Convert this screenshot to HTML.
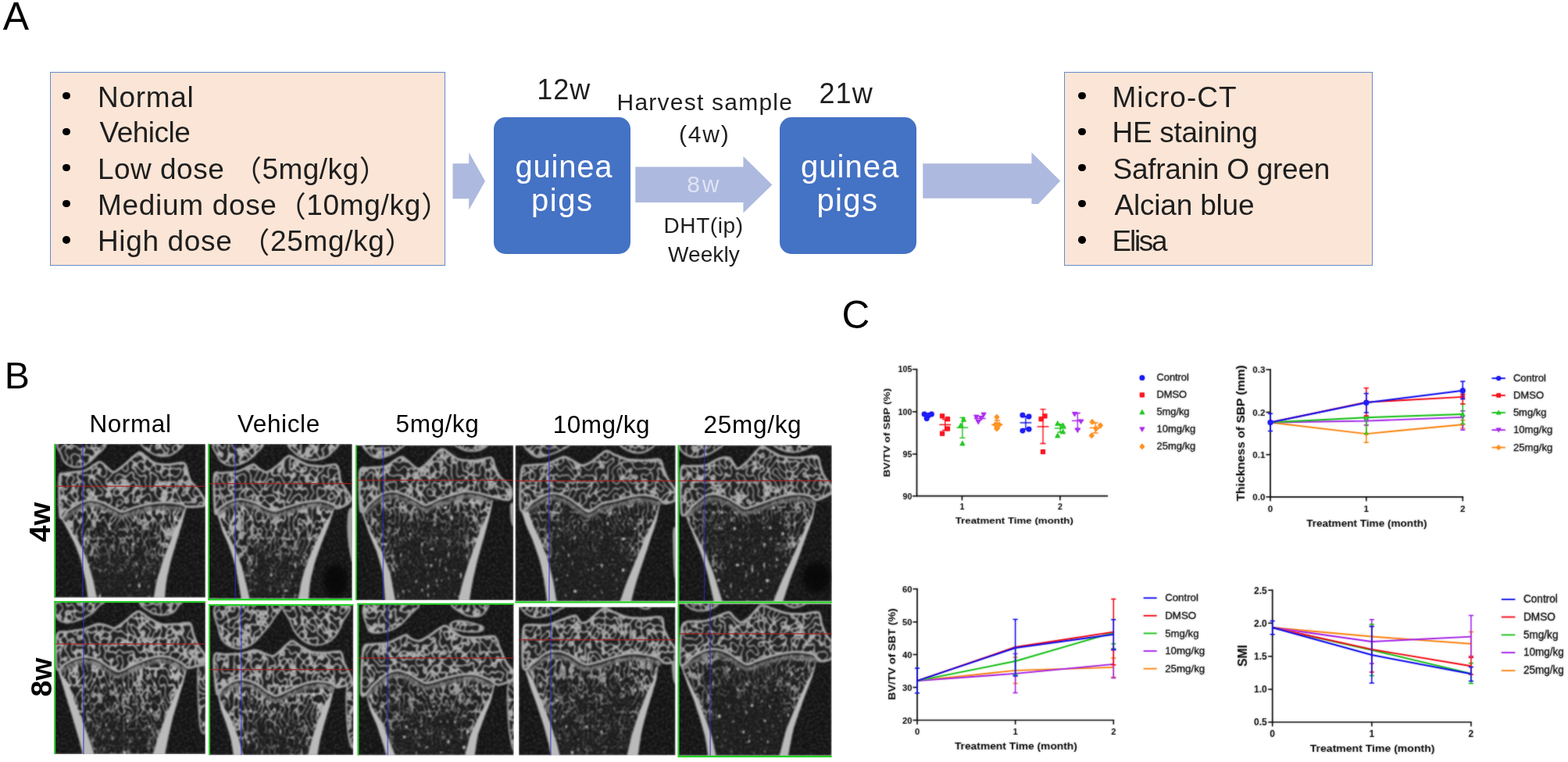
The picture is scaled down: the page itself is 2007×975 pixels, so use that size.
<!DOCTYPE html>
<html lang="en">
<head>
<meta charset="utf-8">
<title>Figure: DHT treatment in guinea pigs - study design, micro-CT and bone parameters</title>
<style>
html,body{margin:0;padding:0;background:#fff}
body{width:2007px;height:975px;position:relative;overflow:hidden;font-family:"Liberation Sans","Noto Sans CJK SC",sans-serif}
svg{display:block}

.pa{position:absolute;left:0;top:0;width:2007px;height:400px}
.tx{position:absolute;font-family:"Liberation Sans","Noto Sans CJK SC",sans-serif;white-space:nowrap;line-height:1.2;margin:0;padding:0}
.box{position:absolute;box-sizing:border-box;background:#fbe5d6;border:1.8px solid #668bce}
.tx .fp{position:relative;top:3.2px}
.ls{list-style:none;margin:0;padding:0}
.bul{position:absolute;width:9.6px;height:9.6px;border-radius:50%;background:#000}
.gp{position:absolute;background:#4472c4;border-radius:15px}
.arr{position:absolute;left:570px;top:185px;width:800px;height:100px}


.pb{position:absolute;left:0;top:440px;width:1100px;height:535px}
.pb text{font-family:"Liberation Sans","Noto Sans CJK SC",sans-serif;fill:#000}


.pc{position:absolute;left:1070px;top:370px;width:937px;height:605px}
.pc text{font-family:"Liberation Sans","Noto Sans CJK SC",sans-serif;fill:#1a1a1a}
.pc .chart{filter:url(#cblur)}

</style>
</head>
<body>

<section class="pa">
  <div class="tx" id="lblA" style="left:3.85px;top:-9.43px;font-size:50.00px;letter-spacing:-2.800px;color:#000">A</div>
  <div class="box" style="left:64px;top:92.4px;width:506.2px;height:248px"></div>
  <div class="box" style="left:1362.2px;top:92.4px;width:395.2px;height:248px"></div>
  <i class="bul" style="left:80.4px;top:117.8px"></i><i class="bul" style="left:80.4px;top:163.8px"></i><i class="bul" style="left:80.4px;top:209.8px"></i><i class="bul" style="left:80.4px;top:255.8px"></i><i class="bul" style="left:80.4px;top:302.1px"></i><i class="bul" style="left:1380.0px;top:117.8px"></i><i class="bul" style="left:1380.0px;top:163.8px"></i><i class="bul" style="left:1380.0px;top:209.8px"></i><i class="bul" style="left:1380.0px;top:255.8px"></i><i class="bul" style="left:1380.0px;top:302.1px"></i>
  <ul class="ls">
  <li class="tx" id="l1" style="left:125.00px;top:102.78px;font-size:37.00px;letter-spacing:0.720px;color:#1e1e1e">Normal</li>
  <li class="tx" id="l2" style="left:127.50px;top:148.38px;font-size:37.00px;letter-spacing:-0.500px;color:#1e1e1e">Vehicle</li>
  <li class="tx" id="l3" style="left:125.00px;top:194.68px;font-size:37.00px;letter-spacing:0.475px;color:#1e1e1e">Low dose <span class="fp">（</span>5mg/kg<span class="fp">）</span></li>
  <li class="tx" id="l4" style="left:125.00px;top:240.98px;font-size:37.00px;letter-spacing:0.684px;color:#1e1e1e">Medium dose<span class="fp">（</span>10mg/kg<span class="fp">）</span></li>
  <li class="tx" id="l5" style="left:125.00px;top:287.28px;font-size:37.00px;letter-spacing:0.644px;color:#1e1e1e">High dose <span class="fp">（</span>25mg/kg<span class="fp">）</span></li>
  </ul>
  <svg class="arr" viewBox="570 185 800 100" aria-hidden="true">
    <g fill="#adb9de">
      <path d="M579.5 209.3H600.2V195L621 231.7L600.2 268.6V254.3H579.5Z"/>
      <path d="M813.3 213.6H951.4V200L988.4 236.4L951.4 272.4V258.9H813.3Z"/>
      <path d="M1181.2 209.3H1320.4V195L1357.2 231.6L1329 261H1320.4V253.8H1181.2Z"/>
    </g>
  </svg>
  <div class="tx" id="t12" style="left:687.20px;top:93.33px;font-size:36.00px;letter-spacing:1.000px;color:#1e1e1e">12w</div>
  <div class="gp" style="left:632.3px;top:149.7px;width:174.6px;height:175px"></div>
  <div class="tx" id="g1a" style="left:659.50px;top:189.14px;font-size:40.00px;letter-spacing:0.800px;color:#fff">guinea</div>
  <div class="tx" id="g1b" style="left:680.00px;top:231.64px;font-size:40.00px;letter-spacing:1.533px;color:#fff">pigs</div>
  <div class="tx" id="tHarv" style="left:789.50px;top:112.80px;font-size:30.00px;letter-spacing:1.231px;color:#1e1e1e">Harvest sample</div>
  <div class="tx" id="t4w" style="left:869.00px;top:153.60px;font-size:30.00px;letter-spacing:1.800px;color:#1e1e1e">(4w)</div>
  <div class="tx" id="t8w" style="left:879.20px;top:217.60px;font-size:30.00px;letter-spacing:2.800px;color:#dfe4f3">8w</div>
  <div class="tx" id="tDHT" style="left:849.50px;top:272.30px;font-size:28.00px;letter-spacing:0.600px;color:#1e1e1e">DHT(ip)</div>
  <div class="tx" id="tWk" style="left:855.00px;top:308.50px;font-size:28.00px;letter-spacing:0.080px;color:#1e1e1e">Weekly</div>
  <div class="tx" id="t21" style="left:1048.60px;top:97.63px;font-size:36.00px;letter-spacing:1.000px;color:#1e1e1e">21w</div>
  <div class="gp" style="left:998.2px;top:149.7px;width:174.6px;height:175px"></div>
  <div class="tx" id="g2a" style="left:1025.00px;top:189.14px;font-size:40.00px;letter-spacing:1.040px;color:#fff">guinea</div>
  <div class="tx" id="g2b" style="left:1045.50px;top:231.64px;font-size:40.00px;letter-spacing:1.333px;color:#fff">pigs</div>
  <ul class="ls">
  <li class="tx" id="r1" style="left:1423.50px;top:102.78px;font-size:37.00px;letter-spacing:1.000px;color:#1e1e1e">Micro-CT</li>
  <li class="tx" id="r2" style="left:1423.50px;top:148.38px;font-size:37.00px;letter-spacing:-0.300px;color:#1e1e1e">HE staining</li>
  <li class="tx" id="r3" style="left:1424.50px;top:194.68px;font-size:37.00px;letter-spacing:-0.267px;color:#1e1e1e">Safranin O green</li>
  <li class="tx" id="r4" style="left:1426.50px;top:240.98px;font-size:37.00px;letter-spacing:-0.200px;color:#1e1e1e">Alcian blue</li>
  <li class="tx" id="r5" style="left:1423.50px;top:287.28px;font-size:37.00px;letter-spacing:-2.250px;color:#1e1e1e">Elisa</li>
  </ul>
</section>


<svg class="pb" viewBox="0 440 1100 535" role="img" aria-label="Micro-CT images">
<defs>
<filter id="grain" x="0" y="0" width="100%" height="100%" color-interpolation-filters="sRGB">
<feTurbulence type="fractalNoise" baseFrequency="0.42" numOctaves="2" seed="5"/>
<feColorMatrix type="matrix" values="0 0 0 0 1  0 0 0 0 1  0 0 0 0 1  0 0 0 .62 -0.29"/>
</filter>
<filter id="soft" x="-2%" y="-2%" width="104%" height="104%" color-interpolation-filters="sRGB"><feGaussianBlur stdDeviation="0.85"/></filter>
<filter id="b05" x="-10%" y="-30%" width="120%" height="160%" color-interpolation-filters="sRGB"><feGaussianBlur stdDeviation="0.5"/></filter>
<filter id="b1" x="-10%" y="-30%" width="120%" height="160%" color-interpolation-filters="sRGB"><feGaussianBlur stdDeviation="1.2"/></filter>
<radialGradient id="blob"><stop offset="0" stop-color="#060606" stop-opacity=".9"/><stop offset=".6" stop-color="#060606" stop-opacity=".8"/><stop offset="1" stop-color="#060606" stop-opacity="0"/></radialGradient>
</defs>
<text id="lblB" x="5.80" y="497.2" font-size="48.2" style="letter-spacing:6.000px">B</text>
<text id="hN" x="114.40" y="553.2" font-size="31.5" style="letter-spacing:0.600px">Normal</text>
<text id="hV" x="303.90" y="553.2" font-size="31.5" style="letter-spacing:0.633px">Vehicle</text>
<text id="h5" x="506.60" y="552.8" font-size="31.5" style="letter-spacing:0.560px">5mg/kg</text>
<text id="h10" x="707.70" y="554.3" font-size="31.5" style="letter-spacing:0.500px">10mg/kg</text>
<text id="h25" x="900.60" y="554.3" font-size="31.5" style="letter-spacing:0.700px">25mg/kg</text>
<text transform="translate(64.2 693.4) rotate(-90)" font-size="37" font-weight="bold" textLength="51" lengthAdjust="spacingAndGlyphs">4w</text>
<text transform="translate(65.6 891.6) rotate(-90)" font-size="37" font-weight="bold" textLength="50" lengthAdjust="spacingAndGlyphs">8w</text>
<clipPath id="cp-r1c1"><rect x="69.4" y="567.9" width="193.7" height="196.8"/></clipPath>
<filter id="ve-r1c1" x="67.4" y="565.9" width="197.7" height="200.8" filterUnits="userSpaceOnUse" color-interpolation-filters="sRGB">
<feTurbulence type="turbulence" baseFrequency="0.14 0.115" numOctaves="1" seed="3"/>
<feColorMatrix type="matrix" values="0 0 0 0 .7  0 0 0 0 .7  0 0 0 0 .7  0 0 0 -11 1.7"/>
<feComposite operator="in" in2="SourceGraphic"/>
</filter>
<filter id="vm-r1c1" x="67.4" y="565.9" width="197.7" height="200.8" filterUnits="userSpaceOnUse" color-interpolation-filters="sRGB">
<feTurbulence type="turbulence" baseFrequency="0.17 0.09" numOctaves="1" seed="103" result="t"/>
<feColorMatrix type="matrix" values="0 0 0 0 .78  0 0 0 0 .78  0 0 0 0 .78  0 0 0 -4.2 1" result="v"/>
<feTurbulence type="fractalNoise" baseFrequency="0.07 0.045" numOctaves="2" seed="203"/>
<feColorMatrix type="matrix" values="0 0 0 0 1  0 0 0 0 1  0 0 0 0 1  0 0 0 2.2 -0.22" result="n"/>
<feGaussianBlur in="SourceGraphic" stdDeviation="4" result="g0"/>
<feComposite in="g0" in2="n" operator="arithmetic" k1="0.55" k2="0.5" k3="0" k4="0" result="g"/>
<feComposite in="v" in2="g" operator="arithmetic" k1="1" k2="0" k3="0" k4="0" result="m"/>
<feComponentTransfer in="m"><feFuncA type="linear" slope="12" intercept="-4.7"/></feComponentTransfer>
<feComposite operator="in" in2="SourceAlpha"/>
</filter>
<filter id="sp-r1c1" x="67.4" y="565.9" width="197.7" height="200.8" filterUnits="userSpaceOnUse" color-interpolation-filters="sRGB">
<feTurbulence type="fractalNoise" baseFrequency="0.26 0.15" numOctaves="1" seed="303"/>
<feColorMatrix type="matrix" values="0 0 0 0 .78  0 0 0 0 .78  0 0 0 0 .78  0 0 0 14 -9.45"/>
<feComposite operator="in" in2="SourceGraphic"/>
</filter>
<linearGradient id="dg-r1c1" gradientUnits="userSpaceOnUse" x1="0" y1="639.7" x2="0" y2="764.7"><stop offset="0" stop-color="#fff" stop-opacity="0.95"/><stop offset=".3" stop-color="#fff" stop-opacity="0.72"/><stop offset=".62" stop-color="#fff" stop-opacity="0.5"/><stop offset="1" stop-color="#fff" stop-opacity="0.43"/></linearGradient>
<clipPath id="cm-r1c1"><path d="M77.2 661.7L88 652.6L103.1 642.9L116 639.7L131.1 642.9L146.2 650.5L156.9 654.8L172 649.4L189.2 645.1L210.8 642.9L232.3 645.1L238.8 648.3L260.3 647.2L238.8 648.3L232.3 672L225.8 693.5L219.4 715.1L212.9 743.1L210.8 766.8L112.8 766.8L109.5 743.1L103.1 715.1L96.6 697.8L88 680.6L78.3 663.4Z"/></clipPath>
<g clip-path="url(#cp-r1c1)"><g filter="url(#soft)"><rect x="69.4" y="567.9" width="193.7" height="196.8" fill="#101010"/><rect x="69.4" y="567.9" width="193.7" height="196.8" filter="url(#grain)"/><path d="M76.8 566.5C67.6 569 77.2 577.2 78.3 581.5C79.5 585.8 80.6 589.6 83.7 592.3C86.7 595 92.3 597.3 96.6 597.7C100.9 598.1 105.2 596.8 109.5 594.5C113.8 592.1 118.5 588.4 122.5 583.7C126.4 579 140.8 569.3 133.2 566.5C125.6 563.6 86 563.9 76.8 566.5Z" fill="#232323"/><path d="M76.8 566.5C67.6 569 77.2 577.2 78.3 581.5C79.5 585.8 80.6 589.6 83.7 592.3C86.7 595 92.3 597.3 96.6 597.7C100.9 598.1 105.2 596.8 109.5 594.5C113.8 592.1 118.5 588.4 122.5 583.7C126.4 579 140.8 569.3 133.2 566.5C125.6 563.6 86 563.9 76.8 566.5Z" fill="#fff" filter="url(#ve-r1c1)"/><path d="M76.8 566.5C67.6 569 77.2 577.2 78.3 581.5C79.5 585.8 80.6 589.6 83.7 592.3C86.7 595 92.3 597.3 96.6 597.7C100.9 598.1 105.2 596.8 109.5 594.5C113.8 592.1 118.5 588.4 122.5 583.7C126.4 579 140.8 569.3 133.2 566.5C125.6 563.6 86 563.9 76.8 566.5Z" fill="none" stroke="#a6a6a6" stroke-width="2.2"/><path d="M182.8 566.5C176.3 568.6 189.2 576.5 193.5 579.4C197.8 582.3 203.6 583.7 208.6 583.7C213.6 583.7 219.7 582.3 223.7 579.4C227.6 576.5 239.1 568.6 232.3 566.5C225.5 564.3 189.2 564.3 182.8 566.5Z" fill="#232323"/><path d="M182.8 566.5C176.3 568.6 189.2 576.5 193.5 579.4C197.8 582.3 203.6 583.7 208.6 583.7C213.6 583.7 219.7 582.3 223.7 579.4C227.6 576.5 239.1 568.6 232.3 566.5C225.5 564.3 189.2 564.3 182.8 566.5Z" fill="#fff" filter="url(#ve-r1c1)"/><path d="M182.8 566.5C176.3 568.6 189.2 576.5 193.5 579.4C197.8 582.3 203.6 583.7 208.6 583.7C213.6 583.7 219.7 582.3 223.7 579.4C227.6 576.5 239.1 568.6 232.3 566.5C225.5 564.3 189.2 564.3 182.8 566.5Z" fill="none" stroke="#a6a6a6" stroke-width="2.2"/><path d="M77.2 661.7L88 652.6L103.1 642.9L116 639.7L131.1 642.9L146.2 650.5L156.9 654.8L172 649.4L189.2 645.1L210.8 642.9L232.3 645.1L238.8 648.3L260.3 647.2L238.8 648.3L232.3 672L225.8 693.5L219.4 715.1L212.9 743.1L210.8 766.8L112.8 766.8L109.5 743.1L103.1 715.1L96.6 697.8L88 680.6L78.3 663.4Z" fill="#fff" fill-opacity=".035"/><g filter="url(#vm-r1c1)" clip-path="url(#cm-r1c1)"><rect x="59.4" y="557.9" width="213.7" height="216.8" fill="url(#dg-r1c1)"/><path d="M78.3 663.4L88 680.6L96.6 697.8L103.1 715.1L125.1 715.1L118.6 697.8L110 680.6L100.3 663.4Z" fill="#fff" fill-opacity="0.35"/><path d="M238.8 648.3L232.3 672L225.8 693.5L219.4 715.1L197.4 715.1L203.8 693.5L210.3 672L216.8 648.3Z" fill="#fff" fill-opacity="0.35"/></g><path d="M77.2 661.7L88 652.6L103.1 642.9L116 639.7L131.1 642.9L146.2 650.5L156.9 654.8L172 649.4L189.2 645.1L210.8 642.9L232.3 645.1L238.8 648.3L260.3 647.2L238.8 648.3L232.3 672L225.8 693.5L219.4 715.1L212.9 743.1L210.8 766.8L112.8 766.8L109.5 743.1L103.1 715.1L96.6 697.8L88 680.6L78.3 663.4Z" fill="#fff" filter="url(#sp-r1c1)"/><g clip-path="url(#cm-r1c1)"><path d="M77.2 668.1C79 666.6 83.7 662.2 88 659.1C92.3 656 98.4 651.5 103.1 649.4C107.7 647.2 111.3 646.2 116 646.2C120.7 646.2 126.1 647.6 131.1 649.4C136.1 651.2 141.8 654.9 146.2 656.9C150.5 658.9 152.6 661.4 156.9 661.2C161.2 661.1 166.6 657.5 172 655.8C177.4 654.2 182.8 652.6 189.2 651.5C195.7 650.5 203.6 649.4 210.8 649.4C217.9 649.4 227.6 650.6 232.3 651.5C237 652.4 234.1 654.4 238.8 654.8C243.4 655.1 256.7 653.9 260.3 653.7" fill="none" stroke="#707070" stroke-width="5" stroke-opacity=".8" filter="url(#b1)"/><path d="M77.2 663.6C79 662.1 83.7 657.7 88 654.6C92.3 651.4 98.4 647 103.1 644.9C107.7 642.7 111.3 641.6 116 641.6C120.7 641.6 126.1 643.1 131.1 644.9C136.1 646.7 141.8 650.4 146.2 652.4C150.5 654.4 152.6 656.9 156.9 656.7C161.2 656.5 166.6 652.9 172 651.3C177.4 649.7 182.8 648.1 189.2 647C195.7 645.9 203.6 644.9 210.8 644.9C217.9 644.9 227.6 646.1 232.3 647C237 647.9 234.1 649.9 238.8 650.2C243.4 650.6 256.7 649.3 260.3 649.2" fill="none" stroke="#1a1a1a" stroke-width="2.6" filter="url(#b05)"/></g><path d="M78.3 663.4L82.5 670.8L86.6 678.1L90.5 685.7L94.3 693.2L97.8 700.9L100.7 708.9L103.5 716.9L105.4 725.1L107.3 733.4L109.2 741.6L110.5 750L111.6 758.4L112.8 766.8L124.4 766.8L122.7 758.4L121 750L119.1 741.6L116.6 733.4L114.2 725.1L111.7 716.9L108.4 708.9L104.8 700.9L100.8 693.2L96 685.7L90.1 678.1L84.5 670.8L79.5 663.4Z" fill="#bababa"/><path d="M238.8 648.3L236.3 657.4L233.8 666.4L231.3 675.5L228.6 684.5L225.9 693.4L223.2 702.4L220.5 711.4L218.1 720.5L216 729.7L213.9 738.8L212.5 748.1L211.6 757.4L210.8 766.8L196.3 766.8L198 757.4L199.6 748.1L201.8 738.8L204.7 729.7L207.5 720.5L210.6 711.4L214.1 702.4L217.6 693.4L221 684.5L224.5 675.5L229.1 666.4L233.8 657.4L237.6 648.3Z" fill="#bababa"/><path d="M76.2 610.6C76.8 602.9 79 607.2 81.5 606.3C84.1 605.4 90.5 604.8 94.5 604.2C98.4 603.6 105 603.8 109.5 602C114.1 600.2 123.3 592.1 126.8 591.2C130.2 590.3 131.7 593.7 134.3 595.5C136.9 597.3 141.9 604 145.1 604.2C148.2 604.3 152.4 600.1 156.9 596.6C161.4 593.1 173.5 581.3 177.4 579.4C181.3 577.4 182.1 580.8 184.9 582.6C187.8 584.4 193.6 590.6 197.8 592.3C202.1 594 210.3 594.5 215.1 594.5C219.9 594.5 229.1 592.2 232.3 592.3C235.5 592.5 236.2 592.5 237.7 595.5C239.2 598.6 240.8 609.5 243.1 613.8C245.3 618.2 251.3 623.2 253.8 626.8C256.4 630.4 260.5 636.8 261.4 639.7C262.3 642.6 263.5 646 260.3 647.2C257.1 648.4 242.7 648.6 238.8 648.3C234.8 648 236.2 645.8 232.3 645.1C228.4 644.3 216.8 642.9 210.8 642.9C204.7 642.9 194.7 644.2 189.2 645.1C183.8 646 176.5 648 172 649.4C167.5 650.7 160.5 654.6 156.9 654.8C153.3 654.9 149.8 652.1 146.2 650.5C142.5 648.8 135.3 644.4 131.1 642.9C126.9 641.4 119.9 639.7 116 639.7C112.1 639.7 107 641.1 103.1 642.9C99.2 644.7 91.6 650 88 652.6C84.4 655.2 78.9 667.5 77.2 661.7C75.6 655.8 75.6 618.4 76.2 610.6Z" fill="#232323"/><path d="M76.2 610.6C76.8 602.9 79 607.2 81.5 606.3C84.1 605.4 90.5 604.8 94.5 604.2C98.4 603.6 105 603.8 109.5 602C114.1 600.2 123.3 592.1 126.8 591.2C130.2 590.3 131.7 593.7 134.3 595.5C136.9 597.3 141.9 604 145.1 604.2C148.2 604.3 152.4 600.1 156.9 596.6C161.4 593.1 173.5 581.3 177.4 579.4C181.3 577.4 182.1 580.8 184.9 582.6C187.8 584.4 193.6 590.6 197.8 592.3C202.1 594 210.3 594.5 215.1 594.5C219.9 594.5 229.1 592.2 232.3 592.3C235.5 592.5 236.2 592.5 237.7 595.5C239.2 598.6 240.8 609.5 243.1 613.8C245.3 618.2 251.3 623.2 253.8 626.8C256.4 630.4 260.5 636.8 261.4 639.7C262.3 642.6 263.5 646 260.3 647.2C257.1 648.4 242.7 648.6 238.8 648.3C234.8 648 236.2 645.8 232.3 645.1C228.4 644.3 216.8 642.9 210.8 642.9C204.7 642.9 194.7 644.2 189.2 645.1C183.8 646 176.5 648 172 649.4C167.5 650.7 160.5 654.6 156.9 654.8C153.3 654.9 149.8 652.1 146.2 650.5C142.5 648.8 135.3 644.4 131.1 642.9C126.9 641.4 119.9 639.7 116 639.7C112.1 639.7 107 641.1 103.1 642.9C99.2 644.7 91.6 650 88 652.6C84.4 655.2 78.9 667.5 77.2 661.7C75.6 655.8 75.6 618.4 76.2 610.6Z" fill="#fff" filter="url(#ve-r1c1)"/><path d="M76.2 610.6C76.8 602.9 79 607.2 81.5 606.3C84.1 605.4 90.5 604.8 94.5 604.2C98.4 603.6 105 603.8 109.5 602C114.1 600.2 123.3 592.1 126.8 591.2C130.2 590.3 131.7 593.7 134.3 595.5C136.9 597.3 141.9 604 145.1 604.2C148.2 604.3 152.4 600.1 156.9 596.6C161.4 593.1 173.5 581.3 177.4 579.4C181.3 577.4 182.1 580.8 184.9 582.6C187.8 584.4 193.6 590.6 197.8 592.3C202.1 594 210.3 594.5 215.1 594.5C219.9 594.5 229.1 592.2 232.3 592.3C235.5 592.5 236.2 592.5 237.7 595.5C239.2 598.6 240.8 609.5 243.1 613.8C245.3 618.2 251.3 623.2 253.8 626.8C256.4 630.4 260.5 636.8 261.4 639.7C262.3 642.6 263.5 646 260.3 647.2C257.1 648.4 242.7 648.6 238.8 648.3C234.8 648 236.2 645.8 232.3 645.1C228.4 644.3 216.8 642.9 210.8 642.9C204.7 642.9 194.7 644.2 189.2 645.1C183.8 646 176.5 648 172 649.4C167.5 650.7 160.5 654.6 156.9 654.8C153.3 654.9 149.8 652.1 146.2 650.5C142.5 648.8 135.3 644.4 131.1 642.9C126.9 641.4 119.9 639.7 116 639.7C112.1 639.7 107 641.1 103.1 642.9C99.2 644.7 91.6 650 88 652.6C84.4 655.2 78.9 667.5 77.2 661.7C75.6 655.8 75.6 618.4 76.2 610.6Z" fill="none" stroke="#ababab" stroke-width="2.9"/></g><rect x="69.4" y="621.5" width="193.7" height="1.5" fill="#b01c1c" fill-opacity=".72"/><rect x="105" y="567.9" width="1.8" height="196.8" fill="#2c2cd6" fill-opacity=".52"/></g>
<rect x="69.3" y="567.9" width="1.9" height="196.8" fill="#27d027"/>
<clipPath id="cp-r1c2"><rect x="266.3" y="567.9" width="184.6" height="198.2"/></clipPath>
<filter id="ve-r1c2" x="264.3" y="565.9" width="188.6" height="202.2" filterUnits="userSpaceOnUse" color-interpolation-filters="sRGB">
<feTurbulence type="turbulence" baseFrequency="0.14 0.115" numOctaves="1" seed="7"/>
<feColorMatrix type="matrix" values="0 0 0 0 .7  0 0 0 0 .7  0 0 0 0 .7  0 0 0 -11 1.75"/>
<feComposite operator="in" in2="SourceGraphic"/>
</filter>
<filter id="vm-r1c2" x="264.3" y="565.9" width="188.6" height="202.2" filterUnits="userSpaceOnUse" color-interpolation-filters="sRGB">
<feTurbulence type="turbulence" baseFrequency="0.17 0.09" numOctaves="1" seed="107" result="t"/>
<feColorMatrix type="matrix" values="0 0 0 0 .78  0 0 0 0 .78  0 0 0 0 .78  0 0 0 -4.2 1" result="v"/>
<feTurbulence type="fractalNoise" baseFrequency="0.07 0.045" numOctaves="2" seed="207"/>
<feColorMatrix type="matrix" values="0 0 0 0 1  0 0 0 0 1  0 0 0 0 1  0 0 0 2.2 -0.22" result="n"/>
<feGaussianBlur in="SourceGraphic" stdDeviation="4" result="g0"/>
<feComposite in="g0" in2="n" operator="arithmetic" k1="0.55" k2="0.5" k3="0" k4="0" result="g"/>
<feComposite in="v" in2="g" operator="arithmetic" k1="1" k2="0" k3="0" k4="0" result="m"/>
<feComponentTransfer in="m"><feFuncA type="linear" slope="12" intercept="-4.7"/></feComponentTransfer>
<feComposite operator="in" in2="SourceAlpha"/>
</filter>
<filter id="sp-r1c2" x="264.3" y="565.9" width="188.6" height="202.2" filterUnits="userSpaceOnUse" color-interpolation-filters="sRGB">
<feTurbulence type="fractalNoise" baseFrequency="0.26 0.15" numOctaves="1" seed="307"/>
<feColorMatrix type="matrix" values="0 0 0 0 .78  0 0 0 0 .78  0 0 0 0 .78  0 0 0 14 -9.45"/>
<feComposite operator="in" in2="SourceGraphic"/>
</filter>
<linearGradient id="dg-r1c2" gradientUnits="userSpaceOnUse" x1="0" y1="638.6" x2="0" y2="766.1"><stop offset="0" stop-color="#fff" stop-opacity="0.95"/><stop offset=".3" stop-color="#fff" stop-opacity="0.75"/><stop offset=".62" stop-color="#fff" stop-opacity="0.54"/><stop offset="1" stop-color="#fff" stop-opacity="0.45"/></linearGradient>
<clipPath id="cm-r1c2"><path d="M275.5 655.8L280.8 650.5L293.8 641.8L308.8 638.6L326.1 642.9L341.2 650.5L351.9 653.7L369.2 648.3L388.5 642.9L410.1 640.8L427.3 646.2L431.6 650.5L427.3 652.6L420.8 672L412.2 693.5L403.6 717.2L397.2 743.1L395 766.8L308.8 766.8L305.6 747.4L301.3 723.7L293.8 700L285.2 680.6L277.6 656.9Z"/></clipPath>
<g clip-path="url(#cp-r1c2)"><g filter="url(#soft)"><rect x="266.3" y="567.9" width="184.6" height="198.2" fill="#101010"/><rect x="266.3" y="567.9" width="184.6" height="198.2" filter="url(#grain)"/><ellipse cx="429.5" cy="743.1" rx="19.4" ry="26.5" fill="url(#blob)"/><path d="M276.5 566.5C267.4 569.3 276.9 579.2 278.7 583.7C280.5 588.2 283.7 591.4 287.3 593.4C290.9 595.4 295.6 596.1 300.2 595.5C304.9 595 310.6 592.8 315.3 590.2C320 587.5 325.2 583.3 328.2 579.4C331.3 575.4 342.2 568.6 333.6 566.5C325 564.3 285.7 563.6 276.5 566.5Z" fill="#232323"/><path d="M276.5 566.5C267.4 569.3 276.9 579.2 278.7 583.7C280.5 588.2 283.7 591.4 287.3 593.4C290.9 595.4 295.6 596.1 300.2 595.5C304.9 595 310.6 592.8 315.3 590.2C320 587.5 325.2 583.3 328.2 579.4C331.3 575.4 342.2 568.6 333.6 566.5C325 564.3 285.7 563.6 276.5 566.5Z" fill="#fff" filter="url(#ve-r1c2)"/><path d="M276.5 566.5C267.4 569.3 276.9 579.2 278.7 583.7C280.5 588.2 283.7 591.4 287.3 593.4C290.9 595.4 295.6 596.1 300.2 595.5C304.9 595 310.6 592.8 315.3 590.2C320 587.5 325.2 583.3 328.2 579.4C331.3 575.4 342.2 568.6 333.6 566.5C325 564.3 285.7 563.6 276.5 566.5Z" fill="none" stroke="#a6a6a6" stroke-width="2.2"/><path d="M371.3 566.5C363.1 569 376 577.9 379.9 581.5C383.9 585.1 389.6 587.1 395 588C400.4 588.9 407.2 588.5 412.2 586.9C417.3 585.3 422.3 581.7 425.2 578.3C428 574.9 438.4 568.4 429.5 566.5C420.5 564.5 379.6 563.9 371.3 566.5Z" fill="#232323"/><path d="M371.3 566.5C363.1 569 376 577.9 379.9 581.5C383.9 585.1 389.6 587.1 395 588C400.4 588.9 407.2 588.5 412.2 586.9C417.3 585.3 422.3 581.7 425.2 578.3C428 574.9 438.4 568.4 429.5 566.5C420.5 564.5 379.6 563.9 371.3 566.5Z" fill="#fff" filter="url(#ve-r1c2)"/><path d="M371.3 566.5C363.1 569 376 577.9 379.9 581.5C383.9 585.1 389.6 587.1 395 588C400.4 588.9 407.2 588.5 412.2 586.9C417.3 585.3 422.3 581.7 425.2 578.3C428 574.9 438.4 568.4 429.5 566.5C420.5 564.5 379.6 563.9 371.3 566.5Z" fill="none" stroke="#a6a6a6" stroke-width="2.2"/><path d="M275.5 655.8L280.8 650.5L293.8 641.8L308.8 638.6L326.1 642.9L341.2 650.5L351.9 653.7L369.2 648.3L388.5 642.9L410.1 640.8L427.3 646.2L431.6 650.5L427.3 652.6L420.8 672L412.2 693.5L403.6 717.2L397.2 743.1L395 766.8L308.8 766.8L305.6 747.4L301.3 723.7L293.8 700L285.2 680.6L277.6 656.9Z" fill="#fff" fill-opacity=".035"/><g filter="url(#vm-r1c2)" clip-path="url(#cm-r1c2)"><rect x="256.3" y="557.9" width="204.6" height="218.2" fill="url(#dg-r1c2)"/><path d="M277.6 656.9L285.2 680.6L293.8 700L301.3 723.7L323.3 723.7L315.8 700L307.2 680.6L299.6 656.9Z" fill="#fff" fill-opacity="0.35"/><path d="M427.3 652.6L420.8 672L412.2 693.5L403.6 717.2L381.6 717.2L390.2 693.5L398.8 672L405.3 652.6Z" fill="#fff" fill-opacity="0.35"/></g><path d="M275.5 655.8L280.8 650.5L293.8 641.8L308.8 638.6L326.1 642.9L341.2 650.5L351.9 653.7L369.2 648.3L388.5 642.9L410.1 640.8L427.3 646.2L431.6 650.5L427.3 652.6L420.8 672L412.2 693.5L403.6 717.2L397.2 743.1L395 766.8L308.8 766.8L305.6 747.4L301.3 723.7L293.8 700L285.2 680.6L277.6 656.9Z" fill="#fff" filter="url(#sp-r1c2)"/><g clip-path="url(#cm-r1c2)"><path d="M275.5 662.3C276.4 661.4 277.8 659.3 280.8 656.9C283.9 654.6 289.1 650.3 293.8 648.3C298.4 646.3 303.5 644.9 308.8 645.1C314.2 645.3 320.7 647.4 326.1 649.4C331.5 651.4 336.8 655.1 341.2 656.9C345.5 658.7 347.3 660.5 351.9 660.2C356.6 659.8 363.1 656.6 369.2 654.8C375.3 653 381.7 650.6 388.5 649.4C395.4 648.1 403.6 646.7 410.1 647.2C416.5 647.8 423.7 651 427.3 652.6C430.9 654.2 430.9 656.2 431.6 656.9" fill="none" stroke="#707070" stroke-width="5" stroke-opacity=".8" filter="url(#b1)"/><path d="M275.5 657.8C276.4 656.9 277.8 654.7 280.8 652.4C283.9 650.1 289.1 645.8 293.8 643.8C298.4 641.8 303.5 640.4 308.8 640.6C314.2 640.7 320.7 642.9 326.1 644.9C331.5 646.8 336.8 650.6 341.2 652.4C345.5 654.2 347.3 656 351.9 655.6C356.6 655.3 363.1 652 369.2 650.2C375.3 648.5 381.7 646.1 388.5 644.9C395.4 643.6 403.6 642.2 410.1 642.7C416.5 643.2 423.7 646.5 427.3 648.1C430.9 649.7 430.9 651.7 431.6 652.4" fill="none" stroke="#1a1a1a" stroke-width="2.6" filter="url(#b05)"/></g><path d="M277.6 656.9L280.3 665.3L283 673.7L285.8 682.1L289.4 690.1L293 698.2L295.8 706.5L298.5 714.9L301.2 723.3L302.8 732L304.4 740.7L305.9 749.4L307.4 758.1L308.8 766.8L319.8 766.8L317.8 758.1L315.7 749.4L313.5 740.7L311.3 732L309.1 723.3L305.8 714.9L302.5 706.5L299 698.2L294.8 690.1L289.8 682.1L285.7 673.7L282 665.3L278.8 656.9Z" fill="#bababa"/><path d="M427.3 652.6L424.4 661.3L421.5 670L418.2 678.6L414.8 687.1L411.5 695.6L408.3 704.3L405.2 712.9L402.5 721.7L400.3 730.6L398.1 739.5L396.7 748.5L395.8 757.6L395 766.8L381.9 766.8L383.3 757.6L384.8 748.5L386.9 739.5L389.7 730.6L392.6 721.7L395.9 712.9L399.7 704.3L403.5 695.6L407.5 687.1L411.5 678.6L415.4 670L421.4 661.3L426.1 652.6Z" fill="#bababa"/><path d="M274.4 608.5C275.4 601.4 278.8 606 283 605.2C287.2 604.5 298.8 604.6 304.5 603.1C310.3 601.6 320.3 595.1 323.9 594.5C327.5 593.9 328 597.4 330.4 598.8C332.8 600.1 337.8 604.5 341.2 604.2C344.5 603.9 350.2 599.5 354.1 596.6C358 593.8 365.8 585 369.2 583.7C372.5 582.3 374.5 585.4 377.8 586.9C381.1 588.4 388 593.1 392.8 594.5C397.7 595.8 407.1 596.6 412.2 596.6C417.4 596.6 426.4 593.6 429.5 594.5C432.5 595.4 432.9 600.1 433.8 603.1C434.7 606.1 434.4 612.4 435.9 616C437.4 619.6 442.7 625.9 444.5 628.9C446.3 631.9 448.8 635.3 448.8 637.5C448.8 639.8 447 643.3 444.5 645.1C442.1 646.9 434 650.3 431.6 650.5C429.2 650.6 430.3 647.5 427.3 646.2C424.3 644.8 415.5 641.2 410.1 640.8C404.6 640.3 394.3 641.9 388.5 642.9C382.8 644 374.3 646.8 369.2 648.3C364 649.8 355.8 653.4 351.9 653.7C348 654 344.8 652 341.2 650.5C337.5 649 330.6 644.6 326.1 642.9C321.6 641.3 313.4 638.8 308.8 638.6C304.3 638.5 297.7 640.2 293.8 641.8C289.8 643.5 283.4 648.5 280.8 650.5C278.3 652.4 276.4 661.7 275.5 655.8C274.6 650 273.3 615.5 274.4 608.5Z" fill="#232323"/><path d="M274.4 608.5C275.4 601.4 278.8 606 283 605.2C287.2 604.5 298.8 604.6 304.5 603.1C310.3 601.6 320.3 595.1 323.9 594.5C327.5 593.9 328 597.4 330.4 598.8C332.8 600.1 337.8 604.5 341.2 604.2C344.5 603.9 350.2 599.5 354.1 596.6C358 593.8 365.8 585 369.2 583.7C372.5 582.3 374.5 585.4 377.8 586.9C381.1 588.4 388 593.1 392.8 594.5C397.7 595.8 407.1 596.6 412.2 596.6C417.4 596.6 426.4 593.6 429.5 594.5C432.5 595.4 432.9 600.1 433.8 603.1C434.7 606.1 434.4 612.4 435.9 616C437.4 619.6 442.7 625.9 444.5 628.9C446.3 631.9 448.8 635.3 448.8 637.5C448.8 639.8 447 643.3 444.5 645.1C442.1 646.9 434 650.3 431.6 650.5C429.2 650.6 430.3 647.5 427.3 646.2C424.3 644.8 415.5 641.2 410.1 640.8C404.6 640.3 394.3 641.9 388.5 642.9C382.8 644 374.3 646.8 369.2 648.3C364 649.8 355.8 653.4 351.9 653.7C348 654 344.8 652 341.2 650.5C337.5 649 330.6 644.6 326.1 642.9C321.6 641.3 313.4 638.8 308.8 638.6C304.3 638.5 297.7 640.2 293.8 641.8C289.8 643.5 283.4 648.5 280.8 650.5C278.3 652.4 276.4 661.7 275.5 655.8C274.6 650 273.3 615.5 274.4 608.5Z" fill="#fff" filter="url(#ve-r1c2)"/><path d="M274.4 608.5C275.4 601.4 278.8 606 283 605.2C287.2 604.5 298.8 604.6 304.5 603.1C310.3 601.6 320.3 595.1 323.9 594.5C327.5 593.9 328 597.4 330.4 598.8C332.8 600.1 337.8 604.5 341.2 604.2C344.5 603.9 350.2 599.5 354.1 596.6C358 593.8 365.8 585 369.2 583.7C372.5 582.3 374.5 585.4 377.8 586.9C381.1 588.4 388 593.1 392.8 594.5C397.7 595.8 407.1 596.6 412.2 596.6C417.4 596.6 426.4 593.6 429.5 594.5C432.5 595.4 432.9 600.1 433.8 603.1C434.7 606.1 434.4 612.4 435.9 616C437.4 619.6 442.7 625.9 444.5 628.9C446.3 631.9 448.8 635.3 448.8 637.5C448.8 639.8 447 643.3 444.5 645.1C442.1 646.9 434 650.3 431.6 650.5C429.2 650.6 430.3 647.5 427.3 646.2C424.3 644.8 415.5 641.2 410.1 640.8C404.6 640.3 394.3 641.9 388.5 642.9C382.8 644 374.3 646.8 369.2 648.3C364 649.8 355.8 653.4 351.9 653.7C348 654 344.8 652 341.2 650.5C337.5 649 330.6 644.6 326.1 642.9C321.6 641.3 313.4 638.8 308.8 638.6C304.3 638.5 297.7 640.2 293.8 641.8C289.8 643.5 283.4 648.5 280.8 650.5C278.3 652.4 276.4 661.7 275.5 655.8C274.6 650 273.3 615.5 274.4 608.5Z" fill="none" stroke="#ababab" stroke-width="2.9"/><path d="M445.6 654.8C446.8 650.5 450.5 644.7 451.4 654.8C452.4 664.8 452 706.1 451.4 715.1C450.8 724.1 448.9 714.4 447.8 708.6C446.6 702.9 444.9 689.6 444.5 680.6C444.2 671.6 444.5 659.1 445.6 654.8Z" fill="#9a9a9a"/></g><rect x="266.3" y="618" width="184.6" height="1.5" fill="#b01c1c" fill-opacity=".72"/><rect x="300.4" y="567.9" width="1.8" height="198.2" fill="#2c2cd6" fill-opacity=".52"/></g>
<rect x="266.2" y="567.9" width="1.9" height="198.2" fill="#27d027"/>
<rect x="266.2" y="766" width="184.7" height="2.3" fill="#27d027"/>
<clipPath id="cp-r1c3"><rect x="455" y="569.6" width="202.3" height="198.4"/></clipPath>
<filter id="ve-r1c3" x="453" y="567.6" width="206.3" height="202.4" filterUnits="userSpaceOnUse" color-interpolation-filters="sRGB">
<feTurbulence type="turbulence" baseFrequency="0.14 0.115" numOctaves="1" seed="11"/>
<feColorMatrix type="matrix" values="0 0 0 0 .7  0 0 0 0 .7  0 0 0 0 .7  0 0 0 -11 1.6"/>
<feComposite operator="in" in2="SourceGraphic"/>
</filter>
<filter id="vm-r1c3" x="453" y="567.6" width="206.3" height="202.4" filterUnits="userSpaceOnUse" color-interpolation-filters="sRGB">
<feTurbulence type="turbulence" baseFrequency="0.17 0.09" numOctaves="1" seed="111" result="t"/>
<feColorMatrix type="matrix" values="0 0 0 0 .78  0 0 0 0 .78  0 0 0 0 .78  0 0 0 -4.2 1" result="v"/>
<feTurbulence type="fractalNoise" baseFrequency="0.07 0.045" numOctaves="2" seed="211"/>
<feColorMatrix type="matrix" values="0 0 0 0 1  0 0 0 0 1  0 0 0 0 1  0 0 0 2.2 -0.22" result="n"/>
<feGaussianBlur in="SourceGraphic" stdDeviation="4" result="g0"/>
<feComposite in="g0" in2="n" operator="arithmetic" k1="0.55" k2="0.5" k3="0" k4="0" result="g"/>
<feComposite in="v" in2="g" operator="arithmetic" k1="1" k2="0" k3="0" k4="0" result="m"/>
<feComponentTransfer in="m"><feFuncA type="linear" slope="12" intercept="-4.7"/></feComponentTransfer>
<feComposite operator="in" in2="SourceAlpha"/>
</filter>
<filter id="sp-r1c3" x="453" y="567.6" width="206.3" height="202.4" filterUnits="userSpaceOnUse" color-interpolation-filters="sRGB">
<feTurbulence type="fractalNoise" baseFrequency="0.26 0.15" numOctaves="1" seed="311"/>
<feColorMatrix type="matrix" values="0 0 0 0 .78  0 0 0 0 .78  0 0 0 0 .78  0 0 0 14 -9.45"/>
<feComposite operator="in" in2="SourceGraphic"/>
</filter>
<linearGradient id="dg-r1c3" gradientUnits="userSpaceOnUse" x1="0" y1="628.9" x2="0" y2="768"><stop offset="0" stop-color="#fff" stop-opacity="0.85"/><stop offset=".3" stop-color="#fff" stop-opacity="0.6"/><stop offset=".62" stop-color="#fff" stop-opacity="0.44"/><stop offset="1" stop-color="#fff" stop-opacity="0.4"/></linearGradient>
<clipPath id="cm-r1c3"><path d="M461.8 653.7L473.7 644L488.8 632.2L503.8 628.9L518.9 633.2L534 640.8L544.8 646.2L562 638.6L579.2 633.2L596.5 628.9L613.7 631.1L628.8 635.4L650.3 639.7L630.9 639.7L626.6 661.2L620.2 684.9L611.5 715.1L605.1 743.1L600.8 768.9L493.1 768.9L489.8 732.3L482.3 706.5L471.5 680.6L462.9 654.8Z"/></clipPath>
<g clip-path="url(#cp-r1c3)"><g filter="url(#soft)"><rect x="455" y="569.6" width="202.3" height="198.4" fill="#101010"/><rect x="455" y="569.6" width="202.3" height="198.4" filter="url(#grain)"/><path d="M467.2 567.5C460.1 569.5 469 576.3 471.5 579.4C474.1 582.4 478 585.3 482.3 585.8C486.6 586.4 492.7 584.4 497.4 582.6C502.1 580.8 507.4 577.6 510.3 575.1C513.2 572.6 521.8 568.8 514.6 567.5C507.4 566.3 474.4 565.6 467.2 567.5Z" fill="#232323"/><path d="M467.2 567.5C460.1 569.5 469 576.3 471.5 579.4C474.1 582.4 478 585.3 482.3 585.8C486.6 586.4 492.7 584.4 497.4 582.6C502.1 580.8 507.4 577.6 510.3 575.1C513.2 572.6 521.8 568.8 514.6 567.5C507.4 566.3 474.4 565.6 467.2 567.5Z" fill="#fff" filter="url(#ve-r1c3)"/><path d="M467.2 567.5C460.1 569.5 469 576.3 471.5 579.4C474.1 582.4 478 585.3 482.3 585.8C486.6 586.4 492.7 584.4 497.4 582.6C502.1 580.8 507.4 577.6 510.3 575.1C513.2 572.6 521.8 568.8 514.6 567.5C507.4 566.3 474.4 565.6 467.2 567.5Z" fill="none" stroke="#a6a6a6" stroke-width="2.2"/><path d="M583.5 567.5C578.5 568.8 588.6 573.5 592.2 575.1C595.7 576.7 600.8 577.4 605.1 577.2C609.4 577.1 615.1 575.6 618 574C620.9 572.4 628.1 568.6 622.3 567.5C616.6 566.5 588.6 566.3 583.5 567.5Z" fill="#232323"/><path d="M583.5 567.5C578.5 568.8 588.6 573.5 592.2 575.1C595.7 576.7 600.8 577.4 605.1 577.2C609.4 577.1 615.1 575.6 618 574C620.9 572.4 628.1 568.6 622.3 567.5C616.6 566.5 588.6 566.3 583.5 567.5Z" fill="#fff" filter="url(#ve-r1c3)"/><path d="M583.5 567.5C578.5 568.8 588.6 573.5 592.2 575.1C595.7 576.7 600.8 577.4 605.1 577.2C609.4 577.1 615.1 575.6 618 574C620.9 572.4 628.1 568.6 622.3 567.5C616.6 566.5 588.6 566.3 583.5 567.5Z" fill="none" stroke="#a6a6a6" stroke-width="2.2"/><path d="M461.8 653.7L473.7 644L488.8 632.2L503.8 628.9L518.9 633.2L534 640.8L544.8 646.2L562 638.6L579.2 633.2L596.5 628.9L613.7 631.1L628.8 635.4L650.3 639.7L630.9 639.7L626.6 661.2L620.2 684.9L611.5 715.1L605.1 743.1L600.8 768.9L493.1 768.9L489.8 732.3L482.3 706.5L471.5 680.6L462.9 654.8Z" fill="#fff" fill-opacity=".035"/><g filter="url(#vm-r1c3)" clip-path="url(#cm-r1c3)"><rect x="445" y="559.6" width="222.3" height="218.4" fill="url(#dg-r1c3)"/><path d="M462.9 654.8L471.5 680.6L482.3 706.5L489.8 732.3L511.8 732.3L504.3 706.5L493.5 680.6L484.9 654.8Z" fill="#fff" fill-opacity="0.35"/><path d="M630.9 639.7L626.6 661.2L620.2 684.9L611.5 715.1L589.5 715.1L598.2 684.9L604.6 661.2L608.9 639.7Z" fill="#fff" fill-opacity="0.35"/></g><path d="M461.8 653.7L473.7 644L488.8 632.2L503.8 628.9L518.9 633.2L534 640.8L544.8 646.2L562 638.6L579.2 633.2L596.5 628.9L613.7 631.1L628.8 635.4L650.3 639.7L630.9 639.7L626.6 661.2L620.2 684.9L611.5 715.1L605.1 743.1L600.8 768.9L493.1 768.9L489.8 732.3L482.3 706.5L471.5 680.6L462.9 654.8Z" fill="#fff" filter="url(#sp-r1c3)"/><g clip-path="url(#cm-r1c3)"><path d="M461.8 660.2C463.8 658.5 469.2 654.1 473.7 650.5C478.2 646.9 483.7 641.1 488.8 638.6C493.8 636.1 498.8 635.2 503.8 635.4C508.9 635.6 513.9 637.7 518.9 639.7C523.9 641.7 529.7 645.1 534 647.2C538.3 649.4 540.1 653 544.8 652.6C549.4 652.3 556.3 647.2 562 645.1C567.7 642.9 573.5 641.3 579.2 639.7C585 638.1 590.7 635.7 596.5 635.4C602.2 635 608.3 636.5 613.7 637.5C619.1 638.6 622.7 640.4 628.8 641.8C634.9 643.3 646.7 645.4 650.3 646.2" fill="none" stroke="#707070" stroke-width="5" stroke-opacity=".8" filter="url(#b1)"/><path d="M461.8 655.6C463.8 654 469.2 649.5 473.7 645.9C478.2 642.3 483.7 636.6 488.8 634.1C493.8 631.6 498.8 630.7 503.8 630.9C508.9 631 513.9 633.2 518.9 635.2C523.9 637.1 529.7 640.6 534 642.7C538.3 644.9 540.1 648.5 544.8 648.1C549.4 647.7 556.3 642.7 562 640.6C567.7 638.4 573.5 636.8 579.2 635.2C585 633.6 590.7 631.2 596.5 630.9C602.2 630.5 608.3 631.9 613.7 633C619.1 634.1 622.7 635.9 628.8 637.3C634.9 638.8 646.7 640.9 650.3 641.6" fill="none" stroke="#1a1a1a" stroke-width="2.6" filter="url(#b05)"/></g><path d="M462.9 654.8L465.8 663.4L468.7 672.1L471.6 680.8L475.1 689.2L478.7 697.7L482.2 706.1L484.8 714.9L487.3 723.7L489.9 732.5L490.7 741.6L491.5 750.7L492.3 759.8L493.1 768.9L506.2 768.9L504.5 759.8L502.8 750.7L501.1 741.6L499.3 732.5L495.9 723.7L492.4 714.9L488.9 706.1L484.4 697.7L479.8 689.2L475.1 680.8L471.1 672.1L467.4 663.4L464.1 654.8Z" fill="#bababa"/><path d="M630.9 639.7L628.9 649.7L626.9 659.7L624.3 669.6L621.6 679.5L618.9 689.3L616.1 699.1L613.3 709L610.7 718.8L608.4 728.8L606.1 738.7L604.1 748.8L602.4 758.8L600.8 768.9L586.3 768.9L588.8 758.8L591.3 748.8L594.1 738.7L597.2 728.8L600.3 718.8L603.8 709L607.4 699.1L611 689.3L614.6 679.5L618.5 669.6L623.2 659.7L626.8 649.7L629.7 639.7Z" fill="#bababa"/><path d="M460.8 603.1C462.1 595.4 467 599.7 471.5 598.8C476.1 597.9 487.3 598.6 493.1 596.6C498.8 594.7 508.5 585.8 512.5 584.8C516.4 583.7 517.9 587 521.1 589.1C524.2 591.2 531.5 599.4 535.1 599.8C538.7 600.3 542.9 595.8 546.9 592.3C551 588.8 560.5 577 564.2 575.1C567.8 573.1 569.5 576.5 572.8 578.3C576.1 580.1 582.7 586.5 587.8 588C593 589.5 603.7 589.4 609.4 589.1C615.1 588.8 625.5 584.8 628.8 585.8C632.1 586.9 631.6 593.3 633.1 596.6C634.6 599.9 636.8 605.9 639.5 609.5C642.3 613.2 650.4 619.1 652.5 622.5C654.6 625.8 654.9 630.8 654.6 633.2C654.3 635.6 653.9 639.4 650.3 639.7C646.7 640 633.9 636.6 628.8 635.4C623.6 634.2 618.2 632 613.7 631.1C609.2 630.2 601.3 628.6 596.5 628.9C591.6 629.2 584.1 631.9 579.2 633.2C574.4 634.6 566.8 636.8 562 638.6C557.2 640.4 548.7 645.9 544.8 646.2C540.8 646.5 537.6 642.6 534 640.8C530.4 639 523.1 634.9 518.9 633.2C514.7 631.6 508.1 629.1 503.8 628.9C499.6 628.8 493 630 488.8 632.2C484.5 634.3 477.5 641 473.7 644C469.9 647 463.7 659.4 461.8 653.7C460 648 459.4 610.8 460.8 603.1Z" fill="#232323"/><path d="M460.8 603.1C462.1 595.4 467 599.7 471.5 598.8C476.1 597.9 487.3 598.6 493.1 596.6C498.8 594.7 508.5 585.8 512.5 584.8C516.4 583.7 517.9 587 521.1 589.1C524.2 591.2 531.5 599.4 535.1 599.8C538.7 600.3 542.9 595.8 546.9 592.3C551 588.8 560.5 577 564.2 575.1C567.8 573.1 569.5 576.5 572.8 578.3C576.1 580.1 582.7 586.5 587.8 588C593 589.5 603.7 589.4 609.4 589.1C615.1 588.8 625.5 584.8 628.8 585.8C632.1 586.9 631.6 593.3 633.1 596.6C634.6 599.9 636.8 605.9 639.5 609.5C642.3 613.2 650.4 619.1 652.5 622.5C654.6 625.8 654.9 630.8 654.6 633.2C654.3 635.6 653.9 639.4 650.3 639.7C646.7 640 633.9 636.6 628.8 635.4C623.6 634.2 618.2 632 613.7 631.1C609.2 630.2 601.3 628.6 596.5 628.9C591.6 629.2 584.1 631.9 579.2 633.2C574.4 634.6 566.8 636.8 562 638.6C557.2 640.4 548.7 645.9 544.8 646.2C540.8 646.5 537.6 642.6 534 640.8C530.4 639 523.1 634.9 518.9 633.2C514.7 631.6 508.1 629.1 503.8 628.9C499.6 628.8 493 630 488.8 632.2C484.5 634.3 477.5 641 473.7 644C469.9 647 463.7 659.4 461.8 653.7C460 648 459.4 610.8 460.8 603.1Z" fill="#fff" filter="url(#ve-r1c3)"/><path d="M460.8 603.1C462.1 595.4 467 599.7 471.5 598.8C476.1 597.9 487.3 598.6 493.1 596.6C498.8 594.7 508.5 585.8 512.5 584.8C516.4 583.7 517.9 587 521.1 589.1C524.2 591.2 531.5 599.4 535.1 599.8C538.7 600.3 542.9 595.8 546.9 592.3C551 588.8 560.5 577 564.2 575.1C567.8 573.1 569.5 576.5 572.8 578.3C576.1 580.1 582.7 586.5 587.8 588C593 589.5 603.7 589.4 609.4 589.1C615.1 588.8 625.5 584.8 628.8 585.8C632.1 586.9 631.6 593.3 633.1 596.6C634.6 599.9 636.8 605.9 639.5 609.5C642.3 613.2 650.4 619.1 652.5 622.5C654.6 625.8 654.9 630.8 654.6 633.2C654.3 635.6 653.9 639.4 650.3 639.7C646.7 640 633.9 636.6 628.8 635.4C623.6 634.2 618.2 632 613.7 631.1C609.2 630.2 601.3 628.6 596.5 628.9C591.6 629.2 584.1 631.9 579.2 633.2C574.4 634.6 566.8 636.8 562 638.6C557.2 640.4 548.7 645.9 544.8 646.2C540.8 646.5 537.6 642.6 534 640.8C530.4 639 523.1 634.9 518.9 633.2C514.7 631.6 508.1 629.1 503.8 628.9C499.6 628.8 493 630 488.8 632.2C484.5 634.3 477.5 641 473.7 644C469.9 647 463.7 659.4 461.8 653.7C460 648 459.4 610.8 460.8 603.1Z" fill="none" stroke="#ababab" stroke-width="2.9"/><path d="M652.9 646.2C653.5 642.6 657 641.8 657.8 646.2C658.7 650.5 658.5 668.4 657.8 672C657.2 675.6 655 672 654.2 667.7C653.4 663.4 652.3 649.7 652.9 646.2Z" fill="#9a9a9a"/></g><rect x="455" y="613.7" width="202.3" height="1.5" fill="#b01c1c" fill-opacity=".72"/><rect x="489.6" y="569.6" width="1.8" height="198.4" fill="#2c2cd6" fill-opacity=".52"/></g>
<rect x="454.9" y="569.6" width="1.9" height="198.4" fill="#27d027"/>
<clipPath id="cp-r1c4"><rect x="659.4" y="569.6" width="205.4" height="199.9"/></clipPath>
<filter id="ve-r1c4" x="657.4" y="567.6" width="209.4" height="203.9" filterUnits="userSpaceOnUse" color-interpolation-filters="sRGB">
<feTurbulence type="turbulence" baseFrequency="0.14 0.115" numOctaves="1" seed="13"/>
<feColorMatrix type="matrix" values="0 0 0 0 .7  0 0 0 0 .7  0 0 0 0 .7  0 0 0 -11 1.5"/>
<feComposite operator="in" in2="SourceGraphic"/>
</filter>
<filter id="vm-r1c4" x="657.4" y="567.6" width="209.4" height="203.9" filterUnits="userSpaceOnUse" color-interpolation-filters="sRGB">
<feTurbulence type="turbulence" baseFrequency="0.17 0.09" numOctaves="1" seed="113" result="t"/>
<feColorMatrix type="matrix" values="0 0 0 0 .78  0 0 0 0 .78  0 0 0 0 .78  0 0 0 -4.2 1" result="v"/>
<feTurbulence type="fractalNoise" baseFrequency="0.07 0.045" numOctaves="2" seed="213"/>
<feColorMatrix type="matrix" values="0 0 0 0 1  0 0 0 0 1  0 0 0 0 1  0 0 0 2.2 -0.22" result="n"/>
<feGaussianBlur in="SourceGraphic" stdDeviation="4" result="g0"/>
<feComposite in="g0" in2="n" operator="arithmetic" k1="0.55" k2="0.5" k3="0" k4="0" result="g"/>
<feComposite in="v" in2="g" operator="arithmetic" k1="1" k2="0" k3="0" k4="0" result="m"/>
<feComponentTransfer in="m"><feFuncA type="linear" slope="12" intercept="-4.7"/></feComponentTransfer>
<feComposite operator="in" in2="SourceAlpha"/>
</filter>
<filter id="sp-r1c4" x="657.4" y="567.6" width="209.4" height="203.9" filterUnits="userSpaceOnUse" color-interpolation-filters="sRGB">
<feTurbulence type="fractalNoise" baseFrequency="0.26 0.15" numOctaves="1" seed="313"/>
<feColorMatrix type="matrix" values="0 0 0 0 .78  0 0 0 0 .78  0 0 0 0 .78  0 0 0 14 -9.45"/>
<feComposite operator="in" in2="SourceGraphic"/>
</filter>
<linearGradient id="dg-r1c4" gradientUnits="userSpaceOnUse" x1="0" y1="631.1" x2="0" y2="769.5"><stop offset="0" stop-color="#fff" stop-opacity="0.8"/><stop offset=".3" stop-color="#fff" stop-opacity="0.54"/><stop offset=".62" stop-color="#fff" stop-opacity="0.43"/><stop offset="1" stop-color="#fff" stop-opacity="0.4"/></linearGradient>
<clipPath id="cm-r1c4"><path d="M666.7 652.6L682.8 641.8L697.9 633.2L710.8 631.1L728.1 637.5L743.2 648.3L753.9 654.8L769 645.1L786.2 640.8L807.8 635.4L825 633.2L842.2 637.5L850.8 644L844.4 646.2L840.1 667.7L831.5 693.5L822.8 719.4L814.2 745.2L807.8 770L700.1 770L696.8 745.2L691.5 719.4L682.8 693.5L674.2 674.2L667.8 654.8Z"/></clipPath>
<g clip-path="url(#cp-r1c4)"><g filter="url(#soft)"><rect x="659.4" y="569.6" width="205.4" height="199.9" fill="#101010"/><rect x="659.4" y="569.6" width="205.4" height="199.9" filter="url(#grain)"/><path d="M674.2 567.5C666.3 569.5 676 576.5 678.5 579.4C681.1 582.3 685 584.4 689.3 584.8C693.6 585.1 699.4 583.2 704.4 581.5C709.4 579.9 715.9 577.4 719.5 575.1C723.1 572.7 733.5 568.8 725.9 567.5C718.4 566.3 682.1 565.6 674.2 567.5Z" fill="#232323"/><path d="M674.2 567.5C666.3 569.5 676 576.5 678.5 579.4C681.1 582.3 685 584.4 689.3 584.8C693.6 585.1 699.4 583.2 704.4 581.5C709.4 579.9 715.9 577.4 719.5 575.1C723.1 572.7 733.5 568.8 725.9 567.5C718.4 566.3 682.1 565.6 674.2 567.5Z" fill="#fff" filter="url(#ve-r1c4)"/><path d="M674.2 567.5C666.3 569.5 676 576.5 678.5 579.4C681.1 582.3 685 584.4 689.3 584.8C693.6 585.1 699.4 583.2 704.4 581.5C709.4 579.9 715.9 577.4 719.5 575.1C723.1 572.7 733.5 568.8 725.9 567.5C718.4 566.3 682.1 565.6 674.2 567.5Z" fill="none" stroke="#a6a6a6" stroke-width="2.2"/><path d="M794.8 567.5C789.5 569 799.9 574.2 803.5 576.2C807.1 578.1 812.1 579.4 816.4 579.4C820.7 579.4 826.1 578.1 829.3 576.2C832.5 574.2 841.5 569 835.8 567.5C830 566.1 800.2 566.1 794.8 567.5Z" fill="#232323"/><path d="M794.8 567.5C789.5 569 799.9 574.2 803.5 576.2C807.1 578.1 812.1 579.4 816.4 579.4C820.7 579.4 826.1 578.1 829.3 576.2C832.5 574.2 841.5 569 835.8 567.5C830 566.1 800.2 566.1 794.8 567.5Z" fill="#fff" filter="url(#ve-r1c4)"/><path d="M794.8 567.5C789.5 569 799.9 574.2 803.5 576.2C807.1 578.1 812.1 579.4 816.4 579.4C820.7 579.4 826.1 578.1 829.3 576.2C832.5 574.2 841.5 569 835.8 567.5C830 566.1 800.2 566.1 794.8 567.5Z" fill="none" stroke="#a6a6a6" stroke-width="2.2"/><path d="M666.7 652.6L682.8 641.8L697.9 633.2L710.8 631.1L728.1 637.5L743.2 648.3L753.9 654.8L769 645.1L786.2 640.8L807.8 635.4L825 633.2L842.2 637.5L850.8 644L844.4 646.2L840.1 667.7L831.5 693.5L822.8 719.4L814.2 745.2L807.8 770L700.1 770L696.8 745.2L691.5 719.4L682.8 693.5L674.2 674.2L667.8 654.8Z" fill="#fff" fill-opacity=".035"/><g filter="url(#vm-r1c4)" clip-path="url(#cm-r1c4)"><rect x="649.4" y="559.6" width="225.4" height="219.9" fill="url(#dg-r1c4)"/><path d="M667.8 654.8L674.2 674.2L682.8 693.5L691.5 719.4L713.5 719.4L704.8 693.5L696.2 674.2L689.8 654.8Z" fill="#fff" fill-opacity="0.4"/><path d="M844.4 646.2L840.1 667.7L831.5 693.5L822.8 719.4L800.8 719.4L809.5 693.5L818.1 667.7L822.4 646.2Z" fill="#fff" fill-opacity="0.4"/></g><path d="M666.7 652.6L682.8 641.8L697.9 633.2L710.8 631.1L728.1 637.5L743.2 648.3L753.9 654.8L769 645.1L786.2 640.8L807.8 635.4L825 633.2L842.2 637.5L850.8 644L844.4 646.2L840.1 667.7L831.5 693.5L822.8 719.4L814.2 745.2L807.8 770L700.1 770L696.8 745.2L691.5 719.4L682.8 693.5L674.2 674.2L667.8 654.8Z" fill="#fff" filter="url(#sp-r1c4)"/><g clip-path="url(#cm-r1c4)"><path d="M666.7 659.1C669.4 657.3 677.6 651.5 682.8 648.3C688.1 645.1 693.3 641.5 697.9 639.7C702.6 637.9 705.8 636.8 710.8 637.5C715.9 638.3 722.7 641.1 728.1 644C733.5 646.9 738.8 651.9 743.2 654.8C747.5 657.6 749.6 661.8 753.9 661.2C758.2 660.7 763.6 653.9 769 651.5C774.4 649.2 779.8 648.8 786.2 647.2C792.7 645.6 801.3 643.1 807.8 641.8C814.2 640.6 819.3 639.3 825 639.7C830.7 640.1 837.9 642.2 842.2 644C846.5 645.8 849.4 649.4 850.8 650.5" fill="none" stroke="#707070" stroke-width="5" stroke-opacity=".8" filter="url(#b1)"/><path d="M666.7 654.6C669.4 652.8 677.6 647 682.8 643.8C688.1 640.6 693.3 637 697.9 635.2C702.6 633.4 705.8 632.3 710.8 633C715.9 633.7 722.7 636.6 728.1 639.5C733.5 642.3 738.8 647.4 743.2 650.2C747.5 653.1 749.6 657.2 753.9 656.7C758.2 656.2 763.6 649.3 769 647C774.4 644.7 779.8 644.3 786.2 642.7C792.7 641.1 801.3 638.6 807.8 637.3C814.2 636.1 819.3 634.8 825 635.2C830.7 635.5 837.9 637.7 842.2 639.5C846.5 641.3 849.4 644.9 850.8 645.9" fill="none" stroke="#1a1a1a" stroke-width="2.6" filter="url(#b05)"/></g><path d="M667.8 654.8L670.7 663.5L673.6 672.3L677.2 680.8L681 689.3L684.3 697.9L687.2 706.7L690.2 715.5L692.5 724.4L694.4 733.5L696.3 742.5L697.7 751.7L698.9 760.8L700.1 770L712.6 770L711.1 760.8L709.6 751.7L707.9 742.5L705.7 733.5L703.5 724.4L700.9 715.5L697.6 706.7L694.4 697.9L690.8 689.3L686.7 680.8L682.8 672.3L679.6 663.5L676.4 654.8Z" fill="#bababa"/><path d="M844.4 646.2L842.4 655.9L840.5 665.7L837.6 675.2L834.4 684.6L831.3 694L828.2 703.5L825 712.9L821.9 722.3L818.7 731.8L815.6 741.2L812.8 750.8L810.3 760.4L807.8 770L793.3 770L796.7 760.4L800 750.8L803.6 741.2L807.6 731.8L811.5 722.3L815.5 712.9L819.4 703.5L823.4 694L827.4 684.6L831.7 675.2L836.7 665.7L840.3 655.9L843.2 646.2Z" fill="#bababa"/><path d="M667.8 600.9C669.1 592.9 671.9 596.6 676.4 595.5C680.9 594.5 693.7 594.9 700.1 593.4C706.4 591.9 717.1 585.4 721.6 584.8C726.1 584.2 729.1 587.6 732.4 589.1C735.7 590.6 741.7 595.4 745.3 595.5C748.9 595.7 754 592.7 758.2 590.2C762.5 587.6 771.5 578.4 775.5 577.2C779.4 576 782.3 580 786.2 581.5C790.2 583 798 586.9 803.5 588C808.9 589.1 819.3 589.1 825 589.1C830.7 589.1 841.1 586.6 844.4 588C847.7 589.4 847.2 595.2 848.7 598.8C850.2 602.4 853 609.9 855.2 613.8C857.3 617.8 862.5 623.2 863.8 626.8C865 630.4 866 637.3 864.2 639.7C862.4 642.1 853.9 644.3 850.8 644C847.8 643.7 845.8 639 842.2 637.5C838.6 636 829.8 633.5 825 633.2C820.2 632.9 813.2 634.3 807.8 635.4C802.3 636.4 791.7 639.4 786.2 640.8C780.8 642.1 773.5 643.1 769 645.1C764.5 647 757.5 654.3 753.9 654.8C750.3 655.2 746.8 650.7 743.2 648.3C739.5 645.9 732.6 640 728.1 637.5C723.6 635.1 715.1 631.7 710.8 631.1C706.6 630.5 701.8 631.7 697.9 633.2C694 634.7 687.2 639.1 682.8 641.8C678.5 644.6 668.8 658.3 666.7 652.6C664.6 646.9 666.4 608.9 667.8 600.9Z" fill="#232323"/><path d="M667.8 600.9C669.1 592.9 671.9 596.6 676.4 595.5C680.9 594.5 693.7 594.9 700.1 593.4C706.4 591.9 717.1 585.4 721.6 584.8C726.1 584.2 729.1 587.6 732.4 589.1C735.7 590.6 741.7 595.4 745.3 595.5C748.9 595.7 754 592.7 758.2 590.2C762.5 587.6 771.5 578.4 775.5 577.2C779.4 576 782.3 580 786.2 581.5C790.2 583 798 586.9 803.5 588C808.9 589.1 819.3 589.1 825 589.1C830.7 589.1 841.1 586.6 844.4 588C847.7 589.4 847.2 595.2 848.7 598.8C850.2 602.4 853 609.9 855.2 613.8C857.3 617.8 862.5 623.2 863.8 626.8C865 630.4 866 637.3 864.2 639.7C862.4 642.1 853.9 644.3 850.8 644C847.8 643.7 845.8 639 842.2 637.5C838.6 636 829.8 633.5 825 633.2C820.2 632.9 813.2 634.3 807.8 635.4C802.3 636.4 791.7 639.4 786.2 640.8C780.8 642.1 773.5 643.1 769 645.1C764.5 647 757.5 654.3 753.9 654.8C750.3 655.2 746.8 650.7 743.2 648.3C739.5 645.9 732.6 640 728.1 637.5C723.6 635.1 715.1 631.7 710.8 631.1C706.6 630.5 701.8 631.7 697.9 633.2C694 634.7 687.2 639.1 682.8 641.8C678.5 644.6 668.8 658.3 666.7 652.6C664.6 646.9 666.4 608.9 667.8 600.9Z" fill="#fff" filter="url(#ve-r1c4)"/><path d="M667.8 600.9C669.1 592.9 671.9 596.6 676.4 595.5C680.9 594.5 693.7 594.9 700.1 593.4C706.4 591.9 717.1 585.4 721.6 584.8C726.1 584.2 729.1 587.6 732.4 589.1C735.7 590.6 741.7 595.4 745.3 595.5C748.9 595.7 754 592.7 758.2 590.2C762.5 587.6 771.5 578.4 775.5 577.2C779.4 576 782.3 580 786.2 581.5C790.2 583 798 586.9 803.5 588C808.9 589.1 819.3 589.1 825 589.1C830.7 589.1 841.1 586.6 844.4 588C847.7 589.4 847.2 595.2 848.7 598.8C850.2 602.4 853 609.9 855.2 613.8C857.3 617.8 862.5 623.2 863.8 626.8C865 630.4 866 637.3 864.2 639.7C862.4 642.1 853.9 644.3 850.8 644C847.8 643.7 845.8 639 842.2 637.5C838.6 636 829.8 633.5 825 633.2C820.2 632.9 813.2 634.3 807.8 635.4C802.3 636.4 791.7 639.4 786.2 640.8C780.8 642.1 773.5 643.1 769 645.1C764.5 647 757.5 654.3 753.9 654.8C750.3 655.2 746.8 650.7 743.2 648.3C739.5 645.9 732.6 640 728.1 637.5C723.6 635.1 715.1 631.7 710.8 631.1C706.6 630.5 701.8 631.7 697.9 633.2C694 634.7 687.2 639.1 682.8 641.8C678.5 644.6 668.8 658.3 666.7 652.6C664.6 646.9 666.4 608.9 667.8 600.9Z" fill="none" stroke="#ababab" stroke-width="2.9"/><path d="M861.2 680.6C861.7 672 864.8 671.3 865.5 680.6C866.2 689.9 866 728 865.5 736.6C865 745.2 863.4 741.6 862.7 732.3C862 723 860.7 689.2 861.2 680.6Z" fill="#9a9a9a"/></g><rect x="659.4" y="614.6" width="205.4" height="1.5" fill="#b01c1c" fill-opacity=".72"/><rect x="702" y="569.6" width="1.8" height="199.9" fill="#2c2cd6" fill-opacity=".52"/></g>
<rect x="659.3" y="769.4" width="205.5" height="2.3" fill="#27d027"/>
<clipPath id="cp-r1c5"><rect x="867.6" y="569.6" width="197.2" height="200"/></clipPath>
<filter id="ve-r1c5" x="865.6" y="567.6" width="201.2" height="204" filterUnits="userSpaceOnUse" color-interpolation-filters="sRGB">
<feTurbulence type="turbulence" baseFrequency="0.14 0.115" numOctaves="1" seed="17"/>
<feColorMatrix type="matrix" values="0 0 0 0 .7  0 0 0 0 .7  0 0 0 0 .7  0 0 0 -11 1.55"/>
<feComposite operator="in" in2="SourceGraphic"/>
</filter>
<filter id="vm-r1c5" x="865.6" y="567.6" width="201.2" height="204" filterUnits="userSpaceOnUse" color-interpolation-filters="sRGB">
<feTurbulence type="turbulence" baseFrequency="0.17 0.09" numOctaves="1" seed="117" result="t"/>
<feColorMatrix type="matrix" values="0 0 0 0 .78  0 0 0 0 .78  0 0 0 0 .78  0 0 0 -4.2 1" result="v"/>
<feTurbulence type="fractalNoise" baseFrequency="0.07 0.045" numOctaves="2" seed="217"/>
<feColorMatrix type="matrix" values="0 0 0 0 1  0 0 0 0 1  0 0 0 0 1  0 0 0 2.2 -0.22" result="n"/>
<feGaussianBlur in="SourceGraphic" stdDeviation="4" result="g0"/>
<feComposite in="g0" in2="n" operator="arithmetic" k1="0.55" k2="0.5" k3="0" k4="0" result="g"/>
<feComposite in="v" in2="g" operator="arithmetic" k1="1" k2="0" k3="0" k4="0" result="m"/>
<feComponentTransfer in="m"><feFuncA type="linear" slope="12" intercept="-4.7"/></feComponentTransfer>
<feComposite operator="in" in2="SourceAlpha"/>
</filter>
<filter id="sp-r1c5" x="865.6" y="567.6" width="201.2" height="204" filterUnits="userSpaceOnUse" color-interpolation-filters="sRGB">
<feTurbulence type="fractalNoise" baseFrequency="0.26 0.15" numOctaves="1" seed="317"/>
<feColorMatrix type="matrix" values="0 0 0 0 .78  0 0 0 0 .78  0 0 0 0 .78  0 0 0 14 -9.45"/>
<feComposite operator="in" in2="SourceGraphic"/>
</filter>
<linearGradient id="dg-r1c5" gradientUnits="userSpaceOnUse" x1="0" y1="632.2" x2="0" y2="769.6"><stop offset="0" stop-color="#fff" stop-opacity="0.75"/><stop offset=".3" stop-color="#fff" stop-opacity="0.5"/><stop offset=".62" stop-color="#fff" stop-opacity="0.4"/><stop offset="1" stop-color="#fff" stop-opacity="0.37"/></linearGradient>
<clipPath id="cm-r1c5"><path d="M872.9 658L888 646.2L903.1 634.3L916 632.2L931.1 637.5L946.2 646.2L954.8 650.5L980.6 641.8L1000 635.4L1019.4 632.2L1036.6 634.3L1045.2 639.7L1044.2 641.8L1040.9 661.2L1032.3 684.9L1021.5 715.1L1010.8 743.1L1002.2 770L913.8 770L905.2 732.3L896.6 706.5L885.8 680.6L877.2 659.1Z"/></clipPath>
<g clip-path="url(#cp-r1c5)"><g filter="url(#soft)"><rect x="867.6" y="569.6" width="197.2" height="200" fill="#101010"/><rect x="867.6" y="569.6" width="197.2" height="200" filter="url(#grain)"/><ellipse cx="1045.2" cy="738.8" rx="22.6" ry="25" fill="url(#blob)"/><path d="M870.8 567.5C862.9 569.5 872.2 576.5 875.1 579.4C877.9 582.3 883.3 584.2 888 584.8C892.7 585.3 898.4 584.1 903.1 582.6C907.7 581.2 912.8 578.7 916 576.2C919.2 573.6 930 569 922.5 567.5C914.9 566.1 878.7 565.6 870.8 567.5Z" fill="#232323"/><path d="M870.8 567.5C862.9 569.5 872.2 576.5 875.1 579.4C877.9 582.3 883.3 584.2 888 584.8C892.7 585.3 898.4 584.1 903.1 582.6C907.7 581.2 912.8 578.7 916 576.2C919.2 573.6 930 569 922.5 567.5C914.9 566.1 878.7 565.6 870.8 567.5Z" fill="#fff" filter="url(#ve-r1c5)"/><path d="M870.8 567.5C862.9 569.5 872.2 576.5 875.1 579.4C877.9 582.3 883.3 584.2 888 584.8C892.7 585.3 898.4 584.1 903.1 582.6C907.7 581.2 912.8 578.7 916 576.2C919.2 573.6 930 569 922.5 567.5C914.9 566.1 878.7 565.6 870.8 567.5Z" fill="none" stroke="#a6a6a6" stroke-width="2.2"/><path d="M991.4 567.5C985.3 569 997.8 574.4 1002.2 576.2C1006.5 577.9 1012.6 578.5 1017.2 578.3C1021.9 578.1 1026.6 576.9 1030.2 575.1C1033.7 573.3 1045.2 568.8 1038.8 567.5C1032.3 566.3 997.5 566.1 991.4 567.5Z" fill="#232323"/><path d="M991.4 567.5C985.3 569 997.8 574.4 1002.2 576.2C1006.5 577.9 1012.6 578.5 1017.2 578.3C1021.9 578.1 1026.6 576.9 1030.2 575.1C1033.7 573.3 1045.2 568.8 1038.8 567.5C1032.3 566.3 997.5 566.1 991.4 567.5Z" fill="#fff" filter="url(#ve-r1c5)"/><path d="M991.4 567.5C985.3 569 997.8 574.4 1002.2 576.2C1006.5 577.9 1012.6 578.5 1017.2 578.3C1021.9 578.1 1026.6 576.9 1030.2 575.1C1033.7 573.3 1045.2 568.8 1038.8 567.5C1032.3 566.3 997.5 566.1 991.4 567.5Z" fill="none" stroke="#a6a6a6" stroke-width="2.2"/><path d="M872.9 658L888 646.2L903.1 634.3L916 632.2L931.1 637.5L946.2 646.2L954.8 650.5L980.6 641.8L1000 635.4L1019.4 632.2L1036.6 634.3L1045.2 639.7L1044.2 641.8L1040.9 661.2L1032.3 684.9L1021.5 715.1L1010.8 743.1L1002.2 770L913.8 770L905.2 732.3L896.6 706.5L885.8 680.6L877.2 659.1Z" fill="#fff" fill-opacity=".035"/><g filter="url(#vm-r1c5)" clip-path="url(#cm-r1c5)"><rect x="857.6" y="559.6" width="217.2" height="220" fill="url(#dg-r1c5)"/><path d="M877.2 659.1L885.8 680.6L896.6 706.5L905.2 732.3L927.2 732.3L918.6 706.5L907.8 680.6L899.2 659.1Z" fill="#fff" fill-opacity="0.4"/><path d="M1044.2 641.8L1040.9 661.2L1032.3 684.9L1021.5 715.1L999.5 715.1L1010.3 684.9L1018.9 661.2L1022.2 641.8Z" fill="#fff" fill-opacity="0.4"/></g><path d="M872.9 658L888 646.2L903.1 634.3L916 632.2L931.1 637.5L946.2 646.2L954.8 650.5L980.6 641.8L1000 635.4L1019.4 632.2L1036.6 634.3L1045.2 639.7L1044.2 641.8L1040.9 661.2L1032.3 684.9L1021.5 715.1L1010.8 743.1L1002.2 770L913.8 770L905.2 732.3L896.6 706.5L885.8 680.6L877.2 659.1Z" fill="#fff" filter="url(#sp-r1c5)"/><g clip-path="url(#cm-r1c5)"><path d="M872.9 664.5C875.4 662.5 883 656.6 888 652.6C893 648.7 898.4 643.1 903.1 640.8C907.7 638.4 911.3 638.1 916 638.6C920.7 639.2 926.1 641.7 931.1 644C936.1 646.3 942.2 650.5 946.2 652.6C950.1 654.8 949 657.6 954.8 656.9C960.5 656.2 973.1 650.8 980.6 648.3C988.2 645.8 993.5 643.5 1000 641.8C1006.5 640.2 1013.3 638.8 1019.4 638.6C1025.5 638.4 1032.3 639.5 1036.6 640.8C1040.9 642 1043.8 645.3 1045.2 646.2" fill="none" stroke="#707070" stroke-width="5" stroke-opacity=".8" filter="url(#b1)"/><path d="M872.9 659.9C875.4 658 883 652 888 648.1C893 644.1 898.4 638.6 903.1 636.2C907.7 633.9 911.3 633.6 916 634.1C920.7 634.6 926.1 637.1 931.1 639.5C936.1 641.8 942.2 645.9 946.2 648.1C950.1 650.2 949 653.1 954.8 652.4C960.5 651.7 973.1 646.3 980.6 643.8C988.2 641.3 993.5 638.9 1000 637.3C1006.5 635.7 1013.3 634.3 1019.4 634.1C1025.5 633.9 1032.3 635 1036.6 636.2C1040.9 637.5 1043.8 640.7 1045.2 641.6" fill="none" stroke="#1a1a1a" stroke-width="2.6" filter="url(#b05)"/></g><path d="M877.2 659.1L880.6 667.4L883.9 675.8L887.3 684.1L890.8 692.5L894.2 700.8L897.5 709.2L900.4 717.7L903.2 726.3L905.8 734.9L907.8 743.7L909.8 752.4L911.8 761.2L913.8 770L924.8 770L922.1 761.2L919.3 752.4L916.6 743.7L913.8 734.9L910.5 726.3L906.9 717.7L903.3 709.2L899.3 700.8L894.9 692.5L890.4 684.1L886.2 675.8L882.1 667.4L878.4 659.1Z" fill="#bababa"/><path d="M1044.2 641.8L1042.4 652.1L1040.5 662.3L1037 672.1L1033.4 681.8L1029.9 691.6L1026.4 701.4L1022.9 711.2L1019.3 720.9L1015.5 730.6L1011.8 740.4L1008.5 750.2L1005.3 760.1L1002.2 770L989.7 770L993.6 760.1L997.6 750.2L1001.7 740.4L1006.2 730.6L1010.7 720.9L1015.1 711.2L1019.4 701.4L1023.7 691.6L1028 681.8L1033 672.1L1037.8 662.3L1040.7 652.1L1043 641.8Z" fill="#bababa"/><path d="M871.8 600.9C873.1 592.3 877.2 597.4 881.5 596.6C885.9 595.9 897.6 596.9 903.1 595.5C908.5 594.2 916.1 588.3 920.3 586.9C924.5 585.6 930.5 584.8 933.2 585.8C935.9 586.9 938.2 592.5 939.7 594.5C941.2 596.4 941.6 600.4 944 599.8C946.4 599.2 952.7 594.1 956.9 590.2C961.1 586.2 970.2 573.8 974.2 571.8C978.1 569.9 981.3 574.5 984.9 576.2C988.5 577.8 994.9 582.3 1000 583.7C1005.1 585 1015.2 585.8 1021.5 585.8C1027.9 585.8 1041.3 582.5 1045.2 583.7C1049.2 584.9 1048.3 591.1 1049.5 594.5C1050.7 597.8 1051.9 603.5 1053.8 607.4C1055.8 611.3 1062.2 619.1 1063.5 622.5C1064.9 625.8 1066.1 628.7 1063.5 631.1C1061 633.5 1049 639.2 1045.2 639.7C1041.5 640.1 1040.2 635.4 1036.6 634.3C1033 633.3 1024.5 632 1019.4 632.2C1014.3 632.3 1005.4 634 1000 635.4C994.6 636.7 986.9 639.7 980.6 641.8C974.3 644 959.6 649.9 954.8 650.5C949.9 651.1 949.5 648 946.2 646.2C942.8 644.3 935.3 639.5 931.1 637.5C926.9 635.6 919.9 632.6 916 632.2C912.1 631.7 907 632.3 903.1 634.3C899.2 636.3 892.2 642.8 888 646.2C883.8 649.5 875.2 664.3 872.9 658C870.7 651.7 870.6 609.5 871.8 600.9Z" fill="#232323"/><path d="M871.8 600.9C873.1 592.3 877.2 597.4 881.5 596.6C885.9 595.9 897.6 596.9 903.1 595.5C908.5 594.2 916.1 588.3 920.3 586.9C924.5 585.6 930.5 584.8 933.2 585.8C935.9 586.9 938.2 592.5 939.7 594.5C941.2 596.4 941.6 600.4 944 599.8C946.4 599.2 952.7 594.1 956.9 590.2C961.1 586.2 970.2 573.8 974.2 571.8C978.1 569.9 981.3 574.5 984.9 576.2C988.5 577.8 994.9 582.3 1000 583.7C1005.1 585 1015.2 585.8 1021.5 585.8C1027.9 585.8 1041.3 582.5 1045.2 583.7C1049.2 584.9 1048.3 591.1 1049.5 594.5C1050.7 597.8 1051.9 603.5 1053.8 607.4C1055.8 611.3 1062.2 619.1 1063.5 622.5C1064.9 625.8 1066.1 628.7 1063.5 631.1C1061 633.5 1049 639.2 1045.2 639.7C1041.5 640.1 1040.2 635.4 1036.6 634.3C1033 633.3 1024.5 632 1019.4 632.2C1014.3 632.3 1005.4 634 1000 635.4C994.6 636.7 986.9 639.7 980.6 641.8C974.3 644 959.6 649.9 954.8 650.5C949.9 651.1 949.5 648 946.2 646.2C942.8 644.3 935.3 639.5 931.1 637.5C926.9 635.6 919.9 632.6 916 632.2C912.1 631.7 907 632.3 903.1 634.3C899.2 636.3 892.2 642.8 888 646.2C883.8 649.5 875.2 664.3 872.9 658C870.7 651.7 870.6 609.5 871.8 600.9Z" fill="#fff" filter="url(#ve-r1c5)"/><path d="M871.8 600.9C873.1 592.3 877.2 597.4 881.5 596.6C885.9 595.9 897.6 596.9 903.1 595.5C908.5 594.2 916.1 588.3 920.3 586.9C924.5 585.6 930.5 584.8 933.2 585.8C935.9 586.9 938.2 592.5 939.7 594.5C941.2 596.4 941.6 600.4 944 599.8C946.4 599.2 952.7 594.1 956.9 590.2C961.1 586.2 970.2 573.8 974.2 571.8C978.1 569.9 981.3 574.5 984.9 576.2C988.5 577.8 994.9 582.3 1000 583.7C1005.1 585 1015.2 585.8 1021.5 585.8C1027.9 585.8 1041.3 582.5 1045.2 583.7C1049.2 584.9 1048.3 591.1 1049.5 594.5C1050.7 597.8 1051.9 603.5 1053.8 607.4C1055.8 611.3 1062.2 619.1 1063.5 622.5C1064.9 625.8 1066.1 628.7 1063.5 631.1C1061 633.5 1049 639.2 1045.2 639.7C1041.5 640.1 1040.2 635.4 1036.6 634.3C1033 633.3 1024.5 632 1019.4 632.2C1014.3 632.3 1005.4 634 1000 635.4C994.6 636.7 986.9 639.7 980.6 641.8C974.3 644 959.6 649.9 954.8 650.5C949.9 651.1 949.5 648 946.2 646.2C942.8 644.3 935.3 639.5 931.1 637.5C926.9 635.6 919.9 632.6 916 632.2C912.1 631.7 907 632.3 903.1 634.3C899.2 636.3 892.2 642.8 888 646.2C883.8 649.5 875.2 664.3 872.9 658C870.7 651.7 870.6 609.5 871.8 600.9Z" fill="none" stroke="#ababab" stroke-width="2.9"/></g><rect x="867.6" y="614.4" width="197.2" height="1.5" fill="#b01c1c" fill-opacity=".72"/><rect x="900.7" y="569.6" width="1.8" height="200" fill="#2c2cd6" fill-opacity=".52"/></g>
<rect x="867.5" y="569.6" width="1.9" height="200" fill="#27d027"/>
<rect x="867.5" y="769.5" width="197.3" height="2.3" fill="#27d027"/>
<clipPath id="cp-r2c1"><rect x="69.4" y="769.3" width="193.7" height="195.6"/></clipPath>
<filter id="ve-r2c1" x="67.4" y="767.3" width="197.7" height="199.6" filterUnits="userSpaceOnUse" color-interpolation-filters="sRGB">
<feTurbulence type="turbulence" baseFrequency="0.14 0.115" numOctaves="1" seed="19"/>
<feColorMatrix type="matrix" values="0 0 0 0 .7  0 0 0 0 .7  0 0 0 0 .7  0 0 0 -11 1.75"/>
<feComposite operator="in" in2="SourceGraphic"/>
</filter>
<filter id="vm-r2c1" x="67.4" y="767.3" width="197.7" height="199.6" filterUnits="userSpaceOnUse" color-interpolation-filters="sRGB">
<feTurbulence type="turbulence" baseFrequency="0.17 0.09" numOctaves="1" seed="119" result="t"/>
<feColorMatrix type="matrix" values="0 0 0 0 .78  0 0 0 0 .78  0 0 0 0 .78  0 0 0 -4.2 1" result="v"/>
<feTurbulence type="fractalNoise" baseFrequency="0.07 0.045" numOctaves="2" seed="219"/>
<feColorMatrix type="matrix" values="0 0 0 0 1  0 0 0 0 1  0 0 0 0 1  0 0 0 2.2 -0.22" result="n"/>
<feGaussianBlur in="SourceGraphic" stdDeviation="4" result="g0"/>
<feComposite in="g0" in2="n" operator="arithmetic" k1="0.55" k2="0.5" k3="0" k4="0" result="g"/>
<feComposite in="v" in2="g" operator="arithmetic" k1="1" k2="0" k3="0" k4="0" result="m"/>
<feComponentTransfer in="m"><feFuncA type="linear" slope="12" intercept="-4.7"/></feComponentTransfer>
<feComposite operator="in" in2="SourceAlpha"/>
</filter>
<filter id="sp-r2c1" x="67.4" y="767.3" width="197.7" height="199.6" filterUnits="userSpaceOnUse" color-interpolation-filters="sRGB">
<feTurbulence type="fractalNoise" baseFrequency="0.26 0.15" numOctaves="1" seed="319"/>
<feColorMatrix type="matrix" values="0 0 0 0 .78  0 0 0 0 .78  0 0 0 0 .78  0 0 0 14 -9.45"/>
<feComposite operator="in" in2="SourceGraphic"/>
</filter>
<linearGradient id="dg-r2c1" gradientUnits="userSpaceOnUse" x1="0" y1="840.6" x2="0" y2="964.9"><stop offset="0" stop-color="#fff" stop-opacity="0.95"/><stop offset=".3" stop-color="#fff" stop-opacity="0.78"/><stop offset=".62" stop-color="#fff" stop-opacity="0.58"/><stop offset="1" stop-color="#fff" stop-opacity="0.5"/></linearGradient>
<clipPath id="cm-r2c1"><path d="M72.9 855.7L83.7 849.2L96.6 842.8L111.7 840.6L126.8 844.9L141.8 854.6L152.6 858.9L176.3 848.2L197.8 840.6L215.1 840.6L232.3 848.2L240.9 854.6L238.8 856.8L234.5 874L228 895.5L221.5 917.1L215.1 945.1L210.8 967.7L106.3 967.7L102 949.4L94.5 923.5L85.8 895.5L79.4 874L74 856.8Z"/></clipPath>
<g clip-path="url(#cp-r2c1)"><g filter="url(#soft)"><rect x="69.4" y="769.3" width="193.7" height="195.6" fill="#101010"/><rect x="69.4" y="769.3" width="193.7" height="195.6" filter="url(#grain)"/><path d="M70.8 769.5C61.4 772.9 70.8 785.5 72.9 790C75.1 794.5 79.4 795.7 83.7 796.5C88 797.2 93.4 796.1 98.8 794.3C104.2 792.5 111.3 788.9 116 785.7C120.7 782.5 124.6 777.6 126.8 774.9C128.9 772.2 138.3 770.4 128.9 769.5C119.6 768.6 80.1 766.1 70.8 769.5Z" fill="#232323"/><path d="M70.8 769.5C61.4 772.9 70.8 785.5 72.9 790C75.1 794.5 79.4 795.7 83.7 796.5C88 797.2 93.4 796.1 98.8 794.3C104.2 792.5 111.3 788.9 116 785.7C120.7 782.5 124.6 777.6 126.8 774.9C128.9 772.2 138.3 770.4 128.9 769.5C119.6 768.6 80.1 766.1 70.8 769.5Z" fill="#fff" filter="url(#ve-r2c1)"/><path d="M70.8 769.5C61.4 772.9 70.8 785.5 72.9 790C75.1 794.5 79.4 795.7 83.7 796.5C88 797.2 93.4 796.1 98.8 794.3C104.2 792.5 111.3 788.9 116 785.7C120.7 782.5 124.6 777.6 126.8 774.9C128.9 772.2 138.3 770.4 128.9 769.5C119.6 768.6 80.1 766.1 70.8 769.5Z" fill="none" stroke="#a6a6a6" stroke-width="2.2"/><path d="M180.6 769.5C174.3 771.7 187.1 779.6 191.4 782.5C195.7 785.3 201.4 786.6 206.5 786.8C211.5 786.9 217.9 785.5 221.5 783.5C225.1 781.6 226.7 777.3 228 774.9C229.3 772.6 237 770.4 229.1 769.5C221.2 768.6 186.9 767.4 180.6 769.5Z" fill="#232323"/><path d="M180.6 769.5C174.3 771.7 187.1 779.6 191.4 782.5C195.7 785.3 201.4 786.6 206.5 786.8C211.5 786.9 217.9 785.5 221.5 783.5C225.1 781.6 226.7 777.3 228 774.9C229.3 772.6 237 770.4 229.1 769.5C221.2 768.6 186.9 767.4 180.6 769.5Z" fill="#fff" filter="url(#ve-r2c1)"/><path d="M180.6 769.5C174.3 771.7 187.1 779.6 191.4 782.5C195.7 785.3 201.4 786.6 206.5 786.8C211.5 786.9 217.9 785.5 221.5 783.5C225.1 781.6 226.7 777.3 228 774.9C229.3 772.6 237 770.4 229.1 769.5C221.2 768.6 186.9 767.4 180.6 769.5Z" fill="none" stroke="#a6a6a6" stroke-width="2.2"/><path d="M72.9 855.7L83.7 849.2L96.6 842.8L111.7 840.6L126.8 844.9L141.8 854.6L152.6 858.9L176.3 848.2L197.8 840.6L215.1 840.6L232.3 848.2L240.9 854.6L238.8 856.8L234.5 874L228 895.5L221.5 917.1L215.1 945.1L210.8 967.7L106.3 967.7L102 949.4L94.5 923.5L85.8 895.5L79.4 874L74 856.8Z" fill="#fff" fill-opacity=".035"/><g filter="url(#vm-r2c1)" clip-path="url(#cm-r2c1)"><rect x="59.4" y="759.3" width="213.7" height="215.6" fill="url(#dg-r2c1)"/><path d="M74 856.8L79.4 874L85.8 895.5L94.5 923.5L116.5 923.5L107.8 895.5L101.4 874L96 856.8Z" fill="#fff" fill-opacity="0.35"/><path d="M238.8 856.8L234.5 874L228 895.5L221.5 917.1L199.5 917.1L206 895.5L212.5 874L216.8 856.8Z" fill="#fff" fill-opacity="0.35"/></g><path d="M72.9 855.7L83.7 849.2L96.6 842.8L111.7 840.6L126.8 844.9L141.8 854.6L152.6 858.9L176.3 848.2L197.8 840.6L215.1 840.6L232.3 848.2L240.9 854.6L238.8 856.8L234.5 874L228 895.5L221.5 917.1L215.1 945.1L210.8 967.7L106.3 967.7L102 949.4L94.5 923.5L85.8 895.5L79.4 874L74 856.8Z" fill="#fff" filter="url(#sp-r2c1)"/><g clip-path="url(#cm-r2c1)"><path d="M72.9 862.2C74.7 861.1 79.7 857.8 83.7 855.7C87.6 853.5 91.9 850.7 96.6 849.2C101.3 847.8 106.7 846.7 111.7 847.1C116.7 847.4 121.7 849.1 126.8 851.4C131.8 853.7 137.5 858.7 141.8 861.1C146.2 863.4 146.9 866.5 152.6 865.4C158.4 864.3 168.8 857.7 176.3 854.6C183.8 851.6 191.4 848.3 197.8 847.1C204.3 845.8 209.3 845.8 215.1 847.1C220.8 848.3 228 852.3 232.3 854.6C236.6 856.9 239.5 860 240.9 861.1" fill="none" stroke="#707070" stroke-width="5" stroke-opacity=".8" filter="url(#b1)"/><path d="M72.9 857.6C74.7 856.6 79.7 853.3 83.7 851.2C87.6 849 91.9 846.1 96.6 844.7C101.3 843.3 106.7 842.2 111.7 842.6C116.7 842.9 121.7 844.5 126.8 846.9C131.8 849.2 137.5 854.2 141.8 856.6C146.2 858.9 146.9 861.9 152.6 860.9C158.4 859.8 168.8 853.1 176.3 850.1C183.8 847 191.4 843.8 197.8 842.6C204.3 841.3 209.3 841.3 215.1 842.6C220.8 843.8 228 847.8 232.3 850.1C236.6 852.4 239.5 855.5 240.9 856.6" fill="none" stroke="#1a1a1a" stroke-width="2.6" filter="url(#b05)"/></g><path d="M74 856.8L76.7 865.3L79.3 873.7L81.9 882.3L84.4 890.8L87 899.3L89.6 907.8L92.2 916.3L94.8 924.8L97.3 933.3L99.8 941.8L102.2 950.4L104.3 959L106.3 967.7L121.4 967.7L118.7 959L115.9 950.4L112.8 941.8L109.7 933.3L106.5 924.8L103.2 916.3L99.9 907.8L96.6 899.3L93.4 890.8L90.1 882.3L86.9 873.7L80.2 865.3L75.2 856.8Z" fill="#bababa"/><path d="M238.8 856.8L236.6 865.3L234.5 873.9L232 882.3L229.4 890.7L226.9 899.2L224.4 907.6L221.9 916L219.8 924.6L217.8 933.2L215.8 941.8L214.1 950.4L212.4 959L210.8 967.7L194.8 967.7L197.5 959L200.2 950.4L203 941.8L206 933.2L209.1 924.6L212.2 916L215.7 907.6L219.3 899.2L222.9 890.7L227.2 882.3L231.4 873.9L234.8 865.3L237.6 856.8Z" fill="#bababa"/><path d="M72.9 812.6C75 806 83.2 809.4 88 808.3C92.8 807.3 102.3 806.4 107.4 805.1C112.5 803.7 120.4 799.2 124.6 798.6C128.8 798 134.5 800 137.5 800.8C140.6 801.5 143.4 804.5 146.2 804C148.9 803.5 152.7 800.6 156.9 797.5C161.1 794.5 171.8 783.5 176.3 782.5C180.8 781.4 185 787.7 189.2 790C193.5 792.3 201 797.4 206.5 798.6C211.9 799.8 222.9 798.8 228 798.6C233.1 798.5 240.4 795.7 243.1 797.5C245.8 799.3 245.9 807.5 247.4 811.5C248.9 815.6 251.9 823 253.8 826.6C255.8 830.2 260.5 834.4 261.4 837.4C262.3 840.4 263.2 845.7 260.3 848.2C257.4 850.6 244.8 854.6 240.9 854.6C237 854.6 235.9 850.1 232.3 848.2C228.7 846.2 219.9 841.7 215.1 840.6C210.3 839.6 203.3 839.6 197.8 840.6C192.4 841.7 182.6 845.6 176.3 848.2C170 850.7 157.4 858 152.6 858.9C147.8 859.8 145.5 856.6 141.8 854.6C138.2 852.7 131 846.9 126.8 844.9C122.5 843 115.9 840.9 111.7 840.6C107.5 840.3 100.5 841.6 96.6 842.8C92.7 844 87 847.4 83.7 849.2C80.4 851 74.4 860.8 72.9 855.7C71.4 850.6 70.8 819.2 72.9 812.6Z" fill="#232323"/><path d="M72.9 812.6C75 806 83.2 809.4 88 808.3C92.8 807.3 102.3 806.4 107.4 805.1C112.5 803.7 120.4 799.2 124.6 798.6C128.8 798 134.5 800 137.5 800.8C140.6 801.5 143.4 804.5 146.2 804C148.9 803.5 152.7 800.6 156.9 797.5C161.1 794.5 171.8 783.5 176.3 782.5C180.8 781.4 185 787.7 189.2 790C193.5 792.3 201 797.4 206.5 798.6C211.9 799.8 222.9 798.8 228 798.6C233.1 798.5 240.4 795.7 243.1 797.5C245.8 799.3 245.9 807.5 247.4 811.5C248.9 815.6 251.9 823 253.8 826.6C255.8 830.2 260.5 834.4 261.4 837.4C262.3 840.4 263.2 845.7 260.3 848.2C257.4 850.6 244.8 854.6 240.9 854.6C237 854.6 235.9 850.1 232.3 848.2C228.7 846.2 219.9 841.7 215.1 840.6C210.3 839.6 203.3 839.6 197.8 840.6C192.4 841.7 182.6 845.6 176.3 848.2C170 850.7 157.4 858 152.6 858.9C147.8 859.8 145.5 856.6 141.8 854.6C138.2 852.7 131 846.9 126.8 844.9C122.5 843 115.9 840.9 111.7 840.6C107.5 840.3 100.5 841.6 96.6 842.8C92.7 844 87 847.4 83.7 849.2C80.4 851 74.4 860.8 72.9 855.7C71.4 850.6 70.8 819.2 72.9 812.6Z" fill="#fff" filter="url(#ve-r2c1)"/><path d="M72.9 812.6C75 806 83.2 809.4 88 808.3C92.8 807.3 102.3 806.4 107.4 805.1C112.5 803.7 120.4 799.2 124.6 798.6C128.8 798 134.5 800 137.5 800.8C140.6 801.5 143.4 804.5 146.2 804C148.9 803.5 152.7 800.6 156.9 797.5C161.1 794.5 171.8 783.5 176.3 782.5C180.8 781.4 185 787.7 189.2 790C193.5 792.3 201 797.4 206.5 798.6C211.9 799.8 222.9 798.8 228 798.6C233.1 798.5 240.4 795.7 243.1 797.5C245.8 799.3 245.9 807.5 247.4 811.5C248.9 815.6 251.9 823 253.8 826.6C255.8 830.2 260.5 834.4 261.4 837.4C262.3 840.4 263.2 845.7 260.3 848.2C257.4 850.6 244.8 854.6 240.9 854.6C237 854.6 235.9 850.1 232.3 848.2C228.7 846.2 219.9 841.7 215.1 840.6C210.3 839.6 203.3 839.6 197.8 840.6C192.4 841.7 182.6 845.6 176.3 848.2C170 850.7 157.4 858 152.6 858.9C147.8 859.8 145.5 856.6 141.8 854.6C138.2 852.7 131 846.9 126.8 844.9C122.5 843 115.9 840.9 111.7 840.6C107.5 840.3 100.5 841.6 96.6 842.8C92.7 844 87 847.4 83.7 849.2C80.4 851 74.4 860.8 72.9 855.7C71.4 850.6 70.8 819.2 72.9 812.6Z" fill="none" stroke="#ababab" stroke-width="2.9"/><path d="M253.8 854.6C255.4 848.5 261.4 841.7 262.9 854.6C264.4 867.5 264 919.6 262.9 932.2C261.8 944.7 257.9 936.8 256.4 930C254.9 923.2 254.3 903.8 253.8 891.2C253.4 878.7 252.3 860.7 253.8 854.6Z" fill="#232323"/><path d="M253.8 854.6C255.4 848.5 261.4 841.7 262.9 854.6C264.4 867.5 264 919.6 262.9 932.2C261.8 944.7 257.9 936.8 256.4 930C254.9 923.2 254.3 903.8 253.8 891.2C253.4 878.7 252.3 860.7 253.8 854.6Z" fill="#fff" filter="url(#ve-r2c1)"/><path d="M253.8 854.6C255.4 848.5 261.4 841.7 262.9 854.6C264.4 867.5 264 919.6 262.9 932.2C261.8 944.7 257.9 936.8 256.4 930C254.9 923.2 254.3 903.8 253.8 891.2C253.4 878.7 252.3 860.7 253.8 854.6Z" fill="none" stroke="#a0a0a0" stroke-width="2"/></g><rect x="69.4" y="823.1" width="193.7" height="1.5" fill="#b01c1c" fill-opacity=".72"/><rect x="106.1" y="769.3" width="1.8" height="195.6" fill="#2c2cd6" fill-opacity=".52"/></g>
<rect x="69.3" y="769.3" width="1.9" height="195.6" fill="#27d027"/>
<rect x="69.3" y="769.1" width="193.8" height="2.1" fill="#27d027"/>
<clipPath id="cp-r2c2"><rect x="267.2" y="773.2" width="185.2" height="193"/></clipPath>
<filter id="ve-r2c2" x="265.2" y="771.2" width="189.2" height="197" filterUnits="userSpaceOnUse" color-interpolation-filters="sRGB">
<feTurbulence type="turbulence" baseFrequency="0.14 0.115" numOctaves="1" seed="23"/>
<feColorMatrix type="matrix" values="0 0 0 0 .7  0 0 0 0 .7  0 0 0 0 .7  0 0 0 -11 1.75"/>
<feComposite operator="in" in2="SourceGraphic"/>
</filter>
<filter id="vm-r2c2" x="265.2" y="771.2" width="189.2" height="197" filterUnits="userSpaceOnUse" color-interpolation-filters="sRGB">
<feTurbulence type="turbulence" baseFrequency="0.17 0.09" numOctaves="1" seed="123" result="t"/>
<feColorMatrix type="matrix" values="0 0 0 0 .78  0 0 0 0 .78  0 0 0 0 .78  0 0 0 -4.2 1" result="v"/>
<feTurbulence type="fractalNoise" baseFrequency="0.07 0.045" numOctaves="2" seed="223"/>
<feColorMatrix type="matrix" values="0 0 0 0 1  0 0 0 0 1  0 0 0 0 1  0 0 0 2.2 -0.22" result="n"/>
<feGaussianBlur in="SourceGraphic" stdDeviation="4" result="g0"/>
<feComposite in="g0" in2="n" operator="arithmetic" k1="0.55" k2="0.5" k3="0" k4="0" result="g"/>
<feComposite in="v" in2="g" operator="arithmetic" k1="1" k2="0" k3="0" k4="0" result="m"/>
<feComponentTransfer in="m"><feFuncA type="linear" slope="12" intercept="-4.7"/></feComponentTransfer>
<feComposite operator="in" in2="SourceAlpha"/>
</filter>
<filter id="sp-r2c2" x="265.2" y="771.2" width="189.2" height="197" filterUnits="userSpaceOnUse" color-interpolation-filters="sRGB">
<feTurbulence type="fractalNoise" baseFrequency="0.26 0.15" numOctaves="1" seed="323"/>
<feColorMatrix type="matrix" values="0 0 0 0 .78  0 0 0 0 .78  0 0 0 0 .78  0 0 0 14 -9.45"/>
<feComposite operator="in" in2="SourceGraphic"/>
</filter>
<linearGradient id="dg-r2c2" gradientUnits="userSpaceOnUse" x1="0" y1="869.7" x2="0" y2="966.2"><stop offset="0" stop-color="#fff" stop-opacity="0.95"/><stop offset=".3" stop-color="#fff" stop-opacity="0.78"/><stop offset=".62" stop-color="#fff" stop-opacity="0.6"/><stop offset="1" stop-color="#fff" stop-opacity="0.52"/></linearGradient>
<clipPath id="cm-r2c2"><path d="M277.6 886.9L285.2 880.5L298.1 871.8L313.2 869.7L328.2 875.1L343.3 885.8L354.1 890.2L371.3 882.6L388.5 875.1L405.8 871.8L423 874L431.6 879.4L427.3 882.6L423 899.8L416.5 921.4L410.1 945.1L405.8 968.8L299.2 968.8L295.9 947.2L289.5 925.7L283 908.5L278.7 889.1Z"/></clipPath>
<g clip-path="url(#cp-r2c2)"><g filter="url(#soft)"><rect x="267.2" y="773.2" width="185.2" height="193" fill="#101010"/><rect x="267.2" y="773.2" width="185.2" height="193" filter="url(#grain)"/><path d="M279.8 772.8C267.2 778.2 278.5 796.8 279.8 805.1C281 813.3 283.2 818.2 287.3 822.3C291.4 826.4 298.8 829.5 304.5 829.8C310.3 830.2 316.4 827.9 321.8 824.5C327.2 821.1 332.2 814.8 336.8 809.4C341.5 804 346.7 798.3 349.8 792.2C352.8 786.1 366.8 776 355.2 772.8C343.5 769.5 292.3 767.4 279.8 772.8Z" fill="#232323"/><path d="M279.8 772.8C267.2 778.2 278.5 796.8 279.8 805.1C281 813.3 283.2 818.2 287.3 822.3C291.4 826.4 298.8 829.5 304.5 829.8C310.3 830.2 316.4 827.9 321.8 824.5C327.2 821.1 332.2 814.8 336.8 809.4C341.5 804 346.7 798.3 349.8 792.2C352.8 786.1 366.8 776 355.2 772.8C343.5 769.5 292.3 767.4 279.8 772.8Z" fill="#fff" filter="url(#ve-r2c2)"/><path d="M279.8 772.8C267.2 778.2 278.5 796.8 279.8 805.1C281 813.3 283.2 818.2 287.3 822.3C291.4 826.4 298.8 829.5 304.5 829.8C310.3 830.2 316.4 827.9 321.8 824.5C327.2 821.1 332.2 814.8 336.8 809.4C341.5 804 346.7 798.3 349.8 792.2C352.8 786.1 366.8 776 355.2 772.8C343.5 769.5 292.3 767.4 279.8 772.8Z" fill="none" stroke="#a6a6a6" stroke-width="2.2"/><path d="M367 772.8C355 776.4 369.2 787.8 371.3 794.3C373.5 800.8 376 806.7 379.9 811.5C383.9 816.4 389.6 821.2 395 823.4C400.4 825.5 406.8 825.7 412.2 824.5C417.6 823.2 423 820.5 427.3 815.8C431.6 811.2 435.4 803.6 438.1 796.5C440.8 789.3 455.3 776.7 443.5 772.8C431.6 768.8 379 769.2 367 772.8Z" fill="#232323"/><path d="M367 772.8C355 776.4 369.2 787.8 371.3 794.3C373.5 800.8 376 806.7 379.9 811.5C383.9 816.4 389.6 821.2 395 823.4C400.4 825.5 406.8 825.7 412.2 824.5C417.6 823.2 423 820.5 427.3 815.8C431.6 811.2 435.4 803.6 438.1 796.5C440.8 789.3 455.3 776.7 443.5 772.8C431.6 768.8 379 769.2 367 772.8Z" fill="#fff" filter="url(#ve-r2c2)"/><path d="M367 772.8C355 776.4 369.2 787.8 371.3 794.3C373.5 800.8 376 806.7 379.9 811.5C383.9 816.4 389.6 821.2 395 823.4C400.4 825.5 406.8 825.7 412.2 824.5C417.6 823.2 423 820.5 427.3 815.8C431.6 811.2 435.4 803.6 438.1 796.5C440.8 789.3 455.3 776.7 443.5 772.8C431.6 768.8 379 769.2 367 772.8Z" fill="none" stroke="#a6a6a6" stroke-width="2.2"/><path d="M277.6 886.9L285.2 880.5L298.1 871.8L313.2 869.7L328.2 875.1L343.3 885.8L354.1 890.2L371.3 882.6L388.5 875.1L405.8 871.8L423 874L431.6 879.4L427.3 882.6L423 899.8L416.5 921.4L410.1 945.1L405.8 968.8L299.2 968.8L295.9 947.2L289.5 925.7L283 908.5L278.7 889.1Z" fill="#fff" fill-opacity=".035"/><g filter="url(#vm-r2c2)" clip-path="url(#cm-r2c2)"><rect x="257.2" y="763.2" width="205.2" height="213" fill="url(#dg-r2c2)"/><path d="M278.7 889.1L283 908.5L289.5 925.7L295.9 947.2L317.9 947.2L311.5 925.7L305 908.5L300.7 889.1Z" fill="#fff" fill-opacity="0.35"/><path d="M427.3 882.6L423 899.8L416.5 921.4L410.1 945.1L388.1 945.1L394.5 921.4L401 899.8L405.3 882.6Z" fill="#fff" fill-opacity="0.35"/></g><path d="M277.6 886.9L285.2 880.5L298.1 871.8L313.2 869.7L328.2 875.1L343.3 885.8L354.1 890.2L371.3 882.6L388.5 875.1L405.8 871.8L423 874L431.6 879.4L427.3 882.6L423 899.8L416.5 921.4L410.1 945.1L405.8 968.8L299.2 968.8L295.9 947.2L289.5 925.7L283 908.5L278.7 889.1Z" fill="#fff" filter="url(#sp-r2c2)"/><g clip-path="url(#cm-r2c2)"><path d="M277.6 893.4C278.9 892.3 281.7 889.4 285.2 886.9C288.6 884.4 293.4 880.1 298.1 878.3C302.7 876.5 308.1 875.6 313.2 876.2C318.2 876.7 323.2 878.8 328.2 881.5C333.3 884.2 339 889.8 343.3 892.3C347.6 894.8 349.4 897.2 354.1 896.6C358.7 896.1 365.6 891.6 371.3 889.1C377.1 886.6 382.8 883.3 388.5 881.5C394.3 879.7 400 878.5 405.8 878.3C411.5 878.1 418.7 879.2 423 880.5C427.3 881.7 430.2 884.9 431.6 885.8" fill="none" stroke="#707070" stroke-width="5" stroke-opacity=".8" filter="url(#b1)"/><path d="M277.6 888.9C278.9 887.8 281.7 884.9 285.2 882.4C288.6 879.9 293.4 875.6 298.1 873.8C302.7 872 308.1 871.1 313.2 871.6C318.2 872.2 323.2 874.3 328.2 877C333.3 879.7 339 885.3 343.3 887.8C347.6 890.3 349.4 892.6 354.1 892.1C358.7 891.6 365.6 887.1 371.3 884.6C377.1 882 382.8 878.8 388.5 877C394.3 875.2 400 874 405.8 873.8C411.5 873.6 418.7 874.7 423 875.9C427.3 877.2 430.2 880.4 431.6 881.3" fill="none" stroke="#1a1a1a" stroke-width="2.6" filter="url(#b05)"/></g><path d="M278.7 889.1L280.1 895.3L281.4 901.5L282.8 907.7L284.9 913.6L287.2 919.6L289.4 925.5L291.2 931.6L293.1 937.7L294.9 943.8L296.3 949.9L297.3 956.2L298.2 962.5L299.2 968.8L311.6 968.8L310.2 962.5L308.7 956.2L307.2 949.9L305.2 943.8L302.8 937.7L300.5 931.6L298.1 925.5L295.3 919.6L292.5 913.6L288.3 907.7L285 901.5L282.1 895.3L279.9 889.1Z" fill="#bababa"/><path d="M427.3 882.6L425.6 889.2L424 895.9L422.2 902.5L420.2 909L418.3 915.6L416.3 922.1L414.5 928.7L412.7 935.3L410.9 941.9L409.4 948.6L408.2 955.3L407 962L405.8 968.8L393.3 968.8L395 962L396.7 955.3L398.4 948.6L400.4 941.9L402.6 935.3L404.9 928.7L407.2 922.1L409.6 915.6L412 909L414.5 902.5L418.5 895.9L422.9 889.2L426.1 882.6Z" fill="#bababa"/><path d="M274.4 839.5C275.7 832.6 282.5 837.8 287.3 837.4C292.1 836.9 303.4 837.1 308.8 836.3C314.3 835.6 321.9 832 326.1 832C330.3 832 335.7 835.3 339 836.3C342.3 837.4 347.1 840 349.8 839.5C352.5 839.1 355.1 835.8 358.4 833.1C361.7 830.4 369.8 821.1 373.5 820.2C377.1 819.2 380.6 824.7 384.2 826.6C387.8 828.6 394.5 832.9 399.3 834.2C404.1 835.4 413.6 835.2 418.7 835.2C423.8 835.2 432.9 832.3 435.9 834.2C438.9 836 438.7 844.4 440.2 848.2C441.7 851.9 445.3 858.1 446.7 861.1C448 864.1 450.2 867.6 449.9 869.7C449.6 871.8 447.1 874.8 444.5 876.2C442 877.5 434.6 879.7 431.6 879.4C428.6 879.1 426.6 875.1 423 874C419.4 872.9 410.6 871.7 405.8 871.8C400.9 872 393.4 873.6 388.5 875.1C383.7 876.6 376.1 880.5 371.3 882.6C366.5 884.7 358 889.7 354.1 890.2C350.2 890.6 346.9 888 343.3 885.8C339.7 883.7 332.5 877.3 328.2 875.1C324 872.8 317.4 870.1 313.2 869.7C308.9 869.2 302 870.3 298.1 871.8C294.2 873.4 288 878.4 285.2 880.5C282.3 882.6 279.1 892.7 277.6 886.9C276.1 881.2 273 846.5 274.4 839.5Z" fill="#232323"/><path d="M274.4 839.5C275.7 832.6 282.5 837.8 287.3 837.4C292.1 836.9 303.4 837.1 308.8 836.3C314.3 835.6 321.9 832 326.1 832C330.3 832 335.7 835.3 339 836.3C342.3 837.4 347.1 840 349.8 839.5C352.5 839.1 355.1 835.8 358.4 833.1C361.7 830.4 369.8 821.1 373.5 820.2C377.1 819.2 380.6 824.7 384.2 826.6C387.8 828.6 394.5 832.9 399.3 834.2C404.1 835.4 413.6 835.2 418.7 835.2C423.8 835.2 432.9 832.3 435.9 834.2C438.9 836 438.7 844.4 440.2 848.2C441.7 851.9 445.3 858.1 446.7 861.1C448 864.1 450.2 867.6 449.9 869.7C449.6 871.8 447.1 874.8 444.5 876.2C442 877.5 434.6 879.7 431.6 879.4C428.6 879.1 426.6 875.1 423 874C419.4 872.9 410.6 871.7 405.8 871.8C400.9 872 393.4 873.6 388.5 875.1C383.7 876.6 376.1 880.5 371.3 882.6C366.5 884.7 358 889.7 354.1 890.2C350.2 890.6 346.9 888 343.3 885.8C339.7 883.7 332.5 877.3 328.2 875.1C324 872.8 317.4 870.1 313.2 869.7C308.9 869.2 302 870.3 298.1 871.8C294.2 873.4 288 878.4 285.2 880.5C282.3 882.6 279.1 892.7 277.6 886.9C276.1 881.2 273 846.5 274.4 839.5Z" fill="#fff" filter="url(#ve-r2c2)"/><path d="M274.4 839.5C275.7 832.6 282.5 837.8 287.3 837.4C292.1 836.9 303.4 837.1 308.8 836.3C314.3 835.6 321.9 832 326.1 832C330.3 832 335.7 835.3 339 836.3C342.3 837.4 347.1 840 349.8 839.5C352.5 839.1 355.1 835.8 358.4 833.1C361.7 830.4 369.8 821.1 373.5 820.2C377.1 819.2 380.6 824.7 384.2 826.6C387.8 828.6 394.5 832.9 399.3 834.2C404.1 835.4 413.6 835.2 418.7 835.2C423.8 835.2 432.9 832.3 435.9 834.2C438.9 836 438.7 844.4 440.2 848.2C441.7 851.9 445.3 858.1 446.7 861.1C448 864.1 450.2 867.6 449.9 869.7C449.6 871.8 447.1 874.8 444.5 876.2C442 877.5 434.6 879.7 431.6 879.4C428.6 879.1 426.6 875.1 423 874C419.4 872.9 410.6 871.7 405.8 871.8C400.9 872 393.4 873.6 388.5 875.1C383.7 876.6 376.1 880.5 371.3 882.6C366.5 884.7 358 889.7 354.1 890.2C350.2 890.6 346.9 888 343.3 885.8C339.7 883.7 332.5 877.3 328.2 875.1C324 872.8 317.4 870.1 313.2 869.7C308.9 869.2 302 870.3 298.1 871.8C294.2 873.4 288 878.4 285.2 880.5C282.3 882.6 279.1 892.7 277.6 886.9C276.1 881.2 273 846.5 274.4 839.5Z" fill="none" stroke="#ababab" stroke-width="2.9"/><path d="M444.5 878.3C446 872.6 451.4 866.1 452.7 878.3C454.1 890.5 453.7 940.1 452.7 951.5C451.8 963 448.6 953.7 447.1 947.2C445.6 940.8 444.1 924.3 443.7 912.8C443.2 901.3 443 884.1 444.5 878.3Z" fill="#232323"/><path d="M444.5 878.3C446 872.6 451.4 866.1 452.7 878.3C454.1 890.5 453.7 940.1 452.7 951.5C451.8 963 448.6 953.7 447.1 947.2C445.6 940.8 444.1 924.3 443.7 912.8C443.2 901.3 443 884.1 444.5 878.3Z" fill="#fff" filter="url(#ve-r2c2)"/><path d="M444.5 878.3C446 872.6 451.4 866.1 452.7 878.3C454.1 890.5 453.7 940.1 452.7 951.5C451.8 963 448.6 953.7 447.1 947.2C445.6 940.8 444.1 924.3 443.7 912.8C443.2 901.3 443 884.1 444.5 878.3Z" fill="none" stroke="#a0a0a0" stroke-width="2"/></g><rect x="267.2" y="856" width="185.2" height="1.5" fill="#b01c1c" fill-opacity=".72"/><rect x="307.9" y="773.2" width="1.8" height="193" fill="#2c2cd6" fill-opacity=".52"/></g>
<rect x="267.1" y="773.2" width="1.9" height="193" fill="#27d027"/>
<rect x="267.1" y="773" width="185.3" height="2.1" fill="#27d027"/>
<clipPath id="cp-r2c3"><rect x="457.6" y="771.9" width="200.1" height="194.5"/></clipPath>
<filter id="ve-r2c3" x="455.6" y="769.9" width="204.1" height="198.5" filterUnits="userSpaceOnUse" color-interpolation-filters="sRGB">
<feTurbulence type="turbulence" baseFrequency="0.14 0.115" numOctaves="1" seed="29"/>
<feColorMatrix type="matrix" values="0 0 0 0 .7  0 0 0 0 .7  0 0 0 0 .7  0 0 0 -11 1.7"/>
<feComposite operator="in" in2="SourceGraphic"/>
</filter>
<filter id="vm-r2c3" x="455.6" y="769.9" width="204.1" height="198.5" filterUnits="userSpaceOnUse" color-interpolation-filters="sRGB">
<feTurbulence type="turbulence" baseFrequency="0.17 0.09" numOctaves="1" seed="129" result="t"/>
<feColorMatrix type="matrix" values="0 0 0 0 .78  0 0 0 0 .78  0 0 0 0 .78  0 0 0 -4.2 1" result="v"/>
<feTurbulence type="fractalNoise" baseFrequency="0.07 0.045" numOctaves="2" seed="229"/>
<feColorMatrix type="matrix" values="0 0 0 0 1  0 0 0 0 1  0 0 0 0 1  0 0 0 2.2 -0.22" result="n"/>
<feGaussianBlur in="SourceGraphic" stdDeviation="4" result="g0"/>
<feComposite in="g0" in2="n" operator="arithmetic" k1="0.55" k2="0.5" k3="0" k4="0" result="g"/>
<feComposite in="v" in2="g" operator="arithmetic" k1="1" k2="0" k3="0" k4="0" result="m"/>
<feComponentTransfer in="m"><feFuncA type="linear" slope="12" intercept="-4.7"/></feComponentTransfer>
<feComposite operator="in" in2="SourceAlpha"/>
</filter>
<filter id="sp-r2c3" x="455.6" y="769.9" width="204.1" height="198.5" filterUnits="userSpaceOnUse" color-interpolation-filters="sRGB">
<feTurbulence type="fractalNoise" baseFrequency="0.26 0.15" numOctaves="1" seed="329"/>
<feColorMatrix type="matrix" values="0 0 0 0 .78  0 0 0 0 .78  0 0 0 0 .78  0 0 0 14 -9.45"/>
<feComposite operator="in" in2="SourceGraphic"/>
</filter>
<linearGradient id="dg-r2c3" gradientUnits="userSpaceOnUse" x1="0" y1="857.8" x2="0" y2="966.4"><stop offset="0" stop-color="#fff" stop-opacity="0.9"/><stop offset=".3" stop-color="#fff" stop-opacity="0.68"/><stop offset=".62" stop-color="#fff" stop-opacity="0.52"/><stop offset="1" stop-color="#fff" stop-opacity="0.46"/></linearGradient>
<clipPath id="cm-r2c3"><path d="M462.9 889.1L478 876.2L493.1 863.2L508.2 857.8L523.2 862.2L536.2 869.7L546.9 874L570.6 867.5L590 863.2L609.4 863.2L626.6 869.7L637.4 876.2L633.1 876.2L628.8 895.5L620.2 917.1L611.5 940.8L607.2 968.8L495.2 968.8L488.8 947.2L482.3 927.8L473.7 908.5L469.4 891.2Z"/></clipPath>
<g clip-path="url(#cp-r2c3)"><g filter="url(#soft)"><rect x="457.6" y="771.9" width="200.1" height="194.5" fill="#101010"/><rect x="457.6" y="771.9" width="200.1" height="194.5" filter="url(#grain)"/><path d="M469.4 772.3C459 777.4 469 796.7 470.5 802.9C471.9 809.1 474.2 808.5 478 809.4C481.8 810.3 487.7 809.7 493.1 808.3C498.5 806.9 504.9 804.5 510.3 800.8C515.7 797 521.6 790.4 525.4 785.7C529.2 781 542.3 774.6 532.9 772.3C523.6 770.1 479.8 767.2 469.4 772.3Z" fill="#232323"/><path d="M469.4 772.3C459 777.4 469 796.7 470.5 802.9C471.9 809.1 474.2 808.5 478 809.4C481.8 810.3 487.7 809.7 493.1 808.3C498.5 806.9 504.9 804.5 510.3 800.8C515.7 797 521.6 790.4 525.4 785.7C529.2 781 542.3 774.6 532.9 772.3C523.6 770.1 479.8 767.2 469.4 772.3Z" fill="#fff" filter="url(#ve-r2c3)"/><path d="M469.4 772.3C459 777.4 469 796.7 470.5 802.9C471.9 809.1 474.2 808.5 478 809.4C481.8 810.3 487.7 809.7 493.1 808.3C498.5 806.9 504.9 804.5 510.3 800.8C515.7 797 521.6 790.4 525.4 785.7C529.2 781 542.3 774.6 532.9 772.3C523.6 770.1 479.8 767.2 469.4 772.3Z" fill="none" stroke="#a6a6a6" stroke-width="2.2"/><path d="M579.2 772.3C573.8 774.2 585.7 780.8 590 783.5C594.3 786.3 600.4 788.6 605.1 788.9C609.7 789.3 615.1 788.5 618 785.7C620.9 782.9 628.8 774.6 622.3 772.3C615.8 770.1 584.6 770.5 579.2 772.3Z" fill="#232323"/><path d="M579.2 772.3C573.8 774.2 585.7 780.8 590 783.5C594.3 786.3 600.4 788.6 605.1 788.9C609.7 789.3 615.1 788.5 618 785.7C620.9 782.9 628.8 774.6 622.3 772.3C615.8 770.1 584.6 770.5 579.2 772.3Z" fill="#fff" filter="url(#ve-r2c3)"/><path d="M579.2 772.3C573.8 774.2 585.7 780.8 590 783.5C594.3 786.3 600.4 788.6 605.1 788.9C609.7 789.3 615.1 788.5 618 785.7C620.9 782.9 628.8 774.6 622.3 772.3C615.8 770.1 584.6 770.5 579.2 772.3Z" fill="none" stroke="#a6a6a6" stroke-width="2.2"/><path d="M577.1 797.5C578.7 796.1 583.2 794.3 587.8 794.3C592.5 794.3 600.1 796.3 605.1 797.5C610.1 798.8 616.2 800.2 618 801.8C619.8 803.5 618.7 806.2 615.8 807.2C613 808.3 605.8 808.5 600.8 808.3C595.7 808.1 589.5 807.1 585.7 806.2C581.9 805.3 579.6 804.4 578.2 802.9C576.7 801.5 575.5 799 577.1 797.5Z" fill="#232323"/><path d="M577.1 797.5C578.7 796.1 583.2 794.3 587.8 794.3C592.5 794.3 600.1 796.3 605.1 797.5C610.1 798.8 616.2 800.2 618 801.8C619.8 803.5 618.7 806.2 615.8 807.2C613 808.3 605.8 808.5 600.8 808.3C595.7 808.1 589.5 807.1 585.7 806.2C581.9 805.3 579.6 804.4 578.2 802.9C576.7 801.5 575.5 799 577.1 797.5Z" fill="#fff" filter="url(#ve-r2c3)"/><path d="M577.1 797.5C578.7 796.1 583.2 794.3 587.8 794.3C592.5 794.3 600.1 796.3 605.1 797.5C610.1 798.8 616.2 800.2 618 801.8C619.8 803.5 618.7 806.2 615.8 807.2C613 808.3 605.8 808.5 600.8 808.3C595.7 808.1 589.5 807.1 585.7 806.2C581.9 805.3 579.6 804.4 578.2 802.9C576.7 801.5 575.5 799 577.1 797.5Z" fill="none" stroke="#a6a6a6" stroke-width="2.2"/><path d="M462.9 889.1L478 876.2L493.1 863.2L508.2 857.8L523.2 862.2L536.2 869.7L546.9 874L570.6 867.5L590 863.2L609.4 863.2L626.6 869.7L637.4 876.2L633.1 876.2L628.8 895.5L620.2 917.1L611.5 940.8L607.2 968.8L495.2 968.8L488.8 947.2L482.3 927.8L473.7 908.5L469.4 891.2Z" fill="#fff" fill-opacity=".035"/><g filter="url(#vm-r2c3)" clip-path="url(#cm-r2c3)"><rect x="447.6" y="761.9" width="220.1" height="214.5" fill="url(#dg-r2c3)"/><path d="M469.4 891.2L473.7 908.5L482.3 927.8L488.8 947.2L510.8 947.2L504.3 927.8L495.7 908.5L491.4 891.2Z" fill="#fff" fill-opacity="0.35"/><path d="M633.1 876.2L628.8 895.5L620.2 917.1L611.5 940.8L589.5 940.8L598.2 917.1L606.8 895.5L611.1 876.2Z" fill="#fff" fill-opacity="0.35"/></g><path d="M462.9 889.1L478 876.2L493.1 863.2L508.2 857.8L523.2 862.2L536.2 869.7L546.9 874L570.6 867.5L590 863.2L609.4 863.2L626.6 869.7L637.4 876.2L633.1 876.2L628.8 895.5L620.2 917.1L611.5 940.8L607.2 968.8L495.2 968.8L488.8 947.2L482.3 927.8L473.7 908.5L469.4 891.2Z" fill="#fff" filter="url(#sp-r2c3)"/><g clip-path="url(#cm-r2c3)"><path d="M462.9 895.5C465.4 893.4 473 886.9 478 882.6C483 878.3 488.1 872.7 493.1 869.7C498.1 866.6 503.1 864.5 508.2 864.3C513.2 864.1 518.6 866.6 523.2 868.6C527.9 870.6 532.2 874.2 536.2 876.2C540.1 878.1 541.2 880.8 546.9 880.5C552.7 880.1 563.4 875.8 570.6 874C577.8 872.2 583.5 870.4 590 869.7C596.5 869 603.3 868.6 609.4 869.7C615.5 870.8 621.9 874 626.6 876.2C631.3 878.3 635.6 881.5 637.4 882.6" fill="none" stroke="#707070" stroke-width="5" stroke-opacity=".8" filter="url(#b1)"/><path d="M462.9 891C465.4 888.9 473 882.4 478 878.1C483 873.8 488.1 868.2 493.1 865.2C498.1 862.1 503.1 860 508.2 859.8C513.2 859.6 518.6 862.1 523.2 864.1C527.9 866.1 532.2 869.7 536.2 871.6C540.1 873.6 541.2 876.3 546.9 875.9C552.7 875.6 563.4 871.3 570.6 869.5C577.8 867.7 583.5 865.9 590 865.2C596.5 864.5 603.3 864.1 609.4 865.2C615.5 866.2 621.9 869.5 626.6 871.6C631.3 873.8 635.6 877 637.4 878.1" fill="none" stroke="#1a1a1a" stroke-width="2.6" filter="url(#b05)"/></g><path d="M469.4 891.2L470.9 897.3L472.4 903.5L474.2 909.5L476.7 915.3L479.3 921L481.8 926.8L483.9 932.7L485.9 938.7L487.9 944.7L489.8 950.7L491.6 956.7L493.4 962.7L495.2 968.8L506.9 968.8L504.5 962.7L502.1 956.7L499.7 950.7L497.3 944.7L494.7 938.7L492.2 932.7L489.5 926.8L486.4 921L483.2 915.3L478.9 909.5L475.6 903.5L472.8 897.3L470.6 891.2Z" fill="#bababa"/><path d="M633.1 876.2L631.5 883.4L629.9 890.7L627.9 897.8L625.1 904.7L622.3 911.6L619.6 918.5L617.1 925.5L614.6 932.5L612 939.5L610.6 946.7L609.5 954.1L608.4 961.4L607.2 968.8L594.5 968.8L596.4 961.4L598.3 954.1L600.1 946.7L602.3 939.5L605.5 932.5L608.8 925.5L612.1 918.5L615.6 911.6L619.6 904.7L623.8 897.8L627.1 890.7L629.7 883.4L631.9 876.2Z" fill="#bababa"/><path d="M465.1 830.9C466.9 821.9 471.3 825.7 475.8 824.5C480.4 823.3 491.4 824 497.4 822.3C503.4 820.6 515 813.4 518.9 812.6C522.8 811.9 523 815.9 525.4 816.9C527.8 818 532.8 820.6 536.2 820.2C539.5 819.7 544.6 816.4 549.1 813.7C553.6 811 564.2 801.7 568.5 800.8C572.7 799.9 575.9 805.3 579.2 807.2C582.5 809.2 587.3 813.6 592.2 814.8C597 816 608 815.8 613.7 815.8C619.4 815.8 629.5 813 633.1 814.8C636.7 816.6 637.4 824.1 639.5 828.8C641.6 833.4 645.7 843.9 648.2 848.2C650.6 852.4 655.7 855.9 656.8 858.9C657.8 861.9 658.4 867.3 655.7 869.7C653 872.1 641.5 876.2 637.4 876.2C633.3 876.2 630.5 871.5 626.6 869.7C622.7 867.9 614.5 864.1 609.4 863.2C604.3 862.3 595.4 862.6 590 863.2C584.6 863.8 576.6 866 570.6 867.5C564.6 869 551.7 873.7 546.9 874C542.1 874.3 539.5 871.4 536.2 869.7C532.8 868 527.2 863.8 523.2 862.2C519.3 860.5 512.4 857.7 508.2 857.8C503.9 858 497.3 860.7 493.1 863.2C488.9 865.8 482.2 872.5 478 876.2C473.8 879.8 464.7 895.4 462.9 889.1C461.1 882.7 463.3 840 465.1 830.9Z" fill="#232323"/><path d="M465.1 830.9C466.9 821.9 471.3 825.7 475.8 824.5C480.4 823.3 491.4 824 497.4 822.3C503.4 820.6 515 813.4 518.9 812.6C522.8 811.9 523 815.9 525.4 816.9C527.8 818 532.8 820.6 536.2 820.2C539.5 819.7 544.6 816.4 549.1 813.7C553.6 811 564.2 801.7 568.5 800.8C572.7 799.9 575.9 805.3 579.2 807.2C582.5 809.2 587.3 813.6 592.2 814.8C597 816 608 815.8 613.7 815.8C619.4 815.8 629.5 813 633.1 814.8C636.7 816.6 637.4 824.1 639.5 828.8C641.6 833.4 645.7 843.9 648.2 848.2C650.6 852.4 655.7 855.9 656.8 858.9C657.8 861.9 658.4 867.3 655.7 869.7C653 872.1 641.5 876.2 637.4 876.2C633.3 876.2 630.5 871.5 626.6 869.7C622.7 867.9 614.5 864.1 609.4 863.2C604.3 862.3 595.4 862.6 590 863.2C584.6 863.8 576.6 866 570.6 867.5C564.6 869 551.7 873.7 546.9 874C542.1 874.3 539.5 871.4 536.2 869.7C532.8 868 527.2 863.8 523.2 862.2C519.3 860.5 512.4 857.7 508.2 857.8C503.9 858 497.3 860.7 493.1 863.2C488.9 865.8 482.2 872.5 478 876.2C473.8 879.8 464.7 895.4 462.9 889.1C461.1 882.7 463.3 840 465.1 830.9Z" fill="#fff" filter="url(#ve-r2c3)"/><path d="M465.1 830.9C466.9 821.9 471.3 825.7 475.8 824.5C480.4 823.3 491.4 824 497.4 822.3C503.4 820.6 515 813.4 518.9 812.6C522.8 811.9 523 815.9 525.4 816.9C527.8 818 532.8 820.6 536.2 820.2C539.5 819.7 544.6 816.4 549.1 813.7C553.6 811 564.2 801.7 568.5 800.8C572.7 799.9 575.9 805.3 579.2 807.2C582.5 809.2 587.3 813.6 592.2 814.8C597 816 608 815.8 613.7 815.8C619.4 815.8 629.5 813 633.1 814.8C636.7 816.6 637.4 824.1 639.5 828.8C641.6 833.4 645.7 843.9 648.2 848.2C650.6 852.4 655.7 855.9 656.8 858.9C657.8 861.9 658.4 867.3 655.7 869.7C653 872.1 641.5 876.2 637.4 876.2C633.3 876.2 630.5 871.5 626.6 869.7C622.7 867.9 614.5 864.1 609.4 863.2C604.3 862.3 595.4 862.6 590 863.2C584.6 863.8 576.6 866 570.6 867.5C564.6 869 551.7 873.7 546.9 874C542.1 874.3 539.5 871.4 536.2 869.7C532.8 868 527.2 863.8 523.2 862.2C519.3 860.5 512.4 857.7 508.2 857.8C503.9 858 497.3 860.7 493.1 863.2C488.9 865.8 482.2 872.5 478 876.2C473.8 879.8 464.7 895.4 462.9 889.1C461.1 882.7 463.3 840 465.1 830.9Z" fill="none" stroke="#ababab" stroke-width="2.9"/><path d="M650.3 878.3C651.7 872.6 657.1 865.4 658.5 878.3C659.9 891.2 659.3 944.7 658.5 955.8C657.7 967 654.9 952.3 653.5 945.1C652.2 937.9 650.8 923.9 650.3 912.8C649.8 901.6 648.9 884.1 650.3 878.3Z" fill="#232323"/><path d="M650.3 878.3C651.7 872.6 657.1 865.4 658.5 878.3C659.9 891.2 659.3 944.7 658.5 955.8C657.7 967 654.9 952.3 653.5 945.1C652.2 937.9 650.8 923.9 650.3 912.8C649.8 901.6 648.9 884.1 650.3 878.3Z" fill="#fff" filter="url(#ve-r2c3)"/><path d="M650.3 878.3C651.7 872.6 657.1 865.4 658.5 878.3C659.9 891.2 659.3 944.7 658.5 955.8C657.7 967 654.9 952.3 653.5 945.1C652.2 937.9 650.8 923.9 650.3 912.8C649.8 901.6 648.9 884.1 650.3 878.3Z" fill="none" stroke="#a0a0a0" stroke-width="2"/></g><rect x="457.6" y="841.2" width="200.1" height="1.5" fill="#b01c1c" fill-opacity=".72"/><rect x="495.4" y="771.9" width="1.8" height="194.5" fill="#2c2cd6" fill-opacity=".52"/></g>
<rect x="457.5" y="771.9" width="1.9" height="194.5" fill="#27d027"/>
<rect x="457.5" y="771.7" width="200.2" height="2.1" fill="#27d027"/>
<clipPath id="cp-r2c4"><rect x="663.9" y="776.4" width="200.7" height="190.2"/></clipPath>
<filter id="ve-r2c4" x="661.9" y="774.4" width="204.7" height="194.2" filterUnits="userSpaceOnUse" color-interpolation-filters="sRGB">
<feTurbulence type="turbulence" baseFrequency="0.14 0.115" numOctaves="1" seed="31"/>
<feColorMatrix type="matrix" values="0 0 0 0 .7  0 0 0 0 .7  0 0 0 0 .7  0 0 0 -11 1.6"/>
<feComposite operator="in" in2="SourceGraphic"/>
</filter>
<filter id="vm-r2c4" x="661.9" y="774.4" width="204.7" height="194.2" filterUnits="userSpaceOnUse" color-interpolation-filters="sRGB">
<feTurbulence type="turbulence" baseFrequency="0.17 0.09" numOctaves="1" seed="131" result="t"/>
<feColorMatrix type="matrix" values="0 0 0 0 .78  0 0 0 0 .78  0 0 0 0 .78  0 0 0 -4.2 1" result="v"/>
<feTurbulence type="fractalNoise" baseFrequency="0.07 0.045" numOctaves="2" seed="231"/>
<feColorMatrix type="matrix" values="0 0 0 0 1  0 0 0 0 1  0 0 0 0 1  0 0 0 2.2 -0.22" result="n"/>
<feGaussianBlur in="SourceGraphic" stdDeviation="4" result="g0"/>
<feComposite in="g0" in2="n" operator="arithmetic" k1="0.55" k2="0.5" k3="0" k4="0" result="g"/>
<feComposite in="v" in2="g" operator="arithmetic" k1="1" k2="0" k3="0" k4="0" result="m"/>
<feComponentTransfer in="m"><feFuncA type="linear" slope="12" intercept="-4.7"/></feComponentTransfer>
<feComposite operator="in" in2="SourceAlpha"/>
</filter>
<filter id="sp-r2c4" x="661.9" y="774.4" width="204.7" height="194.2" filterUnits="userSpaceOnUse" color-interpolation-filters="sRGB">
<feTurbulence type="fractalNoise" baseFrequency="0.26 0.15" numOctaves="1" seed="331"/>
<feColorMatrix type="matrix" values="0 0 0 0 .78  0 0 0 0 .78  0 0 0 0 .78  0 0 0 14 -9.45"/>
<feComposite operator="in" in2="SourceGraphic"/>
</filter>
<linearGradient id="dg-r2c4" gradientUnits="userSpaceOnUse" x1="0" y1="833.1" x2="0" y2="966.6"><stop offset="0" stop-color="#fff" stop-opacity="0.88"/><stop offset=".3" stop-color="#fff" stop-opacity="0.66"/><stop offset=".62" stop-color="#fff" stop-opacity="0.52"/><stop offset="1" stop-color="#fff" stop-opacity="0.46"/></linearGradient>
<clipPath id="cm-r2c4"><path d="M669.9 854.6L682.8 848.2L697.9 836.3L713 833.1L728.1 837.4L741 846L751.8 850.3L769 846L786.2 840.6L805.6 836.3L825 837.4L842.2 841.7L850.8 848.2L842.2 852.5L840.1 869.7L833.6 891.2L827.2 912.8L820.7 938.6L816.4 968.8L705.5 968.8L702.2 951.5L695.8 927.8L687.2 902L678.5 878.3L672.1 856.8Z"/></clipPath>
<g clip-path="url(#cp-r2c4)"><g filter="url(#soft)"><rect x="663.9" y="776.4" width="200.7" height="190.2" fill="#101010"/><rect x="663.9" y="776.4" width="200.7" height="190.2" filter="url(#grain)"/><path d="M669.9 774.5C662.4 776.4 671.4 783.1 674.2 785.7C677.1 788.3 682.5 789.8 687.2 790C691.8 790.2 697.6 788.4 702.2 786.8C706.9 785.2 712.3 782.4 715.2 780.3C718 778.3 727 775.5 719.5 774.5C711.9 773.5 677.5 772.6 669.9 774.5Z" fill="#232323"/><path d="M669.9 774.5C662.4 776.4 671.4 783.1 674.2 785.7C677.1 788.3 682.5 789.8 687.2 790C691.8 790.2 697.6 788.4 702.2 786.8C706.9 785.2 712.3 782.4 715.2 780.3C718 778.3 727 775.5 719.5 774.5C711.9 773.5 677.5 772.6 669.9 774.5Z" fill="#fff" filter="url(#ve-r2c4)"/><path d="M669.9 774.5C662.4 776.4 671.4 783.1 674.2 785.7C677.1 788.3 682.5 789.8 687.2 790C691.8 790.2 697.6 788.4 702.2 786.8C706.9 785.2 712.3 782.4 715.2 780.3C718 778.3 727 775.5 719.5 774.5C711.9 773.5 677.5 772.6 669.9 774.5Z" fill="none" stroke="#a6a6a6" stroke-width="2.2"/><path d="M816.4 774.5C815.3 775.3 824.3 779.2 827.2 779.2C830 779.2 835.4 775.3 833.6 774.5C831.8 773.7 817.5 773.7 816.4 774.5Z" fill="#232323"/><path d="M816.4 774.5C815.3 775.3 824.3 779.2 827.2 779.2C830 779.2 835.4 775.3 833.6 774.5C831.8 773.7 817.5 773.7 816.4 774.5Z" fill="#fff" filter="url(#ve-r2c4)"/><path d="M816.4 774.5C815.3 775.3 824.3 779.2 827.2 779.2C830 779.2 835.4 775.3 833.6 774.5C831.8 773.7 817.5 773.7 816.4 774.5Z" fill="none" stroke="#a6a6a6" stroke-width="2.2"/><path d="M669.9 854.6L682.8 848.2L697.9 836.3L713 833.1L728.1 837.4L741 846L751.8 850.3L769 846L786.2 840.6L805.6 836.3L825 837.4L842.2 841.7L850.8 848.2L842.2 852.5L840.1 869.7L833.6 891.2L827.2 912.8L820.7 938.6L816.4 968.8L705.5 968.8L702.2 951.5L695.8 927.8L687.2 902L678.5 878.3L672.1 856.8Z" fill="#fff" fill-opacity=".035"/><g filter="url(#vm-r2c4)" clip-path="url(#cm-r2c4)"><rect x="653.9" y="766.4" width="220.7" height="210.2" fill="url(#dg-r2c4)"/><path d="M672.1 856.8L678.5 878.3L687.2 902L695.8 927.8L717.8 927.8L709.2 902L700.5 878.3L694.1 856.8Z" fill="#fff" fill-opacity="0.35"/><path d="M842.2 852.5L840.1 869.7L833.6 891.2L827.2 912.8L805.2 912.8L811.6 891.2L818.1 869.7L820.2 852.5Z" fill="#fff" fill-opacity="0.35"/></g><path d="M669.9 854.6L682.8 848.2L697.9 836.3L713 833.1L728.1 837.4L741 846L751.8 850.3L769 846L786.2 840.6L805.6 836.3L825 837.4L842.2 841.7L850.8 848.2L842.2 852.5L840.1 869.7L833.6 891.2L827.2 912.8L820.7 938.6L816.4 968.8L705.5 968.8L702.2 951.5L695.8 927.8L687.2 902L678.5 878.3L672.1 856.8Z" fill="#fff" filter="url(#sp-r2c4)"/><g clip-path="url(#cm-r2c4)"><path d="M669.9 861.1C672.1 860 678.2 857.7 682.8 854.6C687.5 851.6 692.9 845.3 697.9 842.8C702.9 840.3 708 839.4 713 839.5C718 839.7 723.4 841.7 728.1 843.8C732.7 846 737.1 850.3 741 852.5C744.9 854.6 747.1 856.8 751.8 856.8C756.4 856.8 763.3 854.1 769 852.5C774.7 850.8 780.1 848.7 786.2 847.1C792.3 845.5 799.2 843.3 805.6 842.8C812.1 842.2 818.9 842.9 825 843.8C831.1 844.7 837.9 846.4 842.2 848.2C846.5 849.9 849.4 853.5 850.8 854.6" fill="none" stroke="#707070" stroke-width="5" stroke-opacity=".8" filter="url(#b1)"/><path d="M669.9 856.6C672.1 855.5 678.2 853.1 682.8 850.1C687.5 847 692.9 840.8 697.9 838.2C702.9 835.7 708 834.8 713 835C718 835.2 723.4 837.2 728.1 839.3C732.7 841.5 737.1 845.8 741 847.9C744.9 850.1 747.1 852.2 751.8 852.2C756.4 852.2 763.3 849.6 769 847.9C774.7 846.3 780.1 844.2 786.2 842.6C792.3 840.9 799.2 838.8 805.6 838.2C812.1 837.7 818.9 838.4 825 839.3C831.1 840.2 837.9 841.8 842.2 843.6C846.5 845.4 849.4 849 850.8 850.1" fill="none" stroke="#1a1a1a" stroke-width="2.6" filter="url(#b05)"/></g><path d="M672.1 856.8L674.7 865.4L677.3 874L680.1 882.6L683.2 891L686.2 899.5L689.2 908L692 916.5L694.8 925.1L697.4 933.7L699.7 942.4L702.1 951.1L703.8 959.9L705.5 968.8L717.1 968.8L715 959.9L712.9 951.1L710 942.4L707.2 933.7L704.3 925.1L701 916.5L697.7 908L694.3 899.5L690.8 891L687.3 882.6L684 874L679.4 865.4L673.3 856.8Z" fill="#bababa"/><path d="M842.2 852.5L841.1 861.6L839.8 870.7L837.1 879.5L834.5 888.3L831.9 897.1L829.2 905.9L826.7 914.7L824.4 923.6L822.2 932.5L820.3 941.5L819 950.6L817.7 959.7L816.4 968.8L802 968.8L804.1 959.7L806.2 950.6L808.3 941.5L811.1 932.5L814.1 923.6L817.1 914.7L820.5 905.9L824 897.1L827.4 888.3L831.3 879.5L836 870.7L839 861.6L841 852.5Z" fill="#bababa"/><path d="M669.9 805.1C671.1 797.4 674.3 800.4 678.5 799.7C682.8 798.9 694 800.7 700.1 799.7C706.1 798.6 716.5 793.8 721.6 792.2C726.7 790.5 733.7 787.2 736.7 787.8C739.7 788.4 741 795.4 743.2 796.5C745.3 797.5 749.4 796.6 751.8 795.4C754.2 794.2 757.4 790.3 760.4 787.8C763.4 785.4 769.7 778.8 773.3 778.2C776.9 777.6 782 781.9 786.2 783.5C790.5 785.2 798 788.9 803.5 790C808.9 791.1 819 791.1 825 791.1C831 791.1 843.1 788 846.5 790C850 792 848.3 800.9 849.8 805.1C851.3 809.3 855.3 816.5 857.3 820.2C859.3 823.8 863.2 827.3 864.2 830.9C865.2 834.5 866.1 843.6 864.2 846C862.3 848.4 853.9 848.8 850.8 848.2C847.8 847.6 845.8 843.2 842.2 841.7C838.6 840.2 830.1 838.1 825 837.4C819.9 836.6 811 835.9 805.6 836.3C800.2 836.8 791.4 839.3 786.2 840.6C781.1 842 773.8 844.6 769 846C764.2 847.4 755.7 850.3 751.8 850.3C747.8 850.3 744.3 847.8 741 846C737.7 844.2 732 839.2 728.1 837.4C724.2 835.6 717.2 833.2 713 833.1C708.8 832.9 702.1 834.2 697.9 836.3C693.7 838.4 686.8 845.6 682.8 848.2C678.9 850.7 671.7 860.6 669.9 854.6C668.1 848.6 668.7 812.8 669.9 805.1Z" fill="#232323"/><path d="M669.9 805.1C671.1 797.4 674.3 800.4 678.5 799.7C682.8 798.9 694 800.7 700.1 799.7C706.1 798.6 716.5 793.8 721.6 792.2C726.7 790.5 733.7 787.2 736.7 787.8C739.7 788.4 741 795.4 743.2 796.5C745.3 797.5 749.4 796.6 751.8 795.4C754.2 794.2 757.4 790.3 760.4 787.8C763.4 785.4 769.7 778.8 773.3 778.2C776.9 777.6 782 781.9 786.2 783.5C790.5 785.2 798 788.9 803.5 790C808.9 791.1 819 791.1 825 791.1C831 791.1 843.1 788 846.5 790C850 792 848.3 800.9 849.8 805.1C851.3 809.3 855.3 816.5 857.3 820.2C859.3 823.8 863.2 827.3 864.2 830.9C865.2 834.5 866.1 843.6 864.2 846C862.3 848.4 853.9 848.8 850.8 848.2C847.8 847.6 845.8 843.2 842.2 841.7C838.6 840.2 830.1 838.1 825 837.4C819.9 836.6 811 835.9 805.6 836.3C800.2 836.8 791.4 839.3 786.2 840.6C781.1 842 773.8 844.6 769 846C764.2 847.4 755.7 850.3 751.8 850.3C747.8 850.3 744.3 847.8 741 846C737.7 844.2 732 839.2 728.1 837.4C724.2 835.6 717.2 833.2 713 833.1C708.8 832.9 702.1 834.2 697.9 836.3C693.7 838.4 686.8 845.6 682.8 848.2C678.9 850.7 671.7 860.6 669.9 854.6C668.1 848.6 668.7 812.8 669.9 805.1Z" fill="#fff" filter="url(#ve-r2c4)"/><path d="M669.9 805.1C671.1 797.4 674.3 800.4 678.5 799.7C682.8 798.9 694 800.7 700.1 799.7C706.1 798.6 716.5 793.8 721.6 792.2C726.7 790.5 733.7 787.2 736.7 787.8C739.7 788.4 741 795.4 743.2 796.5C745.3 797.5 749.4 796.6 751.8 795.4C754.2 794.2 757.4 790.3 760.4 787.8C763.4 785.4 769.7 778.8 773.3 778.2C776.9 777.6 782 781.9 786.2 783.5C790.5 785.2 798 788.9 803.5 790C808.9 791.1 819 791.1 825 791.1C831 791.1 843.1 788 846.5 790C850 792 848.3 800.9 849.8 805.1C851.3 809.3 855.3 816.5 857.3 820.2C859.3 823.8 863.2 827.3 864.2 830.9C865.2 834.5 866.1 843.6 864.2 846C862.3 848.4 853.9 848.8 850.8 848.2C847.8 847.6 845.8 843.2 842.2 841.7C838.6 840.2 830.1 838.1 825 837.4C819.9 836.6 811 835.9 805.6 836.3C800.2 836.8 791.4 839.3 786.2 840.6C781.1 842 773.8 844.6 769 846C764.2 847.4 755.7 850.3 751.8 850.3C747.8 850.3 744.3 847.8 741 846C737.7 844.2 732 839.2 728.1 837.4C724.2 835.6 717.2 833.2 713 833.1C708.8 832.9 702.1 834.2 697.9 836.3C693.7 838.4 686.8 845.6 682.8 848.2C678.9 850.7 671.7 860.6 669.9 854.6C668.1 848.6 668.7 812.8 669.9 805.1Z" fill="none" stroke="#ababab" stroke-width="2.9"/><path d="M859.9 848.2C860.4 844.6 864 843.8 864.8 848.2C865.7 852.5 865.4 870.4 864.8 874C864.3 877.6 862.4 874 861.6 869.7C860.8 865.4 859.4 851.7 859.9 848.2Z" fill="#9a9a9a"/></g><rect x="663.9" y="817.9" width="200.7" height="1.5" fill="#b01c1c" fill-opacity=".72"/><rect x="703.9" y="776.4" width="1.8" height="190.2" fill="#2c2cd6" fill-opacity=".52"/></g>
<clipPath id="cp-r2c5"><rect x="867.6" y="772.2" width="197" height="194.7"/></clipPath>
<filter id="ve-r2c5" x="865.6" y="770.2" width="201" height="198.7" filterUnits="userSpaceOnUse" color-interpolation-filters="sRGB">
<feTurbulence type="turbulence" baseFrequency="0.14 0.115" numOctaves="1" seed="37"/>
<feColorMatrix type="matrix" values="0 0 0 0 .7  0 0 0 0 .7  0 0 0 0 .7  0 0 0 -11 1.55"/>
<feComposite operator="in" in2="SourceGraphic"/>
</filter>
<filter id="vm-r2c5" x="865.6" y="770.2" width="201" height="198.7" filterUnits="userSpaceOnUse" color-interpolation-filters="sRGB">
<feTurbulence type="turbulence" baseFrequency="0.17 0.09" numOctaves="1" seed="137" result="t"/>
<feColorMatrix type="matrix" values="0 0 0 0 .78  0 0 0 0 .78  0 0 0 0 .78  0 0 0 -4.2 1" result="v"/>
<feTurbulence type="fractalNoise" baseFrequency="0.07 0.045" numOctaves="2" seed="237"/>
<feColorMatrix type="matrix" values="0 0 0 0 1  0 0 0 0 1  0 0 0 0 1  0 0 0 2.2 -0.22" result="n"/>
<feGaussianBlur in="SourceGraphic" stdDeviation="4" result="g0"/>
<feComposite in="g0" in2="n" operator="arithmetic" k1="0.55" k2="0.5" k3="0" k4="0" result="g"/>
<feComposite in="v" in2="g" operator="arithmetic" k1="1" k2="0" k3="0" k4="0" result="m"/>
<feComponentTransfer in="m"><feFuncA type="linear" slope="12" intercept="-4.7"/></feComponentTransfer>
<feComposite operator="in" in2="SourceAlpha"/>
</filter>
<filter id="sp-r2c5" x="865.6" y="770.2" width="201" height="198.7" filterUnits="userSpaceOnUse" color-interpolation-filters="sRGB">
<feTurbulence type="fractalNoise" baseFrequency="0.26 0.15" numOctaves="1" seed="337"/>
<feColorMatrix type="matrix" values="0 0 0 0 .78  0 0 0 0 .78  0 0 0 0 .78  0 0 0 14 -9.45"/>
<feComposite operator="in" in2="SourceGraphic"/>
</filter>
<linearGradient id="dg-r2c5" gradientUnits="userSpaceOnUse" x1="0" y1="830.9" x2="0" y2="966.9"><stop offset="0" stop-color="#fff" stop-opacity="0.8"/><stop offset=".3" stop-color="#fff" stop-opacity="0.54"/><stop offset=".62" stop-color="#fff" stop-opacity="0.42"/><stop offset="1" stop-color="#fff" stop-opacity="0.39"/></linearGradient>
<clipPath id="cm-r2c5"><path d="M870.8 850.3L888 839.5L903.1 832L918.2 830.9L933.2 836.3L946.2 844.9L956.9 850.3L967.7 846L987.1 839.5L1006.5 835.2L1023.7 834.2L1040.9 837.4L1049.5 846L1044.2 848.2L1040.9 863.2L1032.3 884.8L1023.7 908.5L1015.1 934.3L1008.6 968.8L906.3 968.8L903.1 945.1L896.6 921.4L888 895.5L879.4 874L871.8 852.5Z"/></clipPath>
<g clip-path="url(#cp-r2c5)"><g filter="url(#soft)"><rect x="867.6" y="772.2" width="197" height="194.7" fill="#101010"/><rect x="867.6" y="772.2" width="197" height="194.7" filter="url(#grain)"/><path d="M879.4 771C873.6 772.2 880.8 776.4 883.7 778.2C886.6 779.9 892.3 781.2 896.6 781.4C900.9 781.6 905.9 781 909.5 779.2C913.1 777.5 923.2 772.4 918.2 771C913.1 769.7 885.1 769.9 879.4 771Z" fill="#232323"/><path d="M879.4 771C873.6 772.2 880.8 776.4 883.7 778.2C886.6 779.9 892.3 781.2 896.6 781.4C900.9 781.6 905.9 781 909.5 779.2C913.1 777.5 923.2 772.4 918.2 771C913.1 769.7 885.1 769.9 879.4 771Z" fill="#fff" filter="url(#ve-r2c5)"/><path d="M879.4 771C873.6 772.2 880.8 776.4 883.7 778.2C886.6 779.9 892.3 781.2 896.6 781.4C900.9 781.6 905.9 781 909.5 779.2C913.1 777.5 923.2 772.4 918.2 771C913.1 769.7 885.1 769.9 879.4 771Z" fill="none" stroke="#a6a6a6" stroke-width="2.2"/><path d="M1004.3 771C1001.8 772.1 1011.5 776.4 1015.1 777.1C1018.7 777.7 1023.3 775.9 1025.8 774.9C1028.4 773.9 1033.7 771.7 1030.2 771C1026.6 770.4 1006.8 770 1004.3 771Z" fill="#232323"/><path d="M1004.3 771C1001.8 772.1 1011.5 776.4 1015.1 777.1C1018.7 777.7 1023.3 775.9 1025.8 774.9C1028.4 773.9 1033.7 771.7 1030.2 771C1026.6 770.4 1006.8 770 1004.3 771Z" fill="#fff" filter="url(#ve-r2c5)"/><path d="M1004.3 771C1001.8 772.1 1011.5 776.4 1015.1 777.1C1018.7 777.7 1023.3 775.9 1025.8 774.9C1028.4 773.9 1033.7 771.7 1030.2 771C1026.6 770.4 1006.8 770 1004.3 771Z" fill="none" stroke="#a6a6a6" stroke-width="2.2"/><path d="M870.8 850.3L888 839.5L903.1 832L918.2 830.9L933.2 836.3L946.2 844.9L956.9 850.3L967.7 846L987.1 839.5L1006.5 835.2L1023.7 834.2L1040.9 837.4L1049.5 846L1044.2 848.2L1040.9 863.2L1032.3 884.8L1023.7 908.5L1015.1 934.3L1008.6 968.8L906.3 968.8L903.1 945.1L896.6 921.4L888 895.5L879.4 874L871.8 852.5Z" fill="#fff" fill-opacity=".035"/><g filter="url(#vm-r2c5)" clip-path="url(#cm-r2c5)"><rect x="857.6" y="762.2" width="217" height="214.7" fill="url(#dg-r2c5)"/><path d="M871.8 852.5L879.4 874L888 895.5L896.6 921.4L918.6 921.4L910 895.5L901.4 874L893.8 852.5Z" fill="#fff" fill-opacity="0.35"/><path d="M1044.2 848.2L1040.9 863.2L1032.3 884.8L1023.7 908.5L1001.7 908.5L1010.3 884.8L1018.9 863.2L1022.2 848.2Z" fill="#fff" fill-opacity="0.35"/></g><path d="M870.8 850.3L888 839.5L903.1 832L918.2 830.9L933.2 836.3L946.2 844.9L956.9 850.3L967.7 846L987.1 839.5L1006.5 835.2L1023.7 834.2L1040.9 837.4L1049.5 846L1044.2 848.2L1040.9 863.2L1032.3 884.8L1023.7 908.5L1015.1 934.3L1008.6 968.8L906.3 968.8L903.1 945.1L896.6 921.4L888 895.5L879.4 874L871.8 852.5Z" fill="#fff" filter="url(#sp-r2c5)"/><g clip-path="url(#cm-r2c5)"><path d="M870.8 856.8C873.6 855 882.6 849.1 888 846C893.4 842.9 898.1 839.9 903.1 838.5C908.1 837 913.1 836.7 918.2 837.4C923.2 838.1 928.6 840.4 933.2 842.8C937.9 845.1 942.2 849.1 946.2 851.4C950.1 853.7 953.3 856.6 956.9 856.8C960.5 856.9 962.7 854.3 967.7 852.5C972.7 850.7 980.6 847.8 987.1 846C993.5 844.2 1000.4 842.6 1006.5 841.7C1012.6 840.8 1017.9 840.3 1023.7 840.6C1029.4 841 1036.6 841.9 1040.9 843.8C1045.2 845.8 1048.1 851 1049.5 852.5" fill="none" stroke="#707070" stroke-width="5" stroke-opacity=".8" filter="url(#b1)"/><path d="M870.8 852.2C873.6 850.5 882.6 844.5 888 841.5C893.4 838.4 898.1 835.4 903.1 833.9C908.1 832.5 913.1 832.1 918.2 832.9C923.2 833.6 928.6 835.9 933.2 838.2C937.9 840.6 942.2 844.5 946.2 846.9C950.1 849.2 953.3 852.1 956.9 852.2C960.5 852.4 962.7 849.7 967.7 847.9C972.7 846.1 980.6 843.3 987.1 841.5C993.5 839.7 1000.4 838.1 1006.5 837.2C1012.6 836.3 1017.9 835.7 1023.7 836.1C1029.4 836.5 1036.6 837.3 1040.9 839.3C1045.2 841.3 1048.1 846.5 1049.5 847.9" fill="none" stroke="#1a1a1a" stroke-width="2.6" filter="url(#b05)"/></g><path d="M871.8 852.5L874.9 861.3L878 870.1L881.3 878.9L884.8 887.6L888.3 896.3L891.2 905.2L894.2 914.1L897 923L899.5 932L902 941L903.8 950.2L905 959.5L906.3 968.8L916.9 968.8L915 959.5L913 950.2L910.6 941L907.5 932L904.4 923L900.9 914.1L897.3 905.2L893.7 896.3L889.6 887.6L885.5 878.9L881 870.1L876.8 861.3L873 852.5Z" fill="#bababa"/><path d="M1044.2 848.2L1042.1 857.6L1039.4 866.9L1035.8 875.9L1032.2 885L1028.9 894.1L1025.6 903.2L1022.4 912.3L1019.3 921.5L1016.3 930.8L1014 940.2L1012.2 949.7L1010.4 959.2L1008.6 968.8L997 968.8L999.5 959.2L1002 949.7L1004.5 940.2L1007.4 930.8L1011.2 921.5L1015 912.3L1018.9 903.2L1022.9 894.1L1026.9 885L1031.2 875.9L1036.1 866.9L1040.2 857.6L1043 848.2Z" fill="#bababa"/><path d="M872.9 802.9C874.4 795.2 877.3 796.6 881.5 795.4C885.8 794.2 897.3 795.5 903.1 794.3C908.8 793.1 918.2 788.3 922.5 786.8C926.7 785.3 930.8 783.1 933.2 783.5C935.6 784 937.6 788.2 939.7 790C941.8 791.8 945.6 796.5 948.3 796.5C951 796.5 955.5 793 959.1 790C962.7 787 969.9 776.4 974.2 774.9C978.4 773.4 984.7 777.9 989.2 779.2C993.8 780.6 1001 783.7 1006.5 784.6C1011.9 785.5 1022.3 785.8 1028 785.7C1033.7 785.5 1044.1 781.7 1047.4 783.5C1050.7 785.3 1050.2 794.4 1051.7 798.6C1053.2 802.8 1056.3 810.4 1058.2 813.7C1060 817 1063.7 818.4 1064.6 822.3C1065.5 826.2 1066.7 838.4 1064.6 841.7C1062.5 845 1052.9 846.6 1049.5 846C1046.2 845.4 1044.5 839 1040.9 837.4C1037.3 835.7 1028.5 834.5 1023.7 834.2C1018.9 833.9 1011.6 834.5 1006.5 835.2C1001.3 836 992.5 838 987.1 839.5C981.6 841 971.9 844.5 967.7 846C963.5 847.5 959.9 850.5 956.9 850.3C953.9 850.2 949.5 846.9 946.2 844.9C942.8 843 937.2 838.3 933.2 836.3C929.3 834.3 922.4 831.5 918.2 830.9C913.9 830.3 907.3 830.8 903.1 832C898.9 833.2 892.5 837 888 839.5C883.5 842.1 872.9 855.4 870.8 850.3C868.7 845.2 871.4 810.6 872.9 802.9Z" fill="#232323"/><path d="M872.9 802.9C874.4 795.2 877.3 796.6 881.5 795.4C885.8 794.2 897.3 795.5 903.1 794.3C908.8 793.1 918.2 788.3 922.5 786.8C926.7 785.3 930.8 783.1 933.2 783.5C935.6 784 937.6 788.2 939.7 790C941.8 791.8 945.6 796.5 948.3 796.5C951 796.5 955.5 793 959.1 790C962.7 787 969.9 776.4 974.2 774.9C978.4 773.4 984.7 777.9 989.2 779.2C993.8 780.6 1001 783.7 1006.5 784.6C1011.9 785.5 1022.3 785.8 1028 785.7C1033.7 785.5 1044.1 781.7 1047.4 783.5C1050.7 785.3 1050.2 794.4 1051.7 798.6C1053.2 802.8 1056.3 810.4 1058.2 813.7C1060 817 1063.7 818.4 1064.6 822.3C1065.5 826.2 1066.7 838.4 1064.6 841.7C1062.5 845 1052.9 846.6 1049.5 846C1046.2 845.4 1044.5 839 1040.9 837.4C1037.3 835.7 1028.5 834.5 1023.7 834.2C1018.9 833.9 1011.6 834.5 1006.5 835.2C1001.3 836 992.5 838 987.1 839.5C981.6 841 971.9 844.5 967.7 846C963.5 847.5 959.9 850.5 956.9 850.3C953.9 850.2 949.5 846.9 946.2 844.9C942.8 843 937.2 838.3 933.2 836.3C929.3 834.3 922.4 831.5 918.2 830.9C913.9 830.3 907.3 830.8 903.1 832C898.9 833.2 892.5 837 888 839.5C883.5 842.1 872.9 855.4 870.8 850.3C868.7 845.2 871.4 810.6 872.9 802.9Z" fill="#fff" filter="url(#ve-r2c5)"/><path d="M872.9 802.9C874.4 795.2 877.3 796.6 881.5 795.4C885.8 794.2 897.3 795.5 903.1 794.3C908.8 793.1 918.2 788.3 922.5 786.8C926.7 785.3 930.8 783.1 933.2 783.5C935.6 784 937.6 788.2 939.7 790C941.8 791.8 945.6 796.5 948.3 796.5C951 796.5 955.5 793 959.1 790C962.7 787 969.9 776.4 974.2 774.9C978.4 773.4 984.7 777.9 989.2 779.2C993.8 780.6 1001 783.7 1006.5 784.6C1011.9 785.5 1022.3 785.8 1028 785.7C1033.7 785.5 1044.1 781.7 1047.4 783.5C1050.7 785.3 1050.2 794.4 1051.7 798.6C1053.2 802.8 1056.3 810.4 1058.2 813.7C1060 817 1063.7 818.4 1064.6 822.3C1065.5 826.2 1066.7 838.4 1064.6 841.7C1062.5 845 1052.9 846.6 1049.5 846C1046.2 845.4 1044.5 839 1040.9 837.4C1037.3 835.7 1028.5 834.5 1023.7 834.2C1018.9 833.9 1011.6 834.5 1006.5 835.2C1001.3 836 992.5 838 987.1 839.5C981.6 841 971.9 844.5 967.7 846C963.5 847.5 959.9 850.5 956.9 850.3C953.9 850.2 949.5 846.9 946.2 844.9C942.8 843 937.2 838.3 933.2 836.3C929.3 834.3 922.4 831.5 918.2 830.9C913.9 830.3 907.3 830.8 903.1 832C898.9 833.2 892.5 837 888 839.5C883.5 842.1 872.9 855.4 870.8 850.3C868.7 845.2 871.4 810.6 872.9 802.9Z" fill="none" stroke="#ababab" stroke-width="2.9"/></g><rect x="867.6" y="810.1" width="197" height="1.5" fill="#b01c1c" fill-opacity=".72"/><rect x="908.2" y="772.2" width="1.8" height="194.7" fill="#2c2cd6" fill-opacity=".52"/></g>
<rect x="867.5" y="772.2" width="1.9" height="194.7" fill="#27d027"/>
<rect x="867.5" y="966.8" width="197.1" height="2.3" fill="#27d027"/>
</svg>


<svg class="pc" viewBox="1070 370 937 605" role="img" aria-label="Charts">
<defs><filter id="cblur" x="-5%" y="-5%" width="110%" height="110%" color-interpolation-filters="sRGB"><feGaussianBlur stdDeviation="0.85" result="b"/><feComposite in="SourceGraphic" in2="b" operator="arithmetic" k1="0" k2="0.62" k3="0.5" k4="0"/></filter></defs>
<text x="1077.4" y="420.3" font-size="49.5" style="fill:#000">C</text>
<g class="chart" id="bvtv-sbp">
<path d="M1173.5 472.6V634.7H1417.2" stroke="#1c1c1c" stroke-width="1.7" fill="none" stroke-linecap="square"/>
<path d="M1168 472.6H1173.5" stroke="#1c1c1c" stroke-width="1.6"/>
<text x="1167.3" y="476.4" text-anchor="end" font-size="10.6" font-weight="bold">105</text>
<path d="M1168 526.8H1173.5" stroke="#1c1c1c" stroke-width="1.6"/>
<text x="1167.3" y="530.6" text-anchor="end" font-size="10.6" font-weight="bold">100</text>
<path d="M1168 581H1173.5" stroke="#1c1c1c" stroke-width="1.6"/>
<text x="1167.3" y="584.8" text-anchor="end" font-size="10.6" font-weight="bold">95</text>
<path d="M1168 634.7H1173.5" stroke="#1c1c1c" stroke-width="1.6"/>
<text x="1167.3" y="638.5" text-anchor="end" font-size="10.6" font-weight="bold">90</text>
<path d="M1231.4 634.7V640.2" stroke="#1c1c1c" stroke-width="1.6"/>
<text x="1231.4" y="652.4" text-anchor="middle" font-size="10.6" font-weight="bold">1</text>
<path d="M1356.9 634.7V640.2" stroke="#1c1c1c" stroke-width="1.6"/>
<text x="1356.9" y="652.4" text-anchor="middle" font-size="10.6" font-weight="bold">2</text>
<text x="1222.7" y="669.8" font-size="11.3" font-weight="bold" textLength="151.2" lengthAdjust="spacingAndGlyphs">Treatment Time (month)</text>
<text transform="translate(1138.8 610.5) rotate(-90)" font-size="11.6" font-weight="bold" textLength="113.7" lengthAdjust="spacingAndGlyphs">BV/TV of SBP (%)</text>
<circle cx="1183.1" cy="529.9" r="3.4" fill="#1a1aee"/>
<circle cx="1192.4" cy="529.9" r="3.4" fill="#1a1aee"/>
<circle cx="1186.2" cy="535.5" r="3.4" fill="#1a1aee"/>
<circle cx="1188.5" cy="531.5" r="3.4" fill="#1a1aee"/>
<path d="M1209.7 536.5V550.5M1206.1 536.5H1213.3M1206.1 550.5H1213.3" stroke="#f4141f" stroke-width="1.3" fill="none"/>
<path d="M1202.3 543.4H1217.1" stroke="#f4141f" stroke-width="1.4"/>
<rect x="1203" y="529.3" width="6.1" height="6.1" fill="#f4141f"/>
<rect x="1209.9" y="533.1" width="6.1" height="6.1" fill="#f4141f"/>
<rect x="1209.9" y="545.5" width="6.1" height="6.1" fill="#f4141f"/>
<rect x="1203" y="551.7" width="6.1" height="6.1" fill="#f4141f"/>
<path d="M1231.9 534.3V560.4M1228.3 534.3H1235.5M1228.3 560.4H1235.5" stroke="#22c322" stroke-width="1.3" fill="none"/>
<path d="M1224.5 547.1H1239.3" stroke="#22c322" stroke-width="1.4"/>
<path d="M1233.5 533.1L1237.2 539.7L1229.8 539.7Z" fill="#22c322"/>
<path d="M1229.8 540.6L1233.5 547.2L1226.1 547.2Z" fill="#22c322"/>
<path d="M1231.9 563.6L1235.6 570.2L1228.2 570.2Z" fill="#22c322"/>
<path d="M1246.9 535.5H1261.7" stroke="#a82bea" stroke-width="1.4"/>
<path d="M1249.7 537.4L1253.4 530.8L1246 530.8Z" fill="#a82bea"/>
<path d="M1259.1 534.3L1262.8 527.7L1255.4 527.7Z" fill="#a82bea"/>
<path d="M1252.2 543.6L1255.9 537L1248.5 537Z" fill="#a82bea"/>
<path d="M1256 538.7L1259.7 532.1L1252.3 532.1Z" fill="#a82bea"/>
<path d="M1276.3 538V548M1272.7 538H1279.9M1272.7 548H1279.9" stroke="#fb8a1c" stroke-width="1.3" fill="none"/>
<path d="M1268.9 543.4H1283.7" stroke="#fb8a1c" stroke-width="1.4"/>
<path d="M1275.9 529.8L1279.5 533.7L1275.9 537.6L1272.3 533.7Z" fill="#fb8a1c"/>
<path d="M1274 539.5L1277.6 543.4L1274 547.3L1270.4 543.4Z" fill="#fb8a1c"/>
<path d="M1279 539.5L1282.6 543.4L1279 547.3L1275.4 543.4Z" fill="#fb8a1c"/>
<path d="M1275.9 544.7L1279.5 548.6L1275.9 552.5L1272.3 548.6Z" fill="#fb8a1c"/>
<path d="M1312.9 533V549M1309.3 533H1316.5M1309.3 549H1316.5" stroke="#1a1aee" stroke-width="1.3" fill="none"/>
<path d="M1305.5 540.9H1320.3" stroke="#1a1aee" stroke-width="1.4"/>
<circle cx="1308.9" cy="531.2" r="3.4" fill="#1a1aee"/>
<circle cx="1317" cy="533" r="3.4" fill="#1a1aee"/>
<circle cx="1308.9" cy="551.1" r="3.4" fill="#1a1aee"/>
<circle cx="1317" cy="549.2" r="3.4" fill="#1a1aee"/>
<path d="M1335 523.7V567.5M1331.4 523.7H1338.6M1331.4 567.5H1338.6" stroke="#f4141f" stroke-width="1.3" fill="none"/>
<path d="M1327.6 545.9H1342.4" stroke="#f4141f" stroke-width="1.4"/>
<rect x="1334.4" y="529.3" width="6.1" height="6.1" fill="#f4141f"/>
<rect x="1329.5" y="533.1" width="6.1" height="6.1" fill="#f4141f"/>
<rect x="1331.9" y="575" width="6.1" height="6.1" fill="#f4141f"/>
<path d="M1357.2 543V553M1353.6 543H1360.8M1353.6 553H1360.8" stroke="#22c322" stroke-width="1.3" fill="none"/>
<path d="M1349.8 548H1364.6" stroke="#22c322" stroke-width="1.4"/>
<path d="M1353.7 538.1L1357.4 544.7L1350 544.7Z" fill="#22c322"/>
<path d="M1360.6 540.6L1364.3 547.2L1356.9 547.2Z" fill="#22c322"/>
<path d="M1360.6 548.7L1364.3 555.3L1356.9 555.3Z" fill="#22c322"/>
<path d="M1353.7 553.6L1357.4 560.2L1350 560.2Z" fill="#22c322"/>
<path d="M1379.3 528.5V549M1375.7 528.5H1382.9M1375.7 549H1382.9" stroke="#a82bea" stroke-width="1.3" fill="none"/>
<path d="M1371.9 538.4H1386.7" stroke="#a82bea" stroke-width="1.4"/>
<path d="M1375.5 533.6L1379.2 527L1371.8 527Z" fill="#a82bea"/>
<path d="M1383.6 543L1387.3 536.4L1379.9 536.4Z" fill="#a82bea"/>
<path d="M1379.3 554.2L1383 547.6L1375.6 547.6Z" fill="#a82bea"/>
<path d="M1402 541V554M1398.4 541H1405.6M1398.4 554H1405.6" stroke="#fb8a1c" stroke-width="1.3" fill="none"/>
<path d="M1394.6 547.4H1409.4" stroke="#fb8a1c" stroke-width="1.4"/>
<path d="M1398 536L1401.6 539.9L1398 543.8L1394.4 539.9Z" fill="#fb8a1c"/>
<path d="M1408.5 540.4L1412.1 544.3L1408.5 548.2L1404.9 544.3Z" fill="#fb8a1c"/>
<path d="M1403 544.7L1406.6 548.6L1403 552.5L1399.4 548.6Z" fill="#fb8a1c"/>
<path d="M1397.3 553.4L1400.9 557.3L1397.3 561.2L1393.7 557.3Z" fill="#fb8a1c"/>
<circle cx="1461.9" cy="483.4" r="3.4" fill="#1a1aee"/>
<text x="1480.5" y="487.3" font-size="13.200000000000001" stroke="#1a1a1a" stroke-width=".3" textLength="41.3" lengthAdjust="spacingAndGlyphs">Control</text>
<rect x="1458.8" y="502.3" width="6.1" height="6.1" fill="#f4141f"/>
<text x="1480.5" y="509.3" font-size="13.200000000000001" stroke="#1a1a1a" stroke-width=".3" textLength="38.6" lengthAdjust="spacingAndGlyphs">DMSO</text>
<path d="M1461.9 523.7L1465.6 530.3L1458.2 530.3Z" fill="#22c322"/>
<text x="1480.5" y="531.3" font-size="13.200000000000001" stroke="#1a1a1a" stroke-width=".3" textLength="42" lengthAdjust="spacingAndGlyphs">5mg/kg</text>
<path d="M1461.9 553.1L1465.6 546.5L1458.2 546.5Z" fill="#a82bea"/>
<text x="1480.5" y="553.3" font-size="13.200000000000001" stroke="#1a1a1a" stroke-width=".3" textLength="49.7" lengthAdjust="spacingAndGlyphs">10mg/kg</text>
<path d="M1461.9 567.5L1465.5 571.4L1461.9 575.3L1458.3 571.4Z" fill="#fb8a1c"/>
<text x="1480.5" y="575.3" font-size="13.200000000000001" stroke="#1a1a1a" stroke-width=".3" textLength="49.7" lengthAdjust="spacingAndGlyphs">25mg/kg</text>
</g>
<g class="chart" id="thickness-sbp">
<path d="M1626 472.9V635.8H1872.3" stroke="#1c1c1c" stroke-width="1.7" fill="none" stroke-linecap="square"/>
<path d="M1620.5 472.9H1626" stroke="#1c1c1c" stroke-width="1.6"/>
<text x="1619.4" y="477.1" text-anchor="end" font-size="11.6" font-weight="bold">0.3</text>
<path d="M1620.5 527.5H1626" stroke="#1c1c1c" stroke-width="1.6"/>
<text x="1619.4" y="531.7" text-anchor="end" font-size="11.6" font-weight="bold">0.2</text>
<path d="M1620.5 581.7H1626" stroke="#1c1c1c" stroke-width="1.6"/>
<text x="1619.4" y="585.9" text-anchor="end" font-size="11.6" font-weight="bold">0.1</text>
<path d="M1620.5 635.8H1626" stroke="#1c1c1c" stroke-width="1.6"/>
<text x="1619.4" y="640" text-anchor="end" font-size="11.6" font-weight="bold">0.0</text>
<path d="M1626 635.8V641.3" stroke="#1c1c1c" stroke-width="1.6"/>
<text x="1626" y="654.9" text-anchor="middle" font-size="11.6" font-weight="bold">0</text>
<path d="M1748.8 635.8V641.3" stroke="#1c1c1c" stroke-width="1.6"/>
<text x="1748.8" y="654.9" text-anchor="middle" font-size="11.6" font-weight="bold">1</text>
<path d="M1872.3 635.8V641.3" stroke="#1c1c1c" stroke-width="1.6"/>
<text x="1872.3" y="654.9" text-anchor="middle" font-size="11.6" font-weight="bold">2</text>
<text x="1672.2" y="673.5" font-size="12.4" font-weight="bold" textLength="154.3" lengthAdjust="spacingAndGlyphs">Treatment Time (month)</text>
<text transform="translate(1593.2 641.5) rotate(-90)" font-size="15.2" font-weight="bold" textLength="174.3" lengthAdjust="spacingAndGlyphs">Thickness of SBP (mm)</text>
<path d="M1626 540.5L1748.8 555.1L1872.3 543.2" stroke="#fb8a1c" stroke-width="1.9" fill="none" stroke-linejoin="round"/>
<path d="M1748.8 543.9V566.3M1745.7 543.9H1751.9M1745.7 566.3H1751.9" stroke="#fb8a1c" stroke-width="1.5" fill="none"/>
<path d="M1872.3 537.7V548.1M1869.2 537.7H1875.4M1869.2 548.1H1875.4" stroke="#fb8a1c" stroke-width="1.5" fill="none"/>
<path d="M1626 537.2L1629 540.5L1626 543.8L1623 540.5Z" fill="#fb8a1c"/>
<path d="M1748.8 551.8L1751.8 555.1L1748.8 558.4L1745.8 555.1Z" fill="#fb8a1c"/>
<path d="M1872.3 539.9L1875.3 543.2L1872.3 546.5L1869.3 543.2Z" fill="#fb8a1c"/>
<path d="M1626 540.5L1748.8 538.6L1872.3 533.9" stroke="#a82bea" stroke-width="1.9" fill="none" stroke-linejoin="round"/>
<path d="M1748.8 533.5V543.9M1745.7 533.5H1751.9M1745.7 543.9H1751.9" stroke="#a82bea" stroke-width="1.5" fill="none"/>
<path d="M1872.3 525.8V550.2M1869.2 525.8H1875.4M1869.2 550.2H1875.4" stroke="#a82bea" stroke-width="1.5" fill="none"/>
<path d="M1626 543.7L1629.2 538L1622.8 538Z" fill="#a82bea"/>
<path d="M1748.8 541.8L1752 536.1L1745.6 536.1Z" fill="#a82bea"/>
<path d="M1872.3 537.1L1875.5 531.4L1869.1 531.4Z" fill="#a82bea"/>
<path d="M1626 540.5L1748.8 534.2L1872.3 530" stroke="#22c322" stroke-width="1.9" fill="none" stroke-linejoin="round"/>
<path d="M1748.8 534.2V555.1M1745.7 534.2H1751.9M1745.7 555.1H1751.9" stroke="#22c322" stroke-width="1.5" fill="none"/>
<path d="M1872.3 516.7V542.5M1869.2 516.7H1875.4M1869.2 542.5H1875.4" stroke="#22c322" stroke-width="1.5" fill="none"/>
<path d="M1626 537.3L1629.2 543L1622.8 543Z" fill="#22c322"/>
<path d="M1748.8 531L1752 536.7L1745.6 536.7Z" fill="#22c322"/>
<path d="M1872.3 526.8L1875.5 532.5L1869.1 532.5Z" fill="#22c322"/>
<path d="M1626 540.5L1748.8 514.6L1872.3 507.9" stroke="#f4141f" stroke-width="1.9" fill="none" stroke-linejoin="round"/>
<path d="M1748.8 496.5V532.1M1745.7 496.5H1751.9M1745.7 532.1H1751.9" stroke="#f4141f" stroke-width="1.5" fill="none"/>
<path d="M1872.3 504.2V516.7M1869.2 504.2H1875.4M1869.2 516.7H1875.4" stroke="#f4141f" stroke-width="1.5" fill="none"/>
<rect x="1623.4" y="537.9" width="5.2" height="5.2" fill="#f4141f"/>
<rect x="1746.2" y="512" width="5.2" height="5.2" fill="#f4141f"/>
<rect x="1869.7" y="505.3" width="5.2" height="5.2" fill="#f4141f"/>
<path d="M1626 540.5L1748.8 515.3L1872.3 499.7" stroke="#1a1aee" stroke-width="1.9" fill="none" stroke-linejoin="round"/>
<path d="M1626 529.3V551.6M1622.9 529.3H1629.1M1622.9 551.6H1629.1" stroke="#1a1aee" stroke-width="1.5" fill="none"/>
<path d="M1748.8 503.5V527.9M1745.7 503.5H1751.9M1745.7 527.9H1751.9" stroke="#1a1aee" stroke-width="1.5" fill="none"/>
<path d="M1872.3 488.1V510.5M1869.2 488.1H1875.4M1869.2 510.5H1875.4" stroke="#1a1aee" stroke-width="1.5" fill="none"/>
<circle cx="1626" cy="540.5" r="3.5" fill="#1a1aee"/>
<circle cx="1748.8" cy="515.3" r="3.5" fill="#1a1aee"/>
<circle cx="1872.3" cy="499.7" r="3.5" fill="#1a1aee"/>
<path d="M1909.4 484H1926.8" stroke="#1a1aee" stroke-width="1.8"/>
<circle cx="1918.2" cy="484" r="3.1" fill="#1a1aee"/>
<text x="1936.9" y="488" font-size="13.4" stroke="#1a1a1a" stroke-width=".3" textLength="41.9" lengthAdjust="spacingAndGlyphs">Control</text>
<path d="M1909.4 505.9H1926.8" stroke="#f4141f" stroke-width="1.8"/>
<rect x="1915.4" y="503.1" width="5.6" height="5.6" fill="#f4141f"/>
<text x="1936.9" y="509.9" font-size="13.4" stroke="#1a1a1a" stroke-width=".3" textLength="39.2" lengthAdjust="spacingAndGlyphs">DMSO</text>
<path d="M1909.4 528H1926.8" stroke="#22c322" stroke-width="1.8"/>
<path d="M1918.2 524.6L1921.6 530.6L1914.8 530.6Z" fill="#22c322"/>
<text x="1936.9" y="532" font-size="13.4" stroke="#1a1a1a" stroke-width=".3" textLength="42.6" lengthAdjust="spacingAndGlyphs">5mg/kg</text>
<path d="M1909.4 550.2H1926.8" stroke="#a82bea" stroke-width="1.8"/>
<path d="M1918.2 553.6L1921.6 547.6L1914.8 547.6Z" fill="#a82bea"/>
<text x="1936.9" y="554.2" font-size="13.4" stroke="#1a1a1a" stroke-width=".3" textLength="50.4" lengthAdjust="spacingAndGlyphs">10mg/kg</text>
<path d="M1909.4 572.6H1926.8" stroke="#fb8a1c" stroke-width="1.8"/>
<path d="M1918.2 569L1921.5 572.6L1918.2 576.2L1914.9 572.6Z" fill="#fb8a1c"/>
<text x="1936.9" y="576.6" font-size="13.4" stroke="#1a1a1a" stroke-width=".3" textLength="50.4" lengthAdjust="spacingAndGlyphs">25mg/kg</text>
</g>
<g class="chart" id="bvtv-sbt">
<path d="M1174 753.6V921.5H1425.3" stroke="#1c1c1c" stroke-width="1.7" fill="none" stroke-linecap="square"/>
<path d="M1168.5 753.6H1174" stroke="#1c1c1c" stroke-width="1.6"/>
<text x="1167.4" y="757.6" text-anchor="end" font-size="11.2" font-weight="bold">60</text>
<path d="M1168.5 795.8H1174" stroke="#1c1c1c" stroke-width="1.6"/>
<text x="1167.4" y="799.8" text-anchor="end" font-size="11.2" font-weight="bold">50</text>
<path d="M1168.5 837.5H1174" stroke="#1c1c1c" stroke-width="1.6"/>
<text x="1167.4" y="841.5" text-anchor="end" font-size="11.2" font-weight="bold">40</text>
<path d="M1168.5 879.5H1174" stroke="#1c1c1c" stroke-width="1.6"/>
<text x="1167.4" y="883.5" text-anchor="end" font-size="11.2" font-weight="bold">30</text>
<path d="M1168.5 921.5H1174" stroke="#1c1c1c" stroke-width="1.6"/>
<text x="1167.4" y="925.5" text-anchor="end" font-size="11.2" font-weight="bold">20</text>
<path d="M1174 921.5V927" stroke="#1c1c1c" stroke-width="1.6"/>
<text x="1174" y="939.9" text-anchor="middle" font-size="11.2" font-weight="bold">0</text>
<path d="M1299.6 921.5V927" stroke="#1c1c1c" stroke-width="1.6"/>
<text x="1299.6" y="939.9" text-anchor="middle" font-size="11.2" font-weight="bold">1</text>
<path d="M1425.3 921.5V927" stroke="#1c1c1c" stroke-width="1.6"/>
<text x="1425.3" y="939.9" text-anchor="middle" font-size="11.2" font-weight="bold">2</text>
<text x="1221.9" y="959.1" font-size="11.9" font-weight="bold" textLength="157" lengthAdjust="spacingAndGlyphs">Treatment Time (month)</text>
<text transform="translate(1145.6 895.8) rotate(-90)" font-size="12.2" font-weight="bold" textLength="117.6" lengthAdjust="spacingAndGlyphs">BV/TV of SBT (%)</text>
<path d="M1174 871.1L1299.6 857.9L1425.3 853.9" stroke="#fb8a1c" stroke-width="1.9" fill="none" stroke-linejoin="round"/>
<path d="M1299.6 840.9V874.6M1296.5 840.9H1302.7M1296.5 874.6H1302.7" stroke="#fb8a1c" stroke-width="1.5" fill="none"/>
<path d="M1425.3 842V866.6M1422.2 842H1428.4M1422.2 866.6H1428.4" stroke="#fb8a1c" stroke-width="1.5" fill="none"/>
<path d="M1174 871.1L1299.6 861.9L1425.3 849.9" stroke="#a82bea" stroke-width="1.9" fill="none" stroke-linejoin="round"/>
<path d="M1299.6 836.4V886.5M1296.5 836.4H1302.7M1296.5 886.5H1302.7" stroke="#a82bea" stroke-width="1.5" fill="none"/>
<path d="M1425.3 831.7V867.4M1422.2 831.7H1428.4M1422.2 867.4H1428.4" stroke="#a82bea" stroke-width="1.5" fill="none"/>
<path d="M1174 871.1L1299.6 846L1425.3 809.4" stroke="#22c322" stroke-width="1.9" fill="none" stroke-linejoin="round"/>
<path d="M1299.6 828.5V863.5M1296.5 828.5H1302.7M1296.5 863.5H1302.7" stroke="#22c322" stroke-width="1.5" fill="none"/>
<path d="M1425.3 823.7V830M1422.2 823.7H1428.4M1422.2 830H1428.4" stroke="#22c322" stroke-width="1.5" fill="none"/>
<path d="M1174 871.1L1299.6 828L1425.3 808.6" stroke="#f4141f" stroke-width="1.9" fill="none" stroke-linejoin="round"/>
<path d="M1425.3 766.5V850.7M1422.2 766.5H1428.4M1422.2 850.7H1428.4" stroke="#f4141f" stroke-width="1.5" fill="none"/>
<path d="M1174 871.1L1299.6 829L1425.3 811.8" stroke="#1a1aee" stroke-width="1.9" fill="none" stroke-linejoin="round"/>
<path d="M1174 855V886.8M1170.9 855H1177.1M1170.9 886.8H1177.1" stroke="#1a1aee" stroke-width="1.5" fill="none"/>
<path d="M1299.6 792.4V865M1296.5 792.4H1302.7M1296.5 865H1302.7" stroke="#1a1aee" stroke-width="1.5" fill="none"/>
<path d="M1425.3 792.7V830.9M1422.2 792.7H1428.4M1422.2 830.9H1428.4" stroke="#1a1aee" stroke-width="1.5" fill="none"/>
<path d="M1463.6 765.2H1480.7" stroke="#1a1aee" stroke-width="1.8"/>
<text x="1491.2" y="769.3" font-size="13.6" stroke="#1a1a1a" stroke-width=".3" textLength="42.7" lengthAdjust="spacingAndGlyphs">Control</text>
<path d="M1463.6 787.8H1480.7" stroke="#f4141f" stroke-width="1.8"/>
<text x="1491.2" y="791.9" font-size="13.6" stroke="#1a1a1a" stroke-width=".3" textLength="40" lengthAdjust="spacingAndGlyphs">DMSO</text>
<path d="M1463.6 810.4H1480.7" stroke="#22c322" stroke-width="1.8"/>
<text x="1491.2" y="814.5" font-size="13.6" stroke="#1a1a1a" stroke-width=".3" textLength="43.4" lengthAdjust="spacingAndGlyphs">5mg/kg</text>
<path d="M1463.6 833H1480.7" stroke="#a82bea" stroke-width="1.8"/>
<text x="1491.2" y="837.1" font-size="13.6" stroke="#1a1a1a" stroke-width=".3" textLength="51" lengthAdjust="spacingAndGlyphs">10mg/kg</text>
<path d="M1463.6 855.6H1480.7" stroke="#fb8a1c" stroke-width="1.8"/>
<text x="1491.2" y="859.7" font-size="13.6" stroke="#1a1a1a" stroke-width=".3" textLength="51" lengthAdjust="spacingAndGlyphs">25mg/kg</text>
</g>
<g class="chart" id="smi">
<path d="M1628.7 755.2V924H1882.9" stroke="#1c1c1c" stroke-width="1.7" fill="none" stroke-linecap="square"/>
<path d="M1623.2 755.2H1628.7" stroke="#1c1c1c" stroke-width="1.6"/>
<text x="1621.8" y="759.5" text-anchor="end" font-size="12" font-weight="bold">2.5</text>
<path d="M1623.2 797.3H1628.7" stroke="#1c1c1c" stroke-width="1.6"/>
<text x="1621.8" y="801.6" text-anchor="end" font-size="12" font-weight="bold">2.0</text>
<path d="M1623.2 839.8H1628.7" stroke="#1c1c1c" stroke-width="1.6"/>
<text x="1621.8" y="844.1" text-anchor="end" font-size="12" font-weight="bold">1.5</text>
<path d="M1623.2 882H1628.7" stroke="#1c1c1c" stroke-width="1.6"/>
<text x="1621.8" y="886.3" text-anchor="end" font-size="12" font-weight="bold">1.0</text>
<path d="M1623.2 924H1628.7" stroke="#1c1c1c" stroke-width="1.6"/>
<text x="1621.8" y="928.3" text-anchor="end" font-size="12" font-weight="bold">0.5</text>
<path d="M1628.7 924V929.5" stroke="#1c1c1c" stroke-width="1.6"/>
<text x="1628.7" y="943.2" text-anchor="middle" font-size="12" font-weight="bold">0</text>
<path d="M1755.8 924V929.5" stroke="#1c1c1c" stroke-width="1.6"/>
<text x="1755.8" y="943.2" text-anchor="middle" font-size="12" font-weight="bold">1</text>
<path d="M1882.9 924V929.5" stroke="#1c1c1c" stroke-width="1.6"/>
<text x="1882.9" y="943.2" text-anchor="middle" font-size="12" font-weight="bold">2</text>
<text x="1676.8" y="962.4" font-size="12.3" font-weight="bold" textLength="159.6" lengthAdjust="spacingAndGlyphs">Treatment Time (month)</text>
<text transform="translate(1596.4 853.1) rotate(-90)" font-size="15.8" font-weight="bold" textLength="28.1" lengthAdjust="spacingAndGlyphs">SMI</text>
<path d="M1628.7 803L1755.8 814.5L1882.9 823.7" stroke="#fb8a1c" stroke-width="1.9" fill="none" stroke-linejoin="round"/>
<path d="M1882.9 808.6V839.6M1879.8 808.6H1886M1879.8 839.6H1886" stroke="#fb8a1c" stroke-width="1.5" fill="none"/>
<path d="M1628.7 803L1755.8 821L1882.9 814.6" stroke="#a82bea" stroke-width="1.9" fill="none" stroke-linejoin="round"/>
<path d="M1755.8 792.7V849.1M1752.7 792.7H1758.9M1752.7 849.1H1758.9" stroke="#a82bea" stroke-width="1.5" fill="none"/>
<path d="M1882.9 787.6V840.4M1879.8 787.6H1886M1879.8 840.4H1886" stroke="#a82bea" stroke-width="1.5" fill="none"/>
<path d="M1628.7 803L1755.8 831.7L1882.9 861.9" stroke="#22c322" stroke-width="1.9" fill="none" stroke-linejoin="round"/>
<path d="M1755.8 798.7V864.6M1752.7 798.7H1758.9M1752.7 864.6H1758.9" stroke="#22c322" stroke-width="1.5" fill="none"/>
<path d="M1882.9 848.4V874.6M1879.8 848.4H1886M1879.8 874.6H1886" stroke="#22c322" stroke-width="1.5" fill="none"/>
<path d="M1628.7 803L1755.8 830.9L1882.9 852.3" stroke="#f4141f" stroke-width="1.9" fill="none" stroke-linejoin="round"/>
<path d="M1755.8 801.4V860M1752.7 801.4H1758.9M1752.7 860H1758.9" stroke="#f4141f" stroke-width="1.5" fill="none"/>
<path d="M1882.9 841.2V863M1879.8 841.2H1886M1879.8 863H1886" stroke="#f4141f" stroke-width="1.5" fill="none"/>
<path d="M1628.7 803L1755.8 838L1882.9 862.3" stroke="#1a1aee" stroke-width="1.9" fill="none" stroke-linejoin="round"/>
<path d="M1628.7 794.6V811.8M1625.6 794.6H1631.8M1625.6 811.8H1631.8" stroke="#1a1aee" stroke-width="1.5" fill="none"/>
<path d="M1755.8 801.4V874.1M1752.7 801.4H1758.9M1752.7 874.1H1758.9" stroke="#1a1aee" stroke-width="1.5" fill="none"/>
<path d="M1882.9 853.4V871.4M1879.8 853.4H1886M1879.8 871.4H1886" stroke="#1a1aee" stroke-width="1.5" fill="none"/>
<path d="M1921.8 766.9H1939.4" stroke="#1a1aee" stroke-width="1.8"/>
<text x="1949.9" y="771.1" font-size="13.9" stroke="#1a1a1a" stroke-width=".3" textLength="44" lengthAdjust="spacingAndGlyphs">Control</text>
<path d="M1921.8 789.5H1939.4" stroke="#f4141f" stroke-width="1.8"/>
<text x="1949.9" y="793.7" font-size="13.9" stroke="#1a1a1a" stroke-width=".3" textLength="41" lengthAdjust="spacingAndGlyphs">DMSO</text>
<path d="M1921.8 812.4H1939.4" stroke="#22c322" stroke-width="1.8"/>
<text x="1949.9" y="816.6" font-size="13.9" stroke="#1a1a1a" stroke-width=".3" textLength="44.6" lengthAdjust="spacingAndGlyphs">5mg/kg</text>
<path d="M1921.8 835H1939.4" stroke="#a82bea" stroke-width="1.8"/>
<text x="1949.9" y="839.2" font-size="13.9" stroke="#1a1a1a" stroke-width=".3" textLength="51.8" lengthAdjust="spacingAndGlyphs">10mg/kg</text>
<path d="M1921.8 858.1H1939.4" stroke="#fb8a1c" stroke-width="1.8"/>
<text x="1949.9" y="862.3" font-size="13.9" stroke="#1a1a1a" stroke-width=".3" textLength="51.8" lengthAdjust="spacingAndGlyphs">25mg/kg</text>
</g>

</svg>

</body>
</html>
